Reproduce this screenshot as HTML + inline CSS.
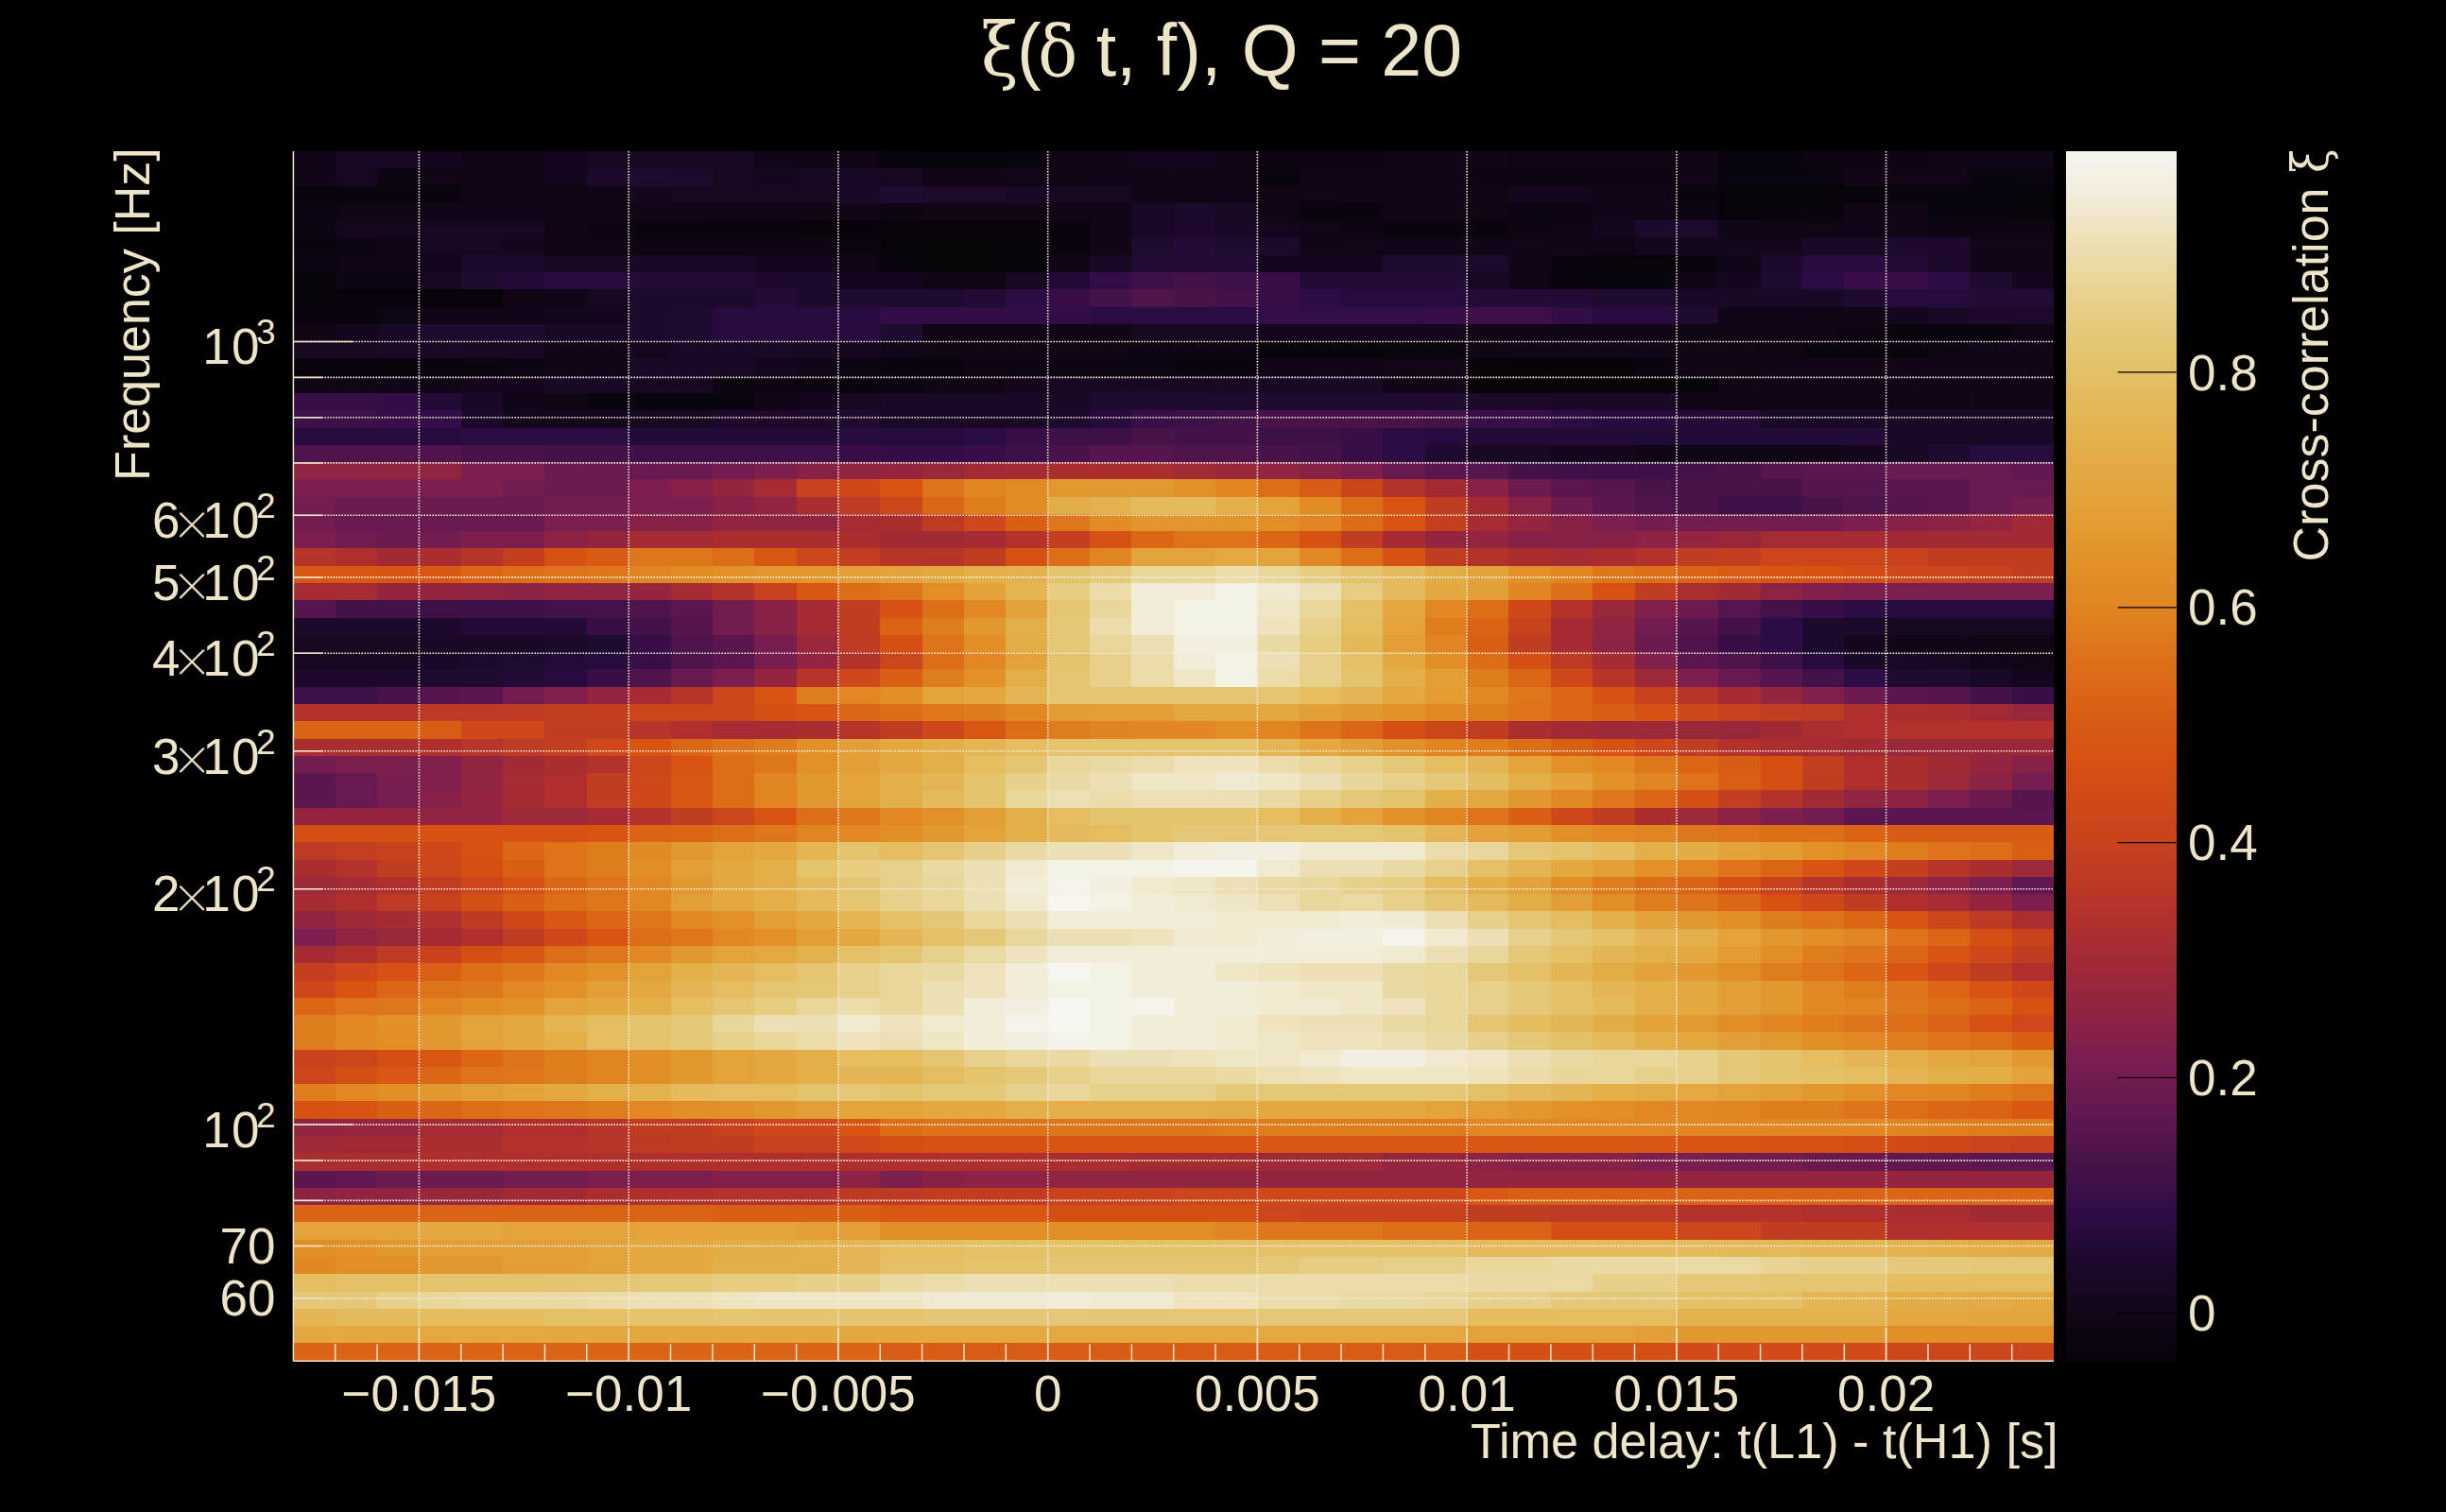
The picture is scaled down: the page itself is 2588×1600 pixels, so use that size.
<!DOCTYPE html><html><head><meta charset="utf-8"><style>html,body{margin:0;padding:0;background:#000;overflow:hidden}svg{display:block}text{font-family:'Liberation Sans', Arial, sans-serif;fill:#eee5c9}.s{font-family:"DejaVu Serif","Liberation Serif",serif}</style></head><body>
<svg width="2588" height="1600" viewBox="0 0 2588 1600">
<rect width="2588" height="1600" fill="#000"/>
<g shape-rendering="crispEdges">
<rect x="310" y="160" width="45" height="18" fill="#110618"/>
<rect x="355" y="160" width="44" height="18" fill="#190826"/>
<rect x="399" y="160" width="44" height="18" fill="#190826"/>
<rect x="443" y="160" width="45" height="18" fill="#14071d"/>
<rect x="488" y="160" width="44" height="18" fill="#0f0515"/>
<rect x="532" y="160" width="44" height="18" fill="#110618"/>
<rect x="576" y="160" width="45" height="18" fill="#14071d"/>
<rect x="621" y="160" width="44" height="18" fill="#170822"/>
<rect x="665" y="160" width="45" height="18" fill="#170822"/>
<rect x="710" y="160" width="44" height="18" fill="#170822"/>
<rect x="754" y="160" width="44" height="18" fill="#170822"/>
<rect x="798" y="160" width="45" height="18" fill="#110618"/>
<rect x="843" y="160" width="44" height="18" fill="#0f0515"/>
<rect x="887" y="160" width="44" height="18" fill="#0f0515"/>
<rect x="931" y="160" width="45" height="18" fill="#0a040e"/>
<rect x="976" y="160" width="44" height="18" fill="#08030b"/>
<rect x="1020" y="160" width="44" height="18" fill="#08030b"/>
<rect x="1064" y="160" width="45" height="18" fill="#0a040e"/>
<rect x="1109" y="160" width="44" height="18" fill="#0f0515"/>
<rect x="1153" y="160" width="44" height="18" fill="#110618"/>
<rect x="1197" y="160" width="45" height="18" fill="#14071d"/>
<rect x="1242" y="160" width="44" height="18" fill="#14071d"/>
<rect x="1286" y="160" width="44" height="18" fill="#0f0515"/>
<rect x="1330" y="160" width="45" height="18" fill="#0d0511"/>
<rect x="1375" y="160" width="44" height="18" fill="#0d0511"/>
<rect x="1419" y="160" width="44" height="18" fill="#0d0511"/>
<rect x="1463" y="160" width="45" height="18" fill="#110618"/>
<rect x="1508" y="160" width="44" height="18" fill="#110618"/>
<rect x="1552" y="160" width="44" height="18" fill="#110618"/>
<rect x="1596" y="160" width="45" height="18" fill="#0f0515"/>
<rect x="1641" y="160" width="44" height="18" fill="#0f0515"/>
<rect x="1685" y="160" width="45" height="18" fill="#0f0515"/>
<rect x="1730" y="160" width="44" height="18" fill="#0f0515"/>
<rect x="1774" y="160" width="44" height="18" fill="#0f0515"/>
<rect x="1818" y="160" width="45" height="18" fill="#0a040e"/>
<rect x="1863" y="160" width="44" height="18" fill="#0a040e"/>
<rect x="1907" y="160" width="44" height="18" fill="#0d0511"/>
<rect x="1951" y="160" width="45" height="18" fill="#0d0511"/>
<rect x="1996" y="160" width="44" height="18" fill="#0d0511"/>
<rect x="2040" y="160" width="44" height="18" fill="#110618"/>
<rect x="2084" y="160" width="45" height="18" fill="#110618"/>
<rect x="2129" y="160" width="44" height="18" fill="#110618"/>
<rect x="310" y="178" width="45" height="19" fill="#110618"/>
<rect x="355" y="178" width="44" height="19" fill="#170822"/>
<rect x="399" y="178" width="44" height="19" fill="#0d0511"/>
<rect x="443" y="178" width="45" height="19" fill="#0f0515"/>
<rect x="488" y="178" width="44" height="19" fill="#0f0515"/>
<rect x="532" y="178" width="44" height="19" fill="#0f0515"/>
<rect x="576" y="178" width="45" height="19" fill="#14071d"/>
<rect x="621" y="178" width="44" height="19" fill="#1c092b"/>
<rect x="665" y="178" width="45" height="19" fill="#1f0a30"/>
<rect x="710" y="178" width="44" height="19" fill="#1c092b"/>
<rect x="754" y="178" width="44" height="19" fill="#170822"/>
<rect x="798" y="178" width="45" height="19" fill="#14071d"/>
<rect x="843" y="178" width="44" height="19" fill="#170822"/>
<rect x="887" y="178" width="44" height="19" fill="#190826"/>
<rect x="931" y="178" width="45" height="19" fill="#170822"/>
<rect x="976" y="178" width="44" height="19" fill="#110618"/>
<rect x="1020" y="178" width="44" height="19" fill="#110618"/>
<rect x="1064" y="178" width="45" height="19" fill="#110618"/>
<rect x="1109" y="178" width="44" height="19" fill="#0f0515"/>
<rect x="1153" y="178" width="44" height="19" fill="#110618"/>
<rect x="1197" y="178" width="45" height="19" fill="#110618"/>
<rect x="1242" y="178" width="44" height="19" fill="#0f0515"/>
<rect x="1286" y="178" width="44" height="19" fill="#0f0515"/>
<rect x="1330" y="178" width="45" height="19" fill="#0a040e"/>
<rect x="1375" y="178" width="44" height="19" fill="#0f0515"/>
<rect x="1419" y="178" width="44" height="19" fill="#0f0515"/>
<rect x="1463" y="178" width="45" height="19" fill="#110618"/>
<rect x="1508" y="178" width="44" height="19" fill="#110618"/>
<rect x="1552" y="178" width="44" height="19" fill="#0d0511"/>
<rect x="1596" y="178" width="45" height="19" fill="#0d0511"/>
<rect x="1641" y="178" width="44" height="19" fill="#0d0511"/>
<rect x="1685" y="178" width="45" height="19" fill="#0d0511"/>
<rect x="1730" y="178" width="44" height="19" fill="#0d0511"/>
<rect x="1774" y="178" width="44" height="19" fill="#0f0515"/>
<rect x="1818" y="178" width="45" height="19" fill="#0a040e"/>
<rect x="1863" y="178" width="44" height="19" fill="#0a040e"/>
<rect x="1907" y="178" width="44" height="19" fill="#0a040e"/>
<rect x="1951" y="178" width="45" height="19" fill="#110618"/>
<rect x="1996" y="178" width="44" height="19" fill="#0f0515"/>
<rect x="2040" y="178" width="44" height="19" fill="#0f0515"/>
<rect x="2084" y="178" width="45" height="19" fill="#0a040e"/>
<rect x="2129" y="178" width="44" height="19" fill="#0a040e"/>
<rect x="310" y="197" width="45" height="18" fill="#0a040e"/>
<rect x="355" y="197" width="44" height="18" fill="#0a040e"/>
<rect x="399" y="197" width="44" height="18" fill="#0a040e"/>
<rect x="443" y="197" width="45" height="18" fill="#0a040e"/>
<rect x="488" y="197" width="44" height="18" fill="#0f0515"/>
<rect x="532" y="197" width="44" height="18" fill="#0f0515"/>
<rect x="576" y="197" width="45" height="18" fill="#110618"/>
<rect x="621" y="197" width="44" height="18" fill="#110618"/>
<rect x="665" y="197" width="45" height="18" fill="#14071d"/>
<rect x="710" y="197" width="44" height="18" fill="#170822"/>
<rect x="754" y="197" width="44" height="18" fill="#170822"/>
<rect x="798" y="197" width="45" height="18" fill="#170822"/>
<rect x="843" y="197" width="44" height="18" fill="#170822"/>
<rect x="887" y="197" width="44" height="18" fill="#190826"/>
<rect x="931" y="197" width="45" height="18" fill="#1f0a30"/>
<rect x="976" y="197" width="44" height="18" fill="#1c092b"/>
<rect x="1020" y="197" width="44" height="18" fill="#1c092b"/>
<rect x="1064" y="197" width="45" height="18" fill="#190826"/>
<rect x="1109" y="197" width="44" height="18" fill="#170822"/>
<rect x="1153" y="197" width="44" height="18" fill="#170822"/>
<rect x="1197" y="197" width="45" height="18" fill="#110618"/>
<rect x="1242" y="197" width="44" height="18" fill="#0f0515"/>
<rect x="1286" y="197" width="44" height="18" fill="#0f0515"/>
<rect x="1330" y="197" width="45" height="18" fill="#0f0515"/>
<rect x="1375" y="197" width="44" height="18" fill="#0f0515"/>
<rect x="1419" y="197" width="44" height="18" fill="#110618"/>
<rect x="1463" y="197" width="45" height="18" fill="#110618"/>
<rect x="1508" y="197" width="44" height="18" fill="#110618"/>
<rect x="1552" y="197" width="44" height="18" fill="#0f0515"/>
<rect x="1596" y="197" width="45" height="18" fill="#14071d"/>
<rect x="1641" y="197" width="44" height="18" fill="#14071d"/>
<rect x="1685" y="197" width="45" height="18" fill="#110618"/>
<rect x="1730" y="197" width="44" height="18" fill="#110618"/>
<rect x="1774" y="197" width="44" height="18" fill="#0a040e"/>
<rect x="1818" y="197" width="45" height="18" fill="#070309"/>
<rect x="1863" y="197" width="44" height="18" fill="#070309"/>
<rect x="1907" y="197" width="44" height="18" fill="#070309"/>
<rect x="1951" y="197" width="45" height="18" fill="#08030b"/>
<rect x="1996" y="197" width="44" height="18" fill="#0a040e"/>
<rect x="2040" y="197" width="44" height="18" fill="#0a040e"/>
<rect x="2084" y="197" width="45" height="18" fill="#0a040e"/>
<rect x="2129" y="197" width="44" height="18" fill="#08030b"/>
<rect x="310" y="215" width="45" height="18" fill="#0d0511"/>
<rect x="355" y="215" width="44" height="18" fill="#0f0515"/>
<rect x="399" y="215" width="44" height="18" fill="#0f0515"/>
<rect x="443" y="215" width="45" height="18" fill="#110618"/>
<rect x="488" y="215" width="44" height="18" fill="#110618"/>
<rect x="532" y="215" width="44" height="18" fill="#110618"/>
<rect x="576" y="215" width="45" height="18" fill="#110618"/>
<rect x="621" y="215" width="44" height="18" fill="#110618"/>
<rect x="665" y="215" width="45" height="18" fill="#110618"/>
<rect x="710" y="215" width="44" height="18" fill="#110618"/>
<rect x="754" y="215" width="44" height="18" fill="#0f0515"/>
<rect x="798" y="215" width="45" height="18" fill="#0f0515"/>
<rect x="843" y="215" width="44" height="18" fill="#0f0515"/>
<rect x="887" y="215" width="44" height="18" fill="#110618"/>
<rect x="931" y="215" width="45" height="18" fill="#0d0511"/>
<rect x="976" y="215" width="44" height="18" fill="#0f0515"/>
<rect x="1020" y="215" width="44" height="18" fill="#0f0515"/>
<rect x="1064" y="215" width="45" height="18" fill="#0f0515"/>
<rect x="1109" y="215" width="44" height="18" fill="#110618"/>
<rect x="1153" y="215" width="44" height="18" fill="#110618"/>
<rect x="1197" y="215" width="45" height="18" fill="#190826"/>
<rect x="1242" y="215" width="44" height="18" fill="#1c092b"/>
<rect x="1286" y="215" width="44" height="18" fill="#170822"/>
<rect x="1330" y="215" width="45" height="18" fill="#0f0515"/>
<rect x="1375" y="215" width="44" height="18" fill="#0a040e"/>
<rect x="1419" y="215" width="44" height="18" fill="#0a040e"/>
<rect x="1463" y="215" width="45" height="18" fill="#110618"/>
<rect x="1508" y="215" width="44" height="18" fill="#110618"/>
<rect x="1552" y="215" width="44" height="18" fill="#0f0515"/>
<rect x="1596" y="215" width="45" height="18" fill="#0d0511"/>
<rect x="1641" y="215" width="44" height="18" fill="#0d0511"/>
<rect x="1685" y="215" width="45" height="18" fill="#110618"/>
<rect x="1730" y="215" width="44" height="18" fill="#110618"/>
<rect x="1774" y="215" width="44" height="18" fill="#0d0511"/>
<rect x="1818" y="215" width="45" height="18" fill="#08030b"/>
<rect x="1863" y="215" width="44" height="18" fill="#08030b"/>
<rect x="1907" y="215" width="44" height="18" fill="#0a040e"/>
<rect x="1951" y="215" width="45" height="18" fill="#0f0515"/>
<rect x="1996" y="215" width="44" height="18" fill="#0f0515"/>
<rect x="2040" y="215" width="44" height="18" fill="#0a040e"/>
<rect x="2084" y="215" width="45" height="18" fill="#0a040e"/>
<rect x="2129" y="215" width="44" height="18" fill="#070309"/>
<rect x="310" y="233" width="45" height="18" fill="#0d0511"/>
<rect x="355" y="233" width="44" height="18" fill="#14071d"/>
<rect x="399" y="233" width="44" height="18" fill="#14071d"/>
<rect x="443" y="233" width="45" height="18" fill="#170822"/>
<rect x="488" y="233" width="44" height="18" fill="#170822"/>
<rect x="532" y="233" width="44" height="18" fill="#170822"/>
<rect x="576" y="233" width="45" height="18" fill="#110618"/>
<rect x="621" y="233" width="44" height="18" fill="#0d0511"/>
<rect x="665" y="233" width="45" height="18" fill="#0a040e"/>
<rect x="710" y="233" width="44" height="18" fill="#0a040e"/>
<rect x="754" y="233" width="44" height="18" fill="#0a040e"/>
<rect x="798" y="233" width="45" height="18" fill="#0a040e"/>
<rect x="843" y="233" width="44" height="18" fill="#08030b"/>
<rect x="887" y="233" width="44" height="18" fill="#08030b"/>
<rect x="931" y="233" width="45" height="18" fill="#070309"/>
<rect x="976" y="233" width="44" height="18" fill="#070309"/>
<rect x="1020" y="233" width="44" height="18" fill="#070309"/>
<rect x="1064" y="233" width="45" height="18" fill="#08030b"/>
<rect x="1109" y="233" width="44" height="18" fill="#0a040e"/>
<rect x="1153" y="233" width="44" height="18" fill="#110618"/>
<rect x="1197" y="233" width="45" height="18" fill="#190826"/>
<rect x="1242" y="233" width="44" height="18" fill="#1c092b"/>
<rect x="1286" y="233" width="44" height="18" fill="#190826"/>
<rect x="1330" y="233" width="45" height="18" fill="#14071d"/>
<rect x="1375" y="233" width="44" height="18" fill="#110618"/>
<rect x="1419" y="233" width="44" height="18" fill="#0d0511"/>
<rect x="1463" y="233" width="45" height="18" fill="#0a040e"/>
<rect x="1508" y="233" width="44" height="18" fill="#0a040e"/>
<rect x="1552" y="233" width="44" height="18" fill="#0a040e"/>
<rect x="1596" y="233" width="45" height="18" fill="#0d0511"/>
<rect x="1641" y="233" width="44" height="18" fill="#0f0515"/>
<rect x="1685" y="233" width="45" height="18" fill="#14071d"/>
<rect x="1730" y="233" width="44" height="18" fill="#1c092b"/>
<rect x="1774" y="233" width="44" height="18" fill="#1c092b"/>
<rect x="1818" y="233" width="45" height="18" fill="#110618"/>
<rect x="1863" y="233" width="44" height="18" fill="#0f0515"/>
<rect x="1907" y="233" width="44" height="18" fill="#0f0515"/>
<rect x="1951" y="233" width="45" height="18" fill="#110618"/>
<rect x="1996" y="233" width="44" height="18" fill="#110618"/>
<rect x="2040" y="233" width="44" height="18" fill="#0d0511"/>
<rect x="2084" y="233" width="45" height="18" fill="#0d0511"/>
<rect x="2129" y="233" width="44" height="18" fill="#0d0511"/>
<rect x="310" y="251" width="45" height="19" fill="#0a040e"/>
<rect x="355" y="251" width="44" height="19" fill="#0d0511"/>
<rect x="399" y="251" width="44" height="19" fill="#110618"/>
<rect x="443" y="251" width="45" height="19" fill="#170822"/>
<rect x="488" y="251" width="44" height="19" fill="#170822"/>
<rect x="532" y="251" width="44" height="19" fill="#14071d"/>
<rect x="576" y="251" width="45" height="19" fill="#0f0515"/>
<rect x="621" y="251" width="44" height="19" fill="#0f0515"/>
<rect x="665" y="251" width="45" height="19" fill="#0d0511"/>
<rect x="710" y="251" width="44" height="19" fill="#0d0511"/>
<rect x="754" y="251" width="44" height="19" fill="#0d0511"/>
<rect x="798" y="251" width="45" height="19" fill="#0d0511"/>
<rect x="843" y="251" width="44" height="19" fill="#0d0511"/>
<rect x="887" y="251" width="44" height="19" fill="#0a040e"/>
<rect x="931" y="251" width="45" height="19" fill="#070309"/>
<rect x="976" y="251" width="44" height="19" fill="#070309"/>
<rect x="1020" y="251" width="44" height="19" fill="#070309"/>
<rect x="1064" y="251" width="45" height="19" fill="#070309"/>
<rect x="1109" y="251" width="44" height="19" fill="#0a040e"/>
<rect x="1153" y="251" width="44" height="19" fill="#110618"/>
<rect x="1197" y="251" width="45" height="19" fill="#1f0a30"/>
<rect x="1242" y="251" width="44" height="19" fill="#230b37"/>
<rect x="1286" y="251" width="44" height="19" fill="#1f0a30"/>
<rect x="1330" y="251" width="45" height="19" fill="#1c092b"/>
<rect x="1375" y="251" width="44" height="19" fill="#110618"/>
<rect x="1419" y="251" width="44" height="19" fill="#110618"/>
<rect x="1463" y="251" width="45" height="19" fill="#110618"/>
<rect x="1508" y="251" width="44" height="19" fill="#110618"/>
<rect x="1552" y="251" width="44" height="19" fill="#110618"/>
<rect x="1596" y="251" width="45" height="19" fill="#110618"/>
<rect x="1641" y="251" width="44" height="19" fill="#110618"/>
<rect x="1685" y="251" width="45" height="19" fill="#110618"/>
<rect x="1730" y="251" width="44" height="19" fill="#14071d"/>
<rect x="1774" y="251" width="44" height="19" fill="#14071d"/>
<rect x="1818" y="251" width="45" height="19" fill="#14071d"/>
<rect x="1863" y="251" width="44" height="19" fill="#14071d"/>
<rect x="1907" y="251" width="44" height="19" fill="#190826"/>
<rect x="1951" y="251" width="45" height="19" fill="#190826"/>
<rect x="1996" y="251" width="44" height="19" fill="#1c092b"/>
<rect x="2040" y="251" width="44" height="19" fill="#1c092b"/>
<rect x="2084" y="251" width="45" height="19" fill="#110618"/>
<rect x="2129" y="251" width="44" height="19" fill="#110618"/>
<rect x="310" y="270" width="45" height="18" fill="#0d0511"/>
<rect x="355" y="270" width="44" height="18" fill="#0f0515"/>
<rect x="399" y="270" width="44" height="18" fill="#0f0515"/>
<rect x="443" y="270" width="45" height="18" fill="#14071d"/>
<rect x="488" y="270" width="44" height="18" fill="#1c092b"/>
<rect x="532" y="270" width="44" height="18" fill="#1c092b"/>
<rect x="576" y="270" width="45" height="18" fill="#170822"/>
<rect x="621" y="270" width="44" height="18" fill="#170822"/>
<rect x="665" y="270" width="45" height="18" fill="#190826"/>
<rect x="710" y="270" width="44" height="18" fill="#190826"/>
<rect x="754" y="270" width="44" height="18" fill="#190826"/>
<rect x="798" y="270" width="45" height="18" fill="#14071d"/>
<rect x="843" y="270" width="44" height="18" fill="#14071d"/>
<rect x="887" y="270" width="44" height="18" fill="#0f0515"/>
<rect x="931" y="270" width="45" height="18" fill="#0a040e"/>
<rect x="976" y="270" width="44" height="18" fill="#070309"/>
<rect x="1020" y="270" width="44" height="18" fill="#070309"/>
<rect x="1064" y="270" width="45" height="18" fill="#08030b"/>
<rect x="1109" y="270" width="44" height="18" fill="#110618"/>
<rect x="1153" y="270" width="44" height="18" fill="#190826"/>
<rect x="1197" y="270" width="45" height="18" fill="#230b37"/>
<rect x="1242" y="270" width="44" height="18" fill="#230b37"/>
<rect x="1286" y="270" width="44" height="18" fill="#230b37"/>
<rect x="1330" y="270" width="45" height="18" fill="#14071d"/>
<rect x="1375" y="270" width="44" height="18" fill="#14071d"/>
<rect x="1419" y="270" width="44" height="18" fill="#14071d"/>
<rect x="1463" y="270" width="45" height="18" fill="#1f0a30"/>
<rect x="1508" y="270" width="44" height="18" fill="#1f0a30"/>
<rect x="1552" y="270" width="44" height="18" fill="#1c092b"/>
<rect x="1596" y="270" width="45" height="18" fill="#110618"/>
<rect x="1641" y="270" width="44" height="18" fill="#0a040e"/>
<rect x="1685" y="270" width="45" height="18" fill="#08030b"/>
<rect x="1730" y="270" width="44" height="18" fill="#08030b"/>
<rect x="1774" y="270" width="44" height="18" fill="#0a040e"/>
<rect x="1818" y="270" width="45" height="18" fill="#110618"/>
<rect x="1863" y="270" width="44" height="18" fill="#1c092b"/>
<rect x="1907" y="270" width="44" height="18" fill="#280b3e"/>
<rect x="1951" y="270" width="45" height="18" fill="#280b3e"/>
<rect x="1996" y="270" width="44" height="18" fill="#230b37"/>
<rect x="2040" y="270" width="44" height="18" fill="#1c092b"/>
<rect x="2084" y="270" width="45" height="18" fill="#110618"/>
<rect x="2129" y="270" width="44" height="18" fill="#110618"/>
<rect x="310" y="288" width="45" height="18" fill="#08030b"/>
<rect x="355" y="288" width="44" height="18" fill="#0d0511"/>
<rect x="399" y="288" width="44" height="18" fill="#0d0511"/>
<rect x="443" y="288" width="45" height="18" fill="#170822"/>
<rect x="488" y="288" width="44" height="18" fill="#1f0a30"/>
<rect x="532" y="288" width="44" height="18" fill="#230b37"/>
<rect x="576" y="288" width="45" height="18" fill="#280b3e"/>
<rect x="621" y="288" width="44" height="18" fill="#280b3e"/>
<rect x="665" y="288" width="45" height="18" fill="#230b37"/>
<rect x="710" y="288" width="44" height="18" fill="#230b37"/>
<rect x="754" y="288" width="44" height="18" fill="#230b37"/>
<rect x="798" y="288" width="45" height="18" fill="#1c092b"/>
<rect x="843" y="288" width="44" height="18" fill="#1c092b"/>
<rect x="887" y="288" width="44" height="18" fill="#14071d"/>
<rect x="931" y="288" width="45" height="18" fill="#14071d"/>
<rect x="976" y="288" width="44" height="18" fill="#0f0515"/>
<rect x="1020" y="288" width="44" height="18" fill="#0f0515"/>
<rect x="1064" y="288" width="45" height="18" fill="#170822"/>
<rect x="1109" y="288" width="44" height="18" fill="#230b37"/>
<rect x="1153" y="288" width="44" height="18" fill="#320d48"/>
<rect x="1197" y="288" width="45" height="18" fill="#3d1048"/>
<rect x="1242" y="288" width="44" height="18" fill="#431248"/>
<rect x="1286" y="288" width="44" height="18" fill="#3d1048"/>
<rect x="1330" y="288" width="45" height="18" fill="#370e48"/>
<rect x="1375" y="288" width="44" height="18" fill="#230b37"/>
<rect x="1419" y="288" width="44" height="18" fill="#230b37"/>
<rect x="1463" y="288" width="45" height="18" fill="#230b37"/>
<rect x="1508" y="288" width="44" height="18" fill="#230b37"/>
<rect x="1552" y="288" width="44" height="18" fill="#170822"/>
<rect x="1596" y="288" width="45" height="18" fill="#0f0515"/>
<rect x="1641" y="288" width="44" height="18" fill="#0a040e"/>
<rect x="1685" y="288" width="45" height="18" fill="#0a040e"/>
<rect x="1730" y="288" width="44" height="18" fill="#0a040e"/>
<rect x="1774" y="288" width="44" height="18" fill="#110618"/>
<rect x="1818" y="288" width="45" height="18" fill="#14071d"/>
<rect x="1863" y="288" width="44" height="18" fill="#1f0a30"/>
<rect x="1907" y="288" width="44" height="18" fill="#2c0c45"/>
<rect x="1951" y="288" width="45" height="18" fill="#370e48"/>
<rect x="1996" y="288" width="44" height="18" fill="#370e48"/>
<rect x="2040" y="288" width="44" height="18" fill="#2c0c45"/>
<rect x="2084" y="288" width="45" height="18" fill="#1f0a30"/>
<rect x="2129" y="288" width="44" height="18" fill="#14071d"/>
<rect x="310" y="306" width="45" height="19" fill="#08030b"/>
<rect x="355" y="306" width="44" height="19" fill="#08030b"/>
<rect x="399" y="306" width="44" height="19" fill="#08030b"/>
<rect x="443" y="306" width="45" height="19" fill="#08030b"/>
<rect x="488" y="306" width="44" height="19" fill="#08030b"/>
<rect x="532" y="306" width="44" height="19" fill="#0f0515"/>
<rect x="576" y="306" width="45" height="19" fill="#110618"/>
<rect x="621" y="306" width="44" height="19" fill="#170822"/>
<rect x="665" y="306" width="45" height="19" fill="#1c092b"/>
<rect x="710" y="306" width="44" height="19" fill="#1c092b"/>
<rect x="754" y="306" width="44" height="19" fill="#1c092b"/>
<rect x="798" y="306" width="45" height="19" fill="#230b37"/>
<rect x="843" y="306" width="44" height="19" fill="#1c092b"/>
<rect x="887" y="306" width="44" height="19" fill="#1f0a30"/>
<rect x="931" y="306" width="45" height="19" fill="#1f0a30"/>
<rect x="976" y="306" width="44" height="19" fill="#1f0a30"/>
<rect x="1020" y="306" width="44" height="19" fill="#230b37"/>
<rect x="1064" y="306" width="45" height="19" fill="#2c0c45"/>
<rect x="1109" y="306" width="44" height="19" fill="#370e48"/>
<rect x="1153" y="306" width="44" height="19" fill="#431248"/>
<rect x="1197" y="306" width="45" height="19" fill="#4f144c"/>
<rect x="1242" y="306" width="44" height="19" fill="#49134a"/>
<rect x="1286" y="306" width="44" height="19" fill="#431248"/>
<rect x="1330" y="306" width="45" height="19" fill="#370e48"/>
<rect x="1375" y="306" width="44" height="19" fill="#2c0c45"/>
<rect x="1419" y="306" width="44" height="19" fill="#280b3e"/>
<rect x="1463" y="306" width="45" height="19" fill="#280b3e"/>
<rect x="1508" y="306" width="44" height="19" fill="#280b3e"/>
<rect x="1552" y="306" width="44" height="19" fill="#230b37"/>
<rect x="1596" y="306" width="45" height="19" fill="#230b37"/>
<rect x="1641" y="306" width="44" height="19" fill="#230b37"/>
<rect x="1685" y="306" width="45" height="19" fill="#1f0a30"/>
<rect x="1730" y="306" width="44" height="19" fill="#1f0a30"/>
<rect x="1774" y="306" width="44" height="19" fill="#190826"/>
<rect x="1818" y="306" width="45" height="19" fill="#190826"/>
<rect x="1863" y="306" width="44" height="19" fill="#190826"/>
<rect x="1907" y="306" width="44" height="19" fill="#190826"/>
<rect x="1951" y="306" width="45" height="19" fill="#1f0a30"/>
<rect x="1996" y="306" width="44" height="19" fill="#280b3e"/>
<rect x="2040" y="306" width="44" height="19" fill="#280b3e"/>
<rect x="2084" y="306" width="45" height="19" fill="#230b37"/>
<rect x="2129" y="306" width="44" height="19" fill="#230b37"/>
<rect x="310" y="325" width="45" height="18" fill="#0a040e"/>
<rect x="355" y="325" width="44" height="18" fill="#0a040e"/>
<rect x="399" y="325" width="44" height="18" fill="#0d0511"/>
<rect x="443" y="325" width="45" height="18" fill="#110618"/>
<rect x="488" y="325" width="44" height="18" fill="#110618"/>
<rect x="532" y="325" width="44" height="18" fill="#110618"/>
<rect x="576" y="325" width="45" height="18" fill="#14071d"/>
<rect x="621" y="325" width="44" height="18" fill="#14071d"/>
<rect x="665" y="325" width="45" height="18" fill="#1c092b"/>
<rect x="710" y="325" width="44" height="18" fill="#1f0a30"/>
<rect x="754" y="325" width="44" height="18" fill="#280b3e"/>
<rect x="798" y="325" width="45" height="18" fill="#280b3e"/>
<rect x="843" y="325" width="44" height="18" fill="#280b3e"/>
<rect x="887" y="325" width="44" height="18" fill="#280b3e"/>
<rect x="931" y="325" width="45" height="18" fill="#320d48"/>
<rect x="976" y="325" width="44" height="18" fill="#320d48"/>
<rect x="1020" y="325" width="44" height="18" fill="#320d48"/>
<rect x="1064" y="325" width="45" height="18" fill="#320d48"/>
<rect x="1109" y="325" width="44" height="18" fill="#320d48"/>
<rect x="1153" y="325" width="44" height="18" fill="#2c0c45"/>
<rect x="1197" y="325" width="45" height="18" fill="#2c0c45"/>
<rect x="1242" y="325" width="44" height="18" fill="#2c0c45"/>
<rect x="1286" y="325" width="44" height="18" fill="#2c0c45"/>
<rect x="1330" y="325" width="45" height="18" fill="#320d48"/>
<rect x="1375" y="325" width="44" height="18" fill="#320d48"/>
<rect x="1419" y="325" width="44" height="18" fill="#320d48"/>
<rect x="1463" y="325" width="45" height="18" fill="#320d48"/>
<rect x="1508" y="325" width="44" height="18" fill="#370e48"/>
<rect x="1552" y="325" width="44" height="18" fill="#3d1048"/>
<rect x="1596" y="325" width="45" height="18" fill="#3d1048"/>
<rect x="1641" y="325" width="44" height="18" fill="#320d48"/>
<rect x="1685" y="325" width="45" height="18" fill="#280b3e"/>
<rect x="1730" y="325" width="44" height="18" fill="#280b3e"/>
<rect x="1774" y="325" width="44" height="18" fill="#1f0a30"/>
<rect x="1818" y="325" width="45" height="18" fill="#110618"/>
<rect x="1863" y="325" width="44" height="18" fill="#110618"/>
<rect x="1907" y="325" width="44" height="18" fill="#0f0515"/>
<rect x="1951" y="325" width="45" height="18" fill="#110618"/>
<rect x="1996" y="325" width="44" height="18" fill="#14071d"/>
<rect x="2040" y="325" width="44" height="18" fill="#190826"/>
<rect x="2084" y="325" width="45" height="18" fill="#1c092b"/>
<rect x="2129" y="325" width="44" height="18" fill="#1c092b"/>
<rect x="310" y="343" width="45" height="18" fill="#0f0515"/>
<rect x="355" y="343" width="44" height="18" fill="#14071d"/>
<rect x="399" y="343" width="44" height="18" fill="#190826"/>
<rect x="443" y="343" width="45" height="18" fill="#1f0a30"/>
<rect x="488" y="343" width="44" height="18" fill="#1f0a30"/>
<rect x="532" y="343" width="44" height="18" fill="#1f0a30"/>
<rect x="576" y="343" width="45" height="18" fill="#190826"/>
<rect x="621" y="343" width="44" height="18" fill="#190826"/>
<rect x="665" y="343" width="45" height="18" fill="#1c092b"/>
<rect x="710" y="343" width="44" height="18" fill="#1f0a30"/>
<rect x="754" y="343" width="44" height="18" fill="#280b3e"/>
<rect x="798" y="343" width="45" height="18" fill="#280b3e"/>
<rect x="843" y="343" width="44" height="18" fill="#280b3e"/>
<rect x="887" y="343" width="44" height="18" fill="#280b3e"/>
<rect x="931" y="343" width="45" height="18" fill="#1f0a30"/>
<rect x="976" y="343" width="44" height="18" fill="#110618"/>
<rect x="1020" y="343" width="44" height="18" fill="#110618"/>
<rect x="1064" y="343" width="45" height="18" fill="#110618"/>
<rect x="1109" y="343" width="44" height="18" fill="#110618"/>
<rect x="1153" y="343" width="44" height="18" fill="#110618"/>
<rect x="1197" y="343" width="45" height="18" fill="#170822"/>
<rect x="1242" y="343" width="44" height="18" fill="#170822"/>
<rect x="1286" y="343" width="44" height="18" fill="#170822"/>
<rect x="1330" y="343" width="45" height="18" fill="#14071d"/>
<rect x="1375" y="343" width="44" height="18" fill="#14071d"/>
<rect x="1419" y="343" width="44" height="18" fill="#14071d"/>
<rect x="1463" y="343" width="45" height="18" fill="#14071d"/>
<rect x="1508" y="343" width="44" height="18" fill="#14071d"/>
<rect x="1552" y="343" width="44" height="18" fill="#110618"/>
<rect x="1596" y="343" width="45" height="18" fill="#110618"/>
<rect x="1641" y="343" width="44" height="18" fill="#110618"/>
<rect x="1685" y="343" width="45" height="18" fill="#110618"/>
<rect x="1730" y="343" width="44" height="18" fill="#110618"/>
<rect x="1774" y="343" width="44" height="18" fill="#0f0515"/>
<rect x="1818" y="343" width="45" height="18" fill="#0f0515"/>
<rect x="1863" y="343" width="44" height="18" fill="#0f0515"/>
<rect x="1907" y="343" width="44" height="18" fill="#0f0515"/>
<rect x="1951" y="343" width="45" height="18" fill="#0d0511"/>
<rect x="1996" y="343" width="44" height="18" fill="#0a040e"/>
<rect x="2040" y="343" width="44" height="18" fill="#0a040e"/>
<rect x="2084" y="343" width="45" height="18" fill="#0a040e"/>
<rect x="2129" y="343" width="44" height="18" fill="#0f0515"/>
<rect x="310" y="361" width="45" height="18" fill="#170822"/>
<rect x="355" y="361" width="44" height="18" fill="#170822"/>
<rect x="399" y="361" width="44" height="18" fill="#190826"/>
<rect x="443" y="361" width="45" height="18" fill="#190826"/>
<rect x="488" y="361" width="44" height="18" fill="#170822"/>
<rect x="532" y="361" width="44" height="18" fill="#170822"/>
<rect x="576" y="361" width="45" height="18" fill="#110618"/>
<rect x="621" y="361" width="44" height="18" fill="#110618"/>
<rect x="665" y="361" width="45" height="18" fill="#14071d"/>
<rect x="710" y="361" width="44" height="18" fill="#190826"/>
<rect x="754" y="361" width="44" height="18" fill="#190826"/>
<rect x="798" y="361" width="45" height="18" fill="#190826"/>
<rect x="843" y="361" width="44" height="18" fill="#170822"/>
<rect x="887" y="361" width="44" height="18" fill="#14071d"/>
<rect x="931" y="361" width="45" height="18" fill="#110618"/>
<rect x="976" y="361" width="44" height="18" fill="#0f0515"/>
<rect x="1020" y="361" width="44" height="18" fill="#0f0515"/>
<rect x="1064" y="361" width="45" height="18" fill="#0f0515"/>
<rect x="1109" y="361" width="44" height="18" fill="#0f0515"/>
<rect x="1153" y="361" width="44" height="18" fill="#0f0515"/>
<rect x="1197" y="361" width="45" height="18" fill="#0d0511"/>
<rect x="1242" y="361" width="44" height="18" fill="#0d0511"/>
<rect x="1286" y="361" width="44" height="18" fill="#0d0511"/>
<rect x="1330" y="361" width="45" height="18" fill="#08030b"/>
<rect x="1375" y="361" width="44" height="18" fill="#08030b"/>
<rect x="1419" y="361" width="44" height="18" fill="#08030b"/>
<rect x="1463" y="361" width="45" height="18" fill="#0a040e"/>
<rect x="1508" y="361" width="44" height="18" fill="#0a040e"/>
<rect x="1552" y="361" width="44" height="18" fill="#0f0515"/>
<rect x="1596" y="361" width="45" height="18" fill="#110618"/>
<rect x="1641" y="361" width="44" height="18" fill="#110618"/>
<rect x="1685" y="361" width="45" height="18" fill="#110618"/>
<rect x="1730" y="361" width="44" height="18" fill="#110618"/>
<rect x="1774" y="361" width="44" height="18" fill="#0f0515"/>
<rect x="1818" y="361" width="45" height="18" fill="#0f0515"/>
<rect x="1863" y="361" width="44" height="18" fill="#0d0511"/>
<rect x="1907" y="361" width="44" height="18" fill="#0a040e"/>
<rect x="1951" y="361" width="45" height="18" fill="#0a040e"/>
<rect x="1996" y="361" width="44" height="18" fill="#0a040e"/>
<rect x="2040" y="361" width="44" height="18" fill="#0d0511"/>
<rect x="2084" y="361" width="45" height="18" fill="#110618"/>
<rect x="2129" y="361" width="44" height="18" fill="#110618"/>
<rect x="310" y="379" width="45" height="19" fill="#08030b"/>
<rect x="355" y="379" width="44" height="19" fill="#08030b"/>
<rect x="399" y="379" width="44" height="19" fill="#08030b"/>
<rect x="443" y="379" width="45" height="19" fill="#0a040e"/>
<rect x="488" y="379" width="44" height="19" fill="#0a040e"/>
<rect x="532" y="379" width="44" height="19" fill="#0d0511"/>
<rect x="576" y="379" width="45" height="19" fill="#110618"/>
<rect x="621" y="379" width="44" height="19" fill="#110618"/>
<rect x="665" y="379" width="45" height="19" fill="#190826"/>
<rect x="710" y="379" width="44" height="19" fill="#190826"/>
<rect x="754" y="379" width="44" height="19" fill="#190826"/>
<rect x="798" y="379" width="45" height="19" fill="#14071d"/>
<rect x="843" y="379" width="44" height="19" fill="#110618"/>
<rect x="887" y="379" width="44" height="19" fill="#0d0511"/>
<rect x="931" y="379" width="45" height="19" fill="#0a040e"/>
<rect x="976" y="379" width="44" height="19" fill="#0a040e"/>
<rect x="1020" y="379" width="44" height="19" fill="#0d0511"/>
<rect x="1064" y="379" width="45" height="19" fill="#0d0511"/>
<rect x="1109" y="379" width="44" height="19" fill="#0d0511"/>
<rect x="1153" y="379" width="44" height="19" fill="#0d0511"/>
<rect x="1197" y="379" width="45" height="19" fill="#0d0511"/>
<rect x="1242" y="379" width="44" height="19" fill="#0a040e"/>
<rect x="1286" y="379" width="44" height="19" fill="#0a040e"/>
<rect x="1330" y="379" width="45" height="19" fill="#0f0515"/>
<rect x="1375" y="379" width="44" height="19" fill="#0f0515"/>
<rect x="1419" y="379" width="44" height="19" fill="#0f0515"/>
<rect x="1463" y="379" width="45" height="19" fill="#0f0515"/>
<rect x="1508" y="379" width="44" height="19" fill="#0f0515"/>
<rect x="1552" y="379" width="44" height="19" fill="#08030b"/>
<rect x="1596" y="379" width="45" height="19" fill="#08030b"/>
<rect x="1641" y="379" width="44" height="19" fill="#08030b"/>
<rect x="1685" y="379" width="45" height="19" fill="#08030b"/>
<rect x="1730" y="379" width="44" height="19" fill="#0a040e"/>
<rect x="1774" y="379" width="44" height="19" fill="#0f0515"/>
<rect x="1818" y="379" width="45" height="19" fill="#0f0515"/>
<rect x="1863" y="379" width="44" height="19" fill="#110618"/>
<rect x="1907" y="379" width="44" height="19" fill="#110618"/>
<rect x="1951" y="379" width="45" height="19" fill="#110618"/>
<rect x="1996" y="379" width="44" height="19" fill="#110618"/>
<rect x="2040" y="379" width="44" height="19" fill="#110618"/>
<rect x="2084" y="379" width="45" height="19" fill="#110618"/>
<rect x="2129" y="379" width="44" height="19" fill="#110618"/>
<rect x="310" y="398" width="45" height="18" fill="#0f0515"/>
<rect x="355" y="398" width="44" height="18" fill="#0f0515"/>
<rect x="399" y="398" width="44" height="18" fill="#110618"/>
<rect x="443" y="398" width="45" height="18" fill="#110618"/>
<rect x="488" y="398" width="44" height="18" fill="#14071d"/>
<rect x="532" y="398" width="44" height="18" fill="#14071d"/>
<rect x="576" y="398" width="45" height="18" fill="#190826"/>
<rect x="621" y="398" width="44" height="18" fill="#190826"/>
<rect x="665" y="398" width="45" height="18" fill="#170822"/>
<rect x="710" y="398" width="44" height="18" fill="#170822"/>
<rect x="754" y="398" width="44" height="18" fill="#0d0511"/>
<rect x="798" y="398" width="45" height="18" fill="#0d0511"/>
<rect x="843" y="398" width="44" height="18" fill="#0d0511"/>
<rect x="887" y="398" width="44" height="18" fill="#0a040e"/>
<rect x="931" y="398" width="45" height="18" fill="#0d0511"/>
<rect x="976" y="398" width="44" height="18" fill="#110618"/>
<rect x="1020" y="398" width="44" height="18" fill="#110618"/>
<rect x="1064" y="398" width="45" height="18" fill="#14071d"/>
<rect x="1109" y="398" width="44" height="18" fill="#170822"/>
<rect x="1153" y="398" width="44" height="18" fill="#170822"/>
<rect x="1197" y="398" width="45" height="18" fill="#170822"/>
<rect x="1242" y="398" width="44" height="18" fill="#170822"/>
<rect x="1286" y="398" width="44" height="18" fill="#190826"/>
<rect x="1330" y="398" width="45" height="18" fill="#190826"/>
<rect x="1375" y="398" width="44" height="18" fill="#190826"/>
<rect x="1419" y="398" width="44" height="18" fill="#190826"/>
<rect x="1463" y="398" width="45" height="18" fill="#110618"/>
<rect x="1508" y="398" width="44" height="18" fill="#110618"/>
<rect x="1552" y="398" width="44" height="18" fill="#070309"/>
<rect x="1596" y="398" width="45" height="18" fill="#070309"/>
<rect x="1641" y="398" width="44" height="18" fill="#070309"/>
<rect x="1685" y="398" width="45" height="18" fill="#070309"/>
<rect x="1730" y="398" width="44" height="18" fill="#070309"/>
<rect x="1774" y="398" width="44" height="18" fill="#08030b"/>
<rect x="1818" y="398" width="45" height="18" fill="#110618"/>
<rect x="1863" y="398" width="44" height="18" fill="#110618"/>
<rect x="1907" y="398" width="44" height="18" fill="#110618"/>
<rect x="1951" y="398" width="45" height="18" fill="#110618"/>
<rect x="1996" y="398" width="44" height="18" fill="#110618"/>
<rect x="2040" y="398" width="44" height="18" fill="#110618"/>
<rect x="2084" y="398" width="45" height="18" fill="#110618"/>
<rect x="2129" y="398" width="44" height="18" fill="#110618"/>
<rect x="310" y="416" width="45" height="18" fill="#370e48"/>
<rect x="355" y="416" width="44" height="18" fill="#370e48"/>
<rect x="399" y="416" width="44" height="18" fill="#320d48"/>
<rect x="443" y="416" width="45" height="18" fill="#230b37"/>
<rect x="488" y="416" width="44" height="18" fill="#190826"/>
<rect x="532" y="416" width="44" height="18" fill="#110618"/>
<rect x="576" y="416" width="45" height="18" fill="#0f0515"/>
<rect x="621" y="416" width="44" height="18" fill="#0a040e"/>
<rect x="665" y="416" width="45" height="18" fill="#0a040e"/>
<rect x="710" y="416" width="44" height="18" fill="#0a040e"/>
<rect x="754" y="416" width="44" height="18" fill="#0a040e"/>
<rect x="798" y="416" width="45" height="18" fill="#110618"/>
<rect x="843" y="416" width="44" height="18" fill="#14071d"/>
<rect x="887" y="416" width="44" height="18" fill="#170822"/>
<rect x="931" y="416" width="45" height="18" fill="#190826"/>
<rect x="976" y="416" width="44" height="18" fill="#190826"/>
<rect x="1020" y="416" width="44" height="18" fill="#190826"/>
<rect x="1064" y="416" width="45" height="18" fill="#190826"/>
<rect x="1109" y="416" width="44" height="18" fill="#190826"/>
<rect x="1153" y="416" width="44" height="18" fill="#1f0a30"/>
<rect x="1197" y="416" width="45" height="18" fill="#1f0a30"/>
<rect x="1242" y="416" width="44" height="18" fill="#1f0a30"/>
<rect x="1286" y="416" width="44" height="18" fill="#1f0a30"/>
<rect x="1330" y="416" width="45" height="18" fill="#1f0a30"/>
<rect x="1375" y="416" width="44" height="18" fill="#1f0a30"/>
<rect x="1419" y="416" width="44" height="18" fill="#1f0a30"/>
<rect x="1463" y="416" width="45" height="18" fill="#1f0a30"/>
<rect x="1508" y="416" width="44" height="18" fill="#1f0a30"/>
<rect x="1552" y="416" width="44" height="18" fill="#1c092b"/>
<rect x="1596" y="416" width="45" height="18" fill="#1c092b"/>
<rect x="1641" y="416" width="44" height="18" fill="#190826"/>
<rect x="1685" y="416" width="45" height="18" fill="#190826"/>
<rect x="1730" y="416" width="44" height="18" fill="#190826"/>
<rect x="1774" y="416" width="44" height="18" fill="#110618"/>
<rect x="1818" y="416" width="45" height="18" fill="#0f0515"/>
<rect x="1863" y="416" width="44" height="18" fill="#0f0515"/>
<rect x="1907" y="416" width="44" height="18" fill="#0f0515"/>
<rect x="1951" y="416" width="45" height="18" fill="#0f0515"/>
<rect x="1996" y="416" width="44" height="18" fill="#0f0515"/>
<rect x="2040" y="416" width="44" height="18" fill="#0f0515"/>
<rect x="2084" y="416" width="45" height="18" fill="#110618"/>
<rect x="2129" y="416" width="44" height="18" fill="#110618"/>
<rect x="310" y="434" width="45" height="19" fill="#3d1048"/>
<rect x="355" y="434" width="44" height="19" fill="#3d1048"/>
<rect x="399" y="434" width="44" height="19" fill="#370e48"/>
<rect x="443" y="434" width="45" height="19" fill="#320d48"/>
<rect x="488" y="434" width="44" height="19" fill="#1c092b"/>
<rect x="532" y="434" width="44" height="19" fill="#14071d"/>
<rect x="576" y="434" width="45" height="19" fill="#14071d"/>
<rect x="621" y="434" width="44" height="19" fill="#14071d"/>
<rect x="665" y="434" width="45" height="19" fill="#170822"/>
<rect x="710" y="434" width="44" height="19" fill="#170822"/>
<rect x="754" y="434" width="44" height="19" fill="#1c092b"/>
<rect x="798" y="434" width="45" height="19" fill="#1c092b"/>
<rect x="843" y="434" width="44" height="19" fill="#1c092b"/>
<rect x="887" y="434" width="44" height="19" fill="#1f0a30"/>
<rect x="931" y="434" width="45" height="19" fill="#190826"/>
<rect x="976" y="434" width="44" height="19" fill="#190826"/>
<rect x="1020" y="434" width="44" height="19" fill="#190826"/>
<rect x="1064" y="434" width="45" height="19" fill="#190826"/>
<rect x="1109" y="434" width="44" height="19" fill="#1c092b"/>
<rect x="1153" y="434" width="44" height="19" fill="#280b3e"/>
<rect x="1197" y="434" width="45" height="19" fill="#370e48"/>
<rect x="1242" y="434" width="44" height="19" fill="#3d1048"/>
<rect x="1286" y="434" width="44" height="19" fill="#431248"/>
<rect x="1330" y="434" width="45" height="19" fill="#49134a"/>
<rect x="1375" y="434" width="44" height="19" fill="#49134a"/>
<rect x="1419" y="434" width="44" height="19" fill="#49134a"/>
<rect x="1463" y="434" width="45" height="19" fill="#49134a"/>
<rect x="1508" y="434" width="44" height="19" fill="#431248"/>
<rect x="1552" y="434" width="44" height="19" fill="#370e48"/>
<rect x="1596" y="434" width="45" height="19" fill="#370e48"/>
<rect x="1641" y="434" width="44" height="19" fill="#2c0c45"/>
<rect x="1685" y="434" width="45" height="19" fill="#280b3e"/>
<rect x="1730" y="434" width="44" height="19" fill="#280b3e"/>
<rect x="1774" y="434" width="44" height="19" fill="#230b37"/>
<rect x="1818" y="434" width="45" height="19" fill="#230b37"/>
<rect x="1863" y="434" width="44" height="19" fill="#190826"/>
<rect x="1907" y="434" width="44" height="19" fill="#190826"/>
<rect x="1951" y="434" width="45" height="19" fill="#190826"/>
<rect x="1996" y="434" width="44" height="19" fill="#190826"/>
<rect x="2040" y="434" width="44" height="19" fill="#190826"/>
<rect x="2084" y="434" width="45" height="19" fill="#190826"/>
<rect x="2129" y="434" width="44" height="19" fill="#190826"/>
<rect x="310" y="453" width="45" height="18" fill="#280b3e"/>
<rect x="355" y="453" width="44" height="18" fill="#280b3e"/>
<rect x="399" y="453" width="44" height="18" fill="#280b3e"/>
<rect x="443" y="453" width="45" height="18" fill="#280b3e"/>
<rect x="488" y="453" width="44" height="18" fill="#2c0c45"/>
<rect x="532" y="453" width="44" height="18" fill="#2c0c45"/>
<rect x="576" y="453" width="45" height="18" fill="#2c0c45"/>
<rect x="621" y="453" width="44" height="18" fill="#2c0c45"/>
<rect x="665" y="453" width="45" height="18" fill="#230b37"/>
<rect x="710" y="453" width="44" height="18" fill="#230b37"/>
<rect x="754" y="453" width="44" height="18" fill="#230b37"/>
<rect x="798" y="453" width="45" height="18" fill="#230b37"/>
<rect x="843" y="453" width="44" height="18" fill="#230b37"/>
<rect x="887" y="453" width="44" height="18" fill="#280b3e"/>
<rect x="931" y="453" width="45" height="18" fill="#280b3e"/>
<rect x="976" y="453" width="44" height="18" fill="#280b3e"/>
<rect x="1020" y="453" width="44" height="18" fill="#2c0c45"/>
<rect x="1064" y="453" width="45" height="18" fill="#370e48"/>
<rect x="1109" y="453" width="44" height="18" fill="#3d1048"/>
<rect x="1153" y="453" width="44" height="18" fill="#3d1048"/>
<rect x="1197" y="453" width="45" height="18" fill="#49134a"/>
<rect x="1242" y="453" width="44" height="18" fill="#431248"/>
<rect x="1286" y="453" width="44" height="18" fill="#431248"/>
<rect x="1330" y="453" width="45" height="18" fill="#3d1048"/>
<rect x="1375" y="453" width="44" height="18" fill="#3d1048"/>
<rect x="1419" y="453" width="44" height="18" fill="#370e48"/>
<rect x="1463" y="453" width="45" height="18" fill="#2c0c45"/>
<rect x="1508" y="453" width="44" height="18" fill="#280b3e"/>
<rect x="1552" y="453" width="44" height="18" fill="#230b37"/>
<rect x="1596" y="453" width="45" height="18" fill="#230b37"/>
<rect x="1641" y="453" width="44" height="18" fill="#230b37"/>
<rect x="1685" y="453" width="45" height="18" fill="#230b37"/>
<rect x="1730" y="453" width="44" height="18" fill="#230b37"/>
<rect x="1774" y="453" width="44" height="18" fill="#230b37"/>
<rect x="1818" y="453" width="45" height="18" fill="#230b37"/>
<rect x="1863" y="453" width="44" height="18" fill="#230b37"/>
<rect x="1907" y="453" width="44" height="18" fill="#230b37"/>
<rect x="1951" y="453" width="45" height="18" fill="#230b37"/>
<rect x="1996" y="453" width="44" height="18" fill="#190826"/>
<rect x="2040" y="453" width="44" height="18" fill="#190826"/>
<rect x="2084" y="453" width="45" height="18" fill="#190826"/>
<rect x="2129" y="453" width="44" height="18" fill="#190826"/>
<rect x="310" y="471" width="45" height="18" fill="#4f144c"/>
<rect x="355" y="471" width="44" height="18" fill="#4f144c"/>
<rect x="399" y="471" width="44" height="18" fill="#4f144c"/>
<rect x="443" y="471" width="45" height="18" fill="#4f144c"/>
<rect x="488" y="471" width="44" height="18" fill="#49134a"/>
<rect x="532" y="471" width="44" height="18" fill="#49134a"/>
<rect x="576" y="471" width="45" height="18" fill="#431248"/>
<rect x="621" y="471" width="44" height="18" fill="#431248"/>
<rect x="665" y="471" width="45" height="18" fill="#3d1048"/>
<rect x="710" y="471" width="44" height="18" fill="#3d1048"/>
<rect x="754" y="471" width="44" height="18" fill="#3d1048"/>
<rect x="798" y="471" width="45" height="18" fill="#3d1048"/>
<rect x="843" y="471" width="44" height="18" fill="#3d1048"/>
<rect x="887" y="471" width="44" height="18" fill="#370e48"/>
<rect x="931" y="471" width="45" height="18" fill="#320d48"/>
<rect x="976" y="471" width="44" height="18" fill="#320d48"/>
<rect x="1020" y="471" width="44" height="18" fill="#370e48"/>
<rect x="1064" y="471" width="45" height="18" fill="#3d1048"/>
<rect x="1109" y="471" width="44" height="18" fill="#49134a"/>
<rect x="1153" y="471" width="44" height="18" fill="#55154e"/>
<rect x="1197" y="471" width="45" height="18" fill="#55154e"/>
<rect x="1242" y="471" width="44" height="18" fill="#4f144c"/>
<rect x="1286" y="471" width="44" height="18" fill="#4f144c"/>
<rect x="1330" y="471" width="45" height="18" fill="#49134a"/>
<rect x="1375" y="471" width="44" height="18" fill="#431248"/>
<rect x="1419" y="471" width="44" height="18" fill="#370e48"/>
<rect x="1463" y="471" width="45" height="18" fill="#2c0c45"/>
<rect x="1508" y="471" width="44" height="18" fill="#1f0a30"/>
<rect x="1552" y="471" width="44" height="18" fill="#190826"/>
<rect x="1596" y="471" width="45" height="18" fill="#190826"/>
<rect x="1641" y="471" width="44" height="18" fill="#14071d"/>
<rect x="1685" y="471" width="45" height="18" fill="#14071d"/>
<rect x="1730" y="471" width="44" height="18" fill="#110618"/>
<rect x="1774" y="471" width="44" height="18" fill="#110618"/>
<rect x="1818" y="471" width="45" height="18" fill="#0f0515"/>
<rect x="1863" y="471" width="44" height="18" fill="#0f0515"/>
<rect x="1907" y="471" width="44" height="18" fill="#110618"/>
<rect x="1951" y="471" width="45" height="18" fill="#14071d"/>
<rect x="1996" y="471" width="44" height="18" fill="#190826"/>
<rect x="2040" y="471" width="44" height="18" fill="#1f0a30"/>
<rect x="2084" y="471" width="45" height="18" fill="#280b3e"/>
<rect x="2129" y="471" width="44" height="18" fill="#280b3e"/>
<rect x="310" y="489" width="45" height="18" fill="#912441"/>
<rect x="355" y="489" width="44" height="18" fill="#912441"/>
<rect x="399" y="489" width="44" height="18" fill="#912441"/>
<rect x="443" y="489" width="45" height="18" fill="#912441"/>
<rect x="488" y="489" width="44" height="18" fill="#7d1f4e"/>
<rect x="532" y="489" width="44" height="18" fill="#7d1f4e"/>
<rect x="576" y="489" width="45" height="18" fill="#6c1b50"/>
<rect x="621" y="489" width="44" height="18" fill="#6c1b50"/>
<rect x="665" y="489" width="45" height="18" fill="#671950"/>
<rect x="710" y="489" width="44" height="18" fill="#671950"/>
<rect x="754" y="489" width="44" height="18" fill="#721c50"/>
<rect x="798" y="489" width="45" height="18" fill="#7d1f4e"/>
<rect x="843" y="489" width="44" height="18" fill="#872148"/>
<rect x="887" y="489" width="44" height="18" fill="#912441"/>
<rect x="931" y="489" width="45" height="18" fill="#95253e"/>
<rect x="976" y="489" width="44" height="18" fill="#99273b"/>
<rect x="1020" y="489" width="44" height="18" fill="#a22a35"/>
<rect x="1064" y="489" width="45" height="18" fill="#a62c33"/>
<rect x="1109" y="489" width="44" height="18" fill="#aa2e30"/>
<rect x="1153" y="489" width="44" height="18" fill="#aa2e30"/>
<rect x="1197" y="489" width="45" height="18" fill="#aa2e30"/>
<rect x="1242" y="489" width="44" height="18" fill="#a22a35"/>
<rect x="1286" y="489" width="44" height="18" fill="#99273b"/>
<rect x="1330" y="489" width="45" height="18" fill="#912441"/>
<rect x="1375" y="489" width="44" height="18" fill="#872148"/>
<rect x="1419" y="489" width="44" height="18" fill="#7d1f4e"/>
<rect x="1463" y="489" width="45" height="18" fill="#671950"/>
<rect x="1508" y="489" width="44" height="18" fill="#5b1650"/>
<rect x="1552" y="489" width="44" height="18" fill="#55154e"/>
<rect x="1596" y="489" width="45" height="18" fill="#431248"/>
<rect x="1641" y="489" width="44" height="18" fill="#3d1048"/>
<rect x="1685" y="489" width="45" height="18" fill="#3d1048"/>
<rect x="1730" y="489" width="44" height="18" fill="#3d1048"/>
<rect x="1774" y="489" width="44" height="18" fill="#431248"/>
<rect x="1818" y="489" width="45" height="18" fill="#49134a"/>
<rect x="1863" y="489" width="44" height="18" fill="#55154e"/>
<rect x="1907" y="489" width="44" height="18" fill="#5b1650"/>
<rect x="1951" y="489" width="45" height="18" fill="#5b1650"/>
<rect x="1996" y="489" width="44" height="18" fill="#671950"/>
<rect x="2040" y="489" width="44" height="18" fill="#671950"/>
<rect x="2084" y="489" width="45" height="18" fill="#671950"/>
<rect x="2129" y="489" width="44" height="18" fill="#611850"/>
<rect x="310" y="507" width="45" height="19" fill="#7d1f4e"/>
<rect x="355" y="507" width="44" height="19" fill="#7d1f4e"/>
<rect x="399" y="507" width="44" height="19" fill="#7d1f4e"/>
<rect x="443" y="507" width="45" height="19" fill="#7d1f4e"/>
<rect x="488" y="507" width="44" height="19" fill="#7d1f4e"/>
<rect x="532" y="507" width="44" height="19" fill="#721c50"/>
<rect x="576" y="507" width="45" height="19" fill="#6c1b50"/>
<rect x="621" y="507" width="44" height="19" fill="#6c1b50"/>
<rect x="665" y="507" width="45" height="19" fill="#7d1f4e"/>
<rect x="710" y="507" width="44" height="19" fill="#872148"/>
<rect x="754" y="507" width="44" height="19" fill="#95253e"/>
<rect x="798" y="507" width="45" height="19" fill="#a62c33"/>
<rect x="843" y="507" width="44" height="19" fill="#c8421e"/>
<rect x="887" y="507" width="44" height="19" fill="#ce4819"/>
<rect x="931" y="507" width="45" height="19" fill="#d75412"/>
<rect x="976" y="507" width="44" height="19" fill="#dd731a"/>
<rect x="1020" y="507" width="44" height="19" fill="#e08522"/>
<rect x="1064" y="507" width="45" height="19" fill="#e18b25"/>
<rect x="1109" y="507" width="44" height="19" fill="#e29830"/>
<rect x="1153" y="507" width="44" height="19" fill="#e29830"/>
<rect x="1197" y="507" width="45" height="19" fill="#e29830"/>
<rect x="1242" y="507" width="44" height="19" fill="#e29129"/>
<rect x="1286" y="507" width="44" height="19" fill="#e08522"/>
<rect x="1330" y="507" width="45" height="19" fill="#dc6e18"/>
<rect x="1375" y="507" width="44" height="19" fill="#d95c14"/>
<rect x="1419" y="507" width="44" height="19" fill="#cc461b"/>
<rect x="1463" y="507" width="45" height="19" fill="#b3322b"/>
<rect x="1508" y="507" width="44" height="19" fill="#a22a35"/>
<rect x="1552" y="507" width="44" height="19" fill="#872148"/>
<rect x="1596" y="507" width="45" height="19" fill="#6c1b50"/>
<rect x="1641" y="507" width="44" height="19" fill="#5b1650"/>
<rect x="1685" y="507" width="45" height="19" fill="#55154e"/>
<rect x="1730" y="507" width="44" height="19" fill="#49134a"/>
<rect x="1774" y="507" width="44" height="19" fill="#49134a"/>
<rect x="1818" y="507" width="45" height="19" fill="#49134a"/>
<rect x="1863" y="507" width="44" height="19" fill="#49134a"/>
<rect x="1907" y="507" width="44" height="19" fill="#55154e"/>
<rect x="1951" y="507" width="45" height="19" fill="#55154e"/>
<rect x="1996" y="507" width="44" height="19" fill="#5b1650"/>
<rect x="2040" y="507" width="44" height="19" fill="#5b1650"/>
<rect x="2084" y="507" width="45" height="19" fill="#671950"/>
<rect x="2129" y="507" width="44" height="19" fill="#671950"/>
<rect x="310" y="526" width="45" height="18" fill="#721c50"/>
<rect x="355" y="526" width="44" height="18" fill="#6c1b50"/>
<rect x="399" y="526" width="44" height="18" fill="#6c1b50"/>
<rect x="443" y="526" width="45" height="18" fill="#6c1b50"/>
<rect x="488" y="526" width="44" height="18" fill="#6c1b50"/>
<rect x="532" y="526" width="44" height="18" fill="#6c1b50"/>
<rect x="576" y="526" width="45" height="18" fill="#721c50"/>
<rect x="621" y="526" width="44" height="18" fill="#721c50"/>
<rect x="665" y="526" width="45" height="18" fill="#7d1f4e"/>
<rect x="710" y="526" width="44" height="18" fill="#7d1f4e"/>
<rect x="754" y="526" width="44" height="18" fill="#872148"/>
<rect x="798" y="526" width="45" height="18" fill="#912441"/>
<rect x="843" y="526" width="44" height="18" fill="#aa2e30"/>
<rect x="887" y="526" width="44" height="18" fill="#bd3a24"/>
<rect x="931" y="526" width="45" height="18" fill="#cc461b"/>
<rect x="976" y="526" width="44" height="18" fill="#db6716"/>
<rect x="1020" y="526" width="44" height="18" fill="#de7c1e"/>
<rect x="1064" y="526" width="45" height="18" fill="#e18b25"/>
<rect x="1109" y="526" width="44" height="18" fill="#e3ad46"/>
<rect x="1153" y="526" width="44" height="18" fill="#e3b24e"/>
<rect x="1197" y="526" width="45" height="18" fill="#e4ba5c"/>
<rect x="1242" y="526" width="44" height="18" fill="#e4ba5c"/>
<rect x="1286" y="526" width="44" height="18" fill="#e3af49"/>
<rect x="1330" y="526" width="45" height="18" fill="#e3a23a"/>
<rect x="1375" y="526" width="44" height="18" fill="#e18b25"/>
<rect x="1419" y="526" width="44" height="18" fill="#dc6e18"/>
<rect x="1463" y="526" width="45" height="18" fill="#d75412"/>
<rect x="1508" y="526" width="44" height="18" fill="#c13d22"/>
<rect x="1552" y="526" width="44" height="18" fill="#a22a35"/>
<rect x="1596" y="526" width="45" height="18" fill="#872148"/>
<rect x="1641" y="526" width="44" height="18" fill="#6c1b50"/>
<rect x="1685" y="526" width="45" height="18" fill="#5b1650"/>
<rect x="1730" y="526" width="44" height="18" fill="#4f144c"/>
<rect x="1774" y="526" width="44" height="18" fill="#49134a"/>
<rect x="1818" y="526" width="45" height="18" fill="#3d1048"/>
<rect x="1863" y="526" width="44" height="18" fill="#3d1048"/>
<rect x="1907" y="526" width="44" height="18" fill="#49134a"/>
<rect x="1951" y="526" width="45" height="18" fill="#4f144c"/>
<rect x="1996" y="526" width="44" height="18" fill="#55154e"/>
<rect x="2040" y="526" width="44" height="18" fill="#5b1650"/>
<rect x="2084" y="526" width="45" height="18" fill="#671950"/>
<rect x="2129" y="526" width="44" height="18" fill="#721c50"/>
<rect x="310" y="544" width="45" height="18" fill="#721c50"/>
<rect x="355" y="544" width="44" height="18" fill="#671950"/>
<rect x="399" y="544" width="44" height="18" fill="#671950"/>
<rect x="443" y="544" width="45" height="18" fill="#671950"/>
<rect x="488" y="544" width="44" height="18" fill="#671950"/>
<rect x="532" y="544" width="44" height="18" fill="#671950"/>
<rect x="576" y="544" width="45" height="18" fill="#7d1f4e"/>
<rect x="621" y="544" width="44" height="18" fill="#7d1f4e"/>
<rect x="665" y="544" width="45" height="18" fill="#872148"/>
<rect x="710" y="544" width="44" height="18" fill="#872148"/>
<rect x="754" y="544" width="44" height="18" fill="#912441"/>
<rect x="798" y="544" width="45" height="18" fill="#912441"/>
<rect x="843" y="544" width="44" height="18" fill="#912441"/>
<rect x="887" y="544" width="44" height="18" fill="#a62c33"/>
<rect x="931" y="544" width="45" height="18" fill="#aa2e30"/>
<rect x="976" y="544" width="44" height="18" fill="#bd3a24"/>
<rect x="1020" y="544" width="44" height="18" fill="#ce4819"/>
<rect x="1064" y="544" width="45" height="18" fill="#d95f15"/>
<rect x="1109" y="544" width="44" height="18" fill="#de771c"/>
<rect x="1153" y="544" width="44" height="18" fill="#e18b25"/>
<rect x="1197" y="544" width="45" height="18" fill="#e2952d"/>
<rect x="1242" y="544" width="44" height="18" fill="#e2952d"/>
<rect x="1286" y="544" width="44" height="18" fill="#e2952d"/>
<rect x="1330" y="544" width="45" height="18" fill="#e28e27"/>
<rect x="1375" y="544" width="44" height="18" fill="#e08522"/>
<rect x="1419" y="544" width="44" height="18" fill="#dc6e18"/>
<rect x="1463" y="544" width="45" height="18" fill="#d75412"/>
<rect x="1508" y="544" width="44" height="18" fill="#c43f20"/>
<rect x="1552" y="544" width="44" height="18" fill="#a62c33"/>
<rect x="1596" y="544" width="45" height="18" fill="#95253e"/>
<rect x="1641" y="544" width="44" height="18" fill="#872148"/>
<rect x="1685" y="544" width="45" height="18" fill="#7d1f4e"/>
<rect x="1730" y="544" width="44" height="18" fill="#721c50"/>
<rect x="1774" y="544" width="44" height="18" fill="#721c50"/>
<rect x="1818" y="544" width="45" height="18" fill="#721c50"/>
<rect x="1863" y="544" width="44" height="18" fill="#721c50"/>
<rect x="1907" y="544" width="44" height="18" fill="#721c50"/>
<rect x="1951" y="544" width="45" height="18" fill="#7d1f4e"/>
<rect x="1996" y="544" width="44" height="18" fill="#872148"/>
<rect x="2040" y="544" width="44" height="18" fill="#8c2244"/>
<rect x="2084" y="544" width="45" height="18" fill="#95253e"/>
<rect x="2129" y="544" width="44" height="18" fill="#a22a35"/>
<rect x="310" y="562" width="45" height="18" fill="#7d1f4e"/>
<rect x="355" y="562" width="44" height="18" fill="#721c50"/>
<rect x="399" y="562" width="44" height="18" fill="#6c1b50"/>
<rect x="443" y="562" width="45" height="18" fill="#721c50"/>
<rect x="488" y="562" width="44" height="18" fill="#7d1f4e"/>
<rect x="532" y="562" width="44" height="18" fill="#7d1f4e"/>
<rect x="576" y="562" width="45" height="18" fill="#8c2244"/>
<rect x="621" y="562" width="44" height="18" fill="#95253e"/>
<rect x="665" y="562" width="45" height="18" fill="#a62c33"/>
<rect x="710" y="562" width="44" height="18" fill="#a62c33"/>
<rect x="754" y="562" width="44" height="18" fill="#aa2e30"/>
<rect x="798" y="562" width="45" height="18" fill="#aa2e30"/>
<rect x="843" y="562" width="44" height="18" fill="#aa2e30"/>
<rect x="887" y="562" width="44" height="18" fill="#aa2e30"/>
<rect x="931" y="562" width="45" height="18" fill="#a22a35"/>
<rect x="976" y="562" width="44" height="18" fill="#a22a35"/>
<rect x="1020" y="562" width="44" height="18" fill="#a62c33"/>
<rect x="1064" y="562" width="45" height="18" fill="#b3322b"/>
<rect x="1109" y="562" width="44" height="18" fill="#c43f20"/>
<rect x="1153" y="562" width="44" height="18" fill="#d65113"/>
<rect x="1197" y="562" width="45" height="18" fill="#db6716"/>
<rect x="1242" y="562" width="44" height="18" fill="#dd731a"/>
<rect x="1286" y="562" width="44" height="18" fill="#dd731a"/>
<rect x="1330" y="562" width="45" height="18" fill="#db6716"/>
<rect x="1375" y="562" width="44" height="18" fill="#d65113"/>
<rect x="1419" y="562" width="44" height="18" fill="#c13d22"/>
<rect x="1463" y="562" width="45" height="18" fill="#a62c33"/>
<rect x="1508" y="562" width="44" height="18" fill="#95253e"/>
<rect x="1552" y="562" width="44" height="18" fill="#95253e"/>
<rect x="1596" y="562" width="45" height="18" fill="#872148"/>
<rect x="1641" y="562" width="44" height="18" fill="#872148"/>
<rect x="1685" y="562" width="45" height="18" fill="#872148"/>
<rect x="1730" y="562" width="44" height="18" fill="#8c2244"/>
<rect x="1774" y="562" width="44" height="18" fill="#95253e"/>
<rect x="1818" y="562" width="45" height="18" fill="#99273b"/>
<rect x="1863" y="562" width="44" height="18" fill="#a62c33"/>
<rect x="1907" y="562" width="44" height="18" fill="#a62c33"/>
<rect x="1951" y="562" width="45" height="18" fill="#a62c33"/>
<rect x="1996" y="562" width="44" height="18" fill="#a22a35"/>
<rect x="2040" y="562" width="44" height="18" fill="#a22a35"/>
<rect x="2084" y="562" width="45" height="18" fill="#a22a35"/>
<rect x="2129" y="562" width="44" height="18" fill="#a22a35"/>
<rect x="310" y="580" width="45" height="19" fill="#b63528"/>
<rect x="355" y="580" width="44" height="19" fill="#af2f2d"/>
<rect x="399" y="580" width="44" height="19" fill="#a22a35"/>
<rect x="443" y="580" width="45" height="19" fill="#aa2e30"/>
<rect x="488" y="580" width="44" height="19" fill="#b63528"/>
<rect x="532" y="580" width="44" height="19" fill="#c43f20"/>
<rect x="576" y="580" width="45" height="19" fill="#d65113"/>
<rect x="621" y="580" width="44" height="19" fill="#d95c14"/>
<rect x="665" y="580" width="45" height="19" fill="#de771c"/>
<rect x="710" y="580" width="44" height="19" fill="#de771c"/>
<rect x="754" y="580" width="44" height="19" fill="#dc6e18"/>
<rect x="798" y="580" width="45" height="19" fill="#d85813"/>
<rect x="843" y="580" width="44" height="19" fill="#cc461b"/>
<rect x="887" y="580" width="44" height="19" fill="#c43f20"/>
<rect x="931" y="580" width="45" height="19" fill="#b63528"/>
<rect x="976" y="580" width="44" height="19" fill="#b63528"/>
<rect x="1020" y="580" width="44" height="19" fill="#c13d22"/>
<rect x="1064" y="580" width="45" height="19" fill="#d65113"/>
<rect x="1109" y="580" width="44" height="19" fill="#dc6e18"/>
<rect x="1153" y="580" width="44" height="19" fill="#e08522"/>
<rect x="1197" y="580" width="45" height="19" fill="#e3a23a"/>
<rect x="1242" y="580" width="44" height="19" fill="#e3a23a"/>
<rect x="1286" y="580" width="44" height="19" fill="#e3a840"/>
<rect x="1330" y="580" width="45" height="19" fill="#e3a23a"/>
<rect x="1375" y="580" width="44" height="19" fill="#e18824"/>
<rect x="1419" y="580" width="44" height="19" fill="#dc6e18"/>
<rect x="1463" y="580" width="45" height="19" fill="#d65113"/>
<rect x="1508" y="580" width="44" height="19" fill="#c13d22"/>
<rect x="1552" y="580" width="44" height="19" fill="#b3322b"/>
<rect x="1596" y="580" width="45" height="19" fill="#aa2e30"/>
<rect x="1641" y="580" width="44" height="19" fill="#a62c33"/>
<rect x="1685" y="580" width="45" height="19" fill="#aa2e30"/>
<rect x="1730" y="580" width="44" height="19" fill="#b3322b"/>
<rect x="1774" y="580" width="44" height="19" fill="#c13d22"/>
<rect x="1818" y="580" width="45" height="19" fill="#c43f20"/>
<rect x="1863" y="580" width="44" height="19" fill="#cc461b"/>
<rect x="1907" y="580" width="44" height="19" fill="#cc461b"/>
<rect x="1951" y="580" width="45" height="19" fill="#cc461b"/>
<rect x="1996" y="580" width="44" height="19" fill="#c8421e"/>
<rect x="2040" y="580" width="44" height="19" fill="#c13d22"/>
<rect x="2084" y="580" width="45" height="19" fill="#c13d22"/>
<rect x="2129" y="580" width="44" height="19" fill="#c13d22"/>
<rect x="310" y="599" width="45" height="18" fill="#d85813"/>
<rect x="355" y="599" width="44" height="18" fill="#d85813"/>
<rect x="399" y="599" width="44" height="18" fill="#d75412"/>
<rect x="443" y="599" width="45" height="18" fill="#d85813"/>
<rect x="488" y="599" width="44" height="18" fill="#db6716"/>
<rect x="532" y="599" width="44" height="18" fill="#dc6e18"/>
<rect x="576" y="599" width="45" height="18" fill="#dd731a"/>
<rect x="621" y="599" width="44" height="18" fill="#de771c"/>
<rect x="665" y="599" width="45" height="18" fill="#e08522"/>
<rect x="710" y="599" width="44" height="18" fill="#e18b25"/>
<rect x="754" y="599" width="44" height="18" fill="#e29129"/>
<rect x="798" y="599" width="45" height="18" fill="#e2952d"/>
<rect x="843" y="599" width="44" height="18" fill="#e2952d"/>
<rect x="887" y="599" width="44" height="18" fill="#e39f37"/>
<rect x="931" y="599" width="45" height="18" fill="#e3a23a"/>
<rect x="976" y="599" width="44" height="18" fill="#e3a840"/>
<rect x="1020" y="599" width="44" height="18" fill="#e3af49"/>
<rect x="1064" y="599" width="45" height="18" fill="#e3b24e"/>
<rect x="1109" y="599" width="44" height="18" fill="#e4c36c"/>
<rect x="1153" y="599" width="44" height="18" fill="#e6ca7c"/>
<rect x="1197" y="599" width="45" height="18" fill="#e9d69a"/>
<rect x="1242" y="599" width="44" height="18" fill="#e9d69a"/>
<rect x="1286" y="599" width="44" height="18" fill="#ebdcaa"/>
<rect x="1330" y="599" width="45" height="18" fill="#e9d69a"/>
<rect x="1375" y="599" width="44" height="18" fill="#e6cd82"/>
<rect x="1419" y="599" width="44" height="18" fill="#e4c36c"/>
<rect x="1463" y="599" width="45" height="18" fill="#e4ba5c"/>
<rect x="1508" y="599" width="44" height="18" fill="#e3ad46"/>
<rect x="1552" y="599" width="44" height="18" fill="#e3a23a"/>
<rect x="1596" y="599" width="45" height="18" fill="#e29129"/>
<rect x="1641" y="599" width="44" height="18" fill="#e08522"/>
<rect x="1685" y="599" width="45" height="18" fill="#de771c"/>
<rect x="1730" y="599" width="44" height="18" fill="#dc6e18"/>
<rect x="1774" y="599" width="44" height="18" fill="#da6316"/>
<rect x="1818" y="599" width="45" height="18" fill="#d95c14"/>
<rect x="1863" y="599" width="44" height="18" fill="#d75412"/>
<rect x="1907" y="599" width="44" height="18" fill="#d65113"/>
<rect x="1951" y="599" width="45" height="18" fill="#d24d16"/>
<rect x="1996" y="599" width="44" height="18" fill="#ce4819"/>
<rect x="2040" y="599" width="44" height="18" fill="#cc461b"/>
<rect x="2084" y="599" width="45" height="18" fill="#c8421e"/>
<rect x="2129" y="599" width="44" height="18" fill="#c13d22"/>
<rect x="310" y="617" width="45" height="18" fill="#a62c33"/>
<rect x="355" y="617" width="44" height="18" fill="#a62c33"/>
<rect x="399" y="617" width="44" height="18" fill="#95253e"/>
<rect x="443" y="617" width="45" height="18" fill="#95253e"/>
<rect x="488" y="617" width="44" height="18" fill="#912441"/>
<rect x="532" y="617" width="44" height="18" fill="#8c2244"/>
<rect x="576" y="617" width="45" height="18" fill="#912441"/>
<rect x="621" y="617" width="44" height="18" fill="#912441"/>
<rect x="665" y="617" width="45" height="18" fill="#95253e"/>
<rect x="710" y="617" width="44" height="18" fill="#a62c33"/>
<rect x="754" y="617" width="44" height="18" fill="#b3322b"/>
<rect x="798" y="617" width="45" height="18" fill="#c8421e"/>
<rect x="843" y="617" width="44" height="18" fill="#d85813"/>
<rect x="887" y="617" width="44" height="18" fill="#dc6e18"/>
<rect x="931" y="617" width="45" height="18" fill="#de771c"/>
<rect x="976" y="617" width="44" height="18" fill="#e28e27"/>
<rect x="1020" y="617" width="44" height="18" fill="#e3a23a"/>
<rect x="1064" y="617" width="45" height="18" fill="#e3b553"/>
<rect x="1109" y="617" width="44" height="18" fill="#e6cd82"/>
<rect x="1153" y="617" width="44" height="18" fill="#ebdcaa"/>
<rect x="1197" y="617" width="45" height="18" fill="#f2edd9"/>
<rect x="1242" y="617" width="44" height="18" fill="#f2edd9"/>
<rect x="1286" y="617" width="44" height="18" fill="#f4f1e5"/>
<rect x="1330" y="617" width="45" height="18" fill="#f0ead0"/>
<rect x="1375" y="617" width="44" height="18" fill="#ecdfb3"/>
<rect x="1419" y="617" width="44" height="18" fill="#e6cd82"/>
<rect x="1463" y="617" width="45" height="18" fill="#e4ba5c"/>
<rect x="1508" y="617" width="44" height="18" fill="#e3a840"/>
<rect x="1552" y="617" width="44" height="18" fill="#e39f37"/>
<rect x="1596" y="617" width="45" height="18" fill="#e08522"/>
<rect x="1641" y="617" width="44" height="18" fill="#dc6e18"/>
<rect x="1685" y="617" width="45" height="18" fill="#d65113"/>
<rect x="1730" y="617" width="44" height="18" fill="#c13d22"/>
<rect x="1774" y="617" width="44" height="18" fill="#aa2e30"/>
<rect x="1818" y="617" width="45" height="18" fill="#a22a35"/>
<rect x="1863" y="617" width="44" height="18" fill="#8c2244"/>
<rect x="1907" y="617" width="44" height="18" fill="#82204b"/>
<rect x="1951" y="617" width="45" height="18" fill="#7d1f4e"/>
<rect x="1996" y="617" width="44" height="18" fill="#7d1f4e"/>
<rect x="2040" y="617" width="44" height="18" fill="#7d1f4e"/>
<rect x="2084" y="617" width="45" height="18" fill="#7d1f4e"/>
<rect x="2129" y="617" width="44" height="18" fill="#7d1f4e"/>
<rect x="310" y="635" width="45" height="19" fill="#55154e"/>
<rect x="355" y="635" width="44" height="19" fill="#431248"/>
<rect x="399" y="635" width="44" height="19" fill="#431248"/>
<rect x="443" y="635" width="45" height="19" fill="#3d1048"/>
<rect x="488" y="635" width="44" height="19" fill="#3d1048"/>
<rect x="532" y="635" width="44" height="19" fill="#3d1048"/>
<rect x="576" y="635" width="45" height="19" fill="#431248"/>
<rect x="621" y="635" width="44" height="19" fill="#431248"/>
<rect x="665" y="635" width="45" height="19" fill="#4f144c"/>
<rect x="710" y="635" width="44" height="19" fill="#5b1650"/>
<rect x="754" y="635" width="44" height="19" fill="#721c50"/>
<rect x="798" y="635" width="45" height="19" fill="#872148"/>
<rect x="843" y="635" width="44" height="19" fill="#a62c33"/>
<rect x="887" y="635" width="44" height="19" fill="#c13d22"/>
<rect x="931" y="635" width="45" height="19" fill="#d65113"/>
<rect x="976" y="635" width="44" height="19" fill="#dc6e18"/>
<rect x="1020" y="635" width="44" height="19" fill="#e18824"/>
<rect x="1064" y="635" width="45" height="19" fill="#e3a23a"/>
<rect x="1109" y="635" width="44" height="19" fill="#e5c571"/>
<rect x="1153" y="635" width="44" height="19" fill="#e9d69a"/>
<rect x="1197" y="635" width="45" height="19" fill="#f2edd9"/>
<rect x="1242" y="635" width="44" height="19" fill="#f4f1e5"/>
<rect x="1286" y="635" width="44" height="19" fill="#f4f1e5"/>
<rect x="1330" y="635" width="45" height="19" fill="#efe6c6"/>
<rect x="1375" y="635" width="44" height="19" fill="#e9d69a"/>
<rect x="1419" y="635" width="44" height="19" fill="#e4c066"/>
<rect x="1463" y="635" width="45" height="19" fill="#e3a840"/>
<rect x="1508" y="635" width="44" height="19" fill="#e18824"/>
<rect x="1552" y="635" width="44" height="19" fill="#dc6e18"/>
<rect x="1596" y="635" width="45" height="19" fill="#ce4819"/>
<rect x="1641" y="635" width="44" height="19" fill="#b3322b"/>
<rect x="1685" y="635" width="45" height="19" fill="#99273b"/>
<rect x="1730" y="635" width="44" height="19" fill="#82204b"/>
<rect x="1774" y="635" width="44" height="19" fill="#6c1b50"/>
<rect x="1818" y="635" width="45" height="19" fill="#55154e"/>
<rect x="1863" y="635" width="44" height="19" fill="#431248"/>
<rect x="1907" y="635" width="44" height="19" fill="#370e48"/>
<rect x="1951" y="635" width="45" height="19" fill="#2c0c45"/>
<rect x="1996" y="635" width="44" height="19" fill="#280b3e"/>
<rect x="2040" y="635" width="44" height="19" fill="#280b3e"/>
<rect x="2084" y="635" width="45" height="19" fill="#280b3e"/>
<rect x="2129" y="635" width="44" height="19" fill="#280b3e"/>
<rect x="310" y="654" width="45" height="18" fill="#1c092b"/>
<rect x="355" y="654" width="44" height="18" fill="#1c092b"/>
<rect x="399" y="654" width="44" height="18" fill="#1c092b"/>
<rect x="443" y="654" width="45" height="18" fill="#1c092b"/>
<rect x="488" y="654" width="44" height="18" fill="#230b37"/>
<rect x="532" y="654" width="44" height="18" fill="#230b37"/>
<rect x="576" y="654" width="45" height="18" fill="#230b37"/>
<rect x="621" y="654" width="44" height="18" fill="#370e48"/>
<rect x="665" y="654" width="45" height="18" fill="#431248"/>
<rect x="710" y="654" width="44" height="18" fill="#55154e"/>
<rect x="754" y="654" width="44" height="18" fill="#721c50"/>
<rect x="798" y="654" width="45" height="18" fill="#872148"/>
<rect x="843" y="654" width="44" height="18" fill="#a62c33"/>
<rect x="887" y="654" width="44" height="18" fill="#c13d22"/>
<rect x="931" y="654" width="45" height="18" fill="#da6316"/>
<rect x="976" y="654" width="44" height="18" fill="#de7c1e"/>
<rect x="1020" y="654" width="44" height="18" fill="#e29830"/>
<rect x="1064" y="654" width="45" height="18" fill="#e3af49"/>
<rect x="1109" y="654" width="44" height="18" fill="#e5c877"/>
<rect x="1153" y="654" width="44" height="18" fill="#ebdcaa"/>
<rect x="1197" y="654" width="45" height="18" fill="#f2edd9"/>
<rect x="1242" y="654" width="44" height="18" fill="#f4f1e5"/>
<rect x="1286" y="654" width="44" height="18" fill="#f4f1e5"/>
<rect x="1330" y="654" width="45" height="18" fill="#eee3bd"/>
<rect x="1375" y="654" width="44" height="18" fill="#e7d08a"/>
<rect x="1419" y="654" width="44" height="18" fill="#e4bd61"/>
<rect x="1463" y="654" width="45" height="18" fill="#e3a23a"/>
<rect x="1508" y="654" width="44" height="18" fill="#de7c1e"/>
<rect x="1552" y="654" width="44" height="18" fill="#da6316"/>
<rect x="1596" y="654" width="45" height="18" fill="#c8421e"/>
<rect x="1641" y="654" width="44" height="18" fill="#a62c33"/>
<rect x="1685" y="654" width="45" height="18" fill="#912441"/>
<rect x="1730" y="654" width="44" height="18" fill="#721c50"/>
<rect x="1774" y="654" width="44" height="18" fill="#55154e"/>
<rect x="1818" y="654" width="45" height="18" fill="#431248"/>
<rect x="1863" y="654" width="44" height="18" fill="#2c0c45"/>
<rect x="1907" y="654" width="44" height="18" fill="#1c092b"/>
<rect x="1951" y="654" width="45" height="18" fill="#1c092b"/>
<rect x="1996" y="654" width="44" height="18" fill="#170822"/>
<rect x="2040" y="654" width="44" height="18" fill="#170822"/>
<rect x="2084" y="654" width="45" height="18" fill="#170822"/>
<rect x="2129" y="654" width="44" height="18" fill="#170822"/>
<rect x="310" y="672" width="45" height="18" fill="#170822"/>
<rect x="355" y="672" width="44" height="18" fill="#170822"/>
<rect x="399" y="672" width="44" height="18" fill="#170822"/>
<rect x="443" y="672" width="45" height="18" fill="#190826"/>
<rect x="488" y="672" width="44" height="18" fill="#190826"/>
<rect x="532" y="672" width="44" height="18" fill="#190826"/>
<rect x="576" y="672" width="45" height="18" fill="#1c092b"/>
<rect x="621" y="672" width="44" height="18" fill="#1f0a30"/>
<rect x="665" y="672" width="45" height="18" fill="#370e48"/>
<rect x="710" y="672" width="44" height="18" fill="#4f144c"/>
<rect x="754" y="672" width="44" height="18" fill="#5b1650"/>
<rect x="798" y="672" width="45" height="18" fill="#781d50"/>
<rect x="843" y="672" width="44" height="18" fill="#99273b"/>
<rect x="887" y="672" width="44" height="18" fill="#bd3a24"/>
<rect x="931" y="672" width="45" height="18" fill="#d44f14"/>
<rect x="976" y="672" width="44" height="18" fill="#dd731a"/>
<rect x="1020" y="672" width="44" height="18" fill="#e28e27"/>
<rect x="1064" y="672" width="45" height="18" fill="#e3ad46"/>
<rect x="1109" y="672" width="44" height="18" fill="#e5c877"/>
<rect x="1153" y="672" width="44" height="18" fill="#e9d69a"/>
<rect x="1197" y="672" width="45" height="18" fill="#ecdfb3"/>
<rect x="1242" y="672" width="44" height="18" fill="#f3efe0"/>
<rect x="1286" y="672" width="44" height="18" fill="#f3efe0"/>
<rect x="1330" y="672" width="45" height="18" fill="#ead9a2"/>
<rect x="1375" y="672" width="44" height="18" fill="#e6cd82"/>
<rect x="1419" y="672" width="44" height="18" fill="#e3b858"/>
<rect x="1463" y="672" width="45" height="18" fill="#e39f37"/>
<rect x="1508" y="672" width="44" height="18" fill="#e08522"/>
<rect x="1552" y="672" width="44" height="18" fill="#d95f15"/>
<rect x="1596" y="672" width="45" height="18" fill="#c13d22"/>
<rect x="1641" y="672" width="44" height="18" fill="#a62c33"/>
<rect x="1685" y="672" width="45" height="18" fill="#8c2244"/>
<rect x="1730" y="672" width="44" height="18" fill="#6c1b50"/>
<rect x="1774" y="672" width="44" height="18" fill="#4f144c"/>
<rect x="1818" y="672" width="45" height="18" fill="#370e48"/>
<rect x="1863" y="672" width="44" height="18" fill="#2c0c45"/>
<rect x="1907" y="672" width="44" height="18" fill="#1c092b"/>
<rect x="1951" y="672" width="45" height="18" fill="#14071d"/>
<rect x="1996" y="672" width="44" height="18" fill="#110618"/>
<rect x="2040" y="672" width="44" height="18" fill="#110618"/>
<rect x="2084" y="672" width="45" height="18" fill="#0f0515"/>
<rect x="2129" y="672" width="44" height="18" fill="#0f0515"/>
<rect x="310" y="690" width="45" height="18" fill="#170822"/>
<rect x="355" y="690" width="44" height="18" fill="#170822"/>
<rect x="399" y="690" width="44" height="18" fill="#170822"/>
<rect x="443" y="690" width="45" height="18" fill="#190826"/>
<rect x="488" y="690" width="44" height="18" fill="#1c092b"/>
<rect x="532" y="690" width="44" height="18" fill="#1f0a30"/>
<rect x="576" y="690" width="45" height="18" fill="#230b37"/>
<rect x="621" y="690" width="44" height="18" fill="#280b3e"/>
<rect x="665" y="690" width="45" height="18" fill="#370e48"/>
<rect x="710" y="690" width="44" height="18" fill="#4f144c"/>
<rect x="754" y="690" width="44" height="18" fill="#5b1650"/>
<rect x="798" y="690" width="45" height="18" fill="#781d50"/>
<rect x="843" y="690" width="44" height="18" fill="#95253e"/>
<rect x="887" y="690" width="44" height="18" fill="#b3322b"/>
<rect x="931" y="690" width="45" height="18" fill="#cc461b"/>
<rect x="976" y="690" width="44" height="18" fill="#dc6e18"/>
<rect x="1020" y="690" width="44" height="18" fill="#e18824"/>
<rect x="1064" y="690" width="45" height="18" fill="#e3a23a"/>
<rect x="1109" y="690" width="44" height="18" fill="#e4c36c"/>
<rect x="1153" y="690" width="44" height="18" fill="#e7d08a"/>
<rect x="1197" y="690" width="45" height="18" fill="#ebdcaa"/>
<rect x="1242" y="690" width="44" height="18" fill="#f2edd9"/>
<rect x="1286" y="690" width="44" height="18" fill="#f4f1e5"/>
<rect x="1330" y="690" width="45" height="18" fill="#ecdfb3"/>
<rect x="1375" y="690" width="44" height="18" fill="#e7d08a"/>
<rect x="1419" y="690" width="44" height="18" fill="#e4c066"/>
<rect x="1463" y="690" width="45" height="18" fill="#e3a840"/>
<rect x="1508" y="690" width="44" height="18" fill="#e28e27"/>
<rect x="1552" y="690" width="44" height="18" fill="#dc6e18"/>
<rect x="1596" y="690" width="45" height="18" fill="#d44f14"/>
<rect x="1641" y="690" width="44" height="18" fill="#bd3a24"/>
<rect x="1685" y="690" width="45" height="18" fill="#a62c33"/>
<rect x="1730" y="690" width="44" height="18" fill="#82204b"/>
<rect x="1774" y="690" width="44" height="18" fill="#5b1650"/>
<rect x="1818" y="690" width="45" height="18" fill="#4f144c"/>
<rect x="1863" y="690" width="44" height="18" fill="#3d1048"/>
<rect x="1907" y="690" width="44" height="18" fill="#280b3e"/>
<rect x="1951" y="690" width="45" height="18" fill="#190826"/>
<rect x="1996" y="690" width="44" height="18" fill="#190826"/>
<rect x="2040" y="690" width="44" height="18" fill="#170822"/>
<rect x="2084" y="690" width="45" height="18" fill="#110618"/>
<rect x="2129" y="690" width="44" height="18" fill="#0f0515"/>
<rect x="310" y="708" width="45" height="19" fill="#1c092b"/>
<rect x="355" y="708" width="44" height="19" fill="#1c092b"/>
<rect x="399" y="708" width="44" height="19" fill="#1c092b"/>
<rect x="443" y="708" width="45" height="19" fill="#1f0a30"/>
<rect x="488" y="708" width="44" height="19" fill="#1f0a30"/>
<rect x="532" y="708" width="44" height="19" fill="#230b37"/>
<rect x="576" y="708" width="45" height="19" fill="#280b3e"/>
<rect x="621" y="708" width="44" height="19" fill="#370e48"/>
<rect x="665" y="708" width="45" height="19" fill="#4f144c"/>
<rect x="710" y="708" width="44" height="19" fill="#671950"/>
<rect x="754" y="708" width="44" height="19" fill="#7d1f4e"/>
<rect x="798" y="708" width="45" height="19" fill="#95253e"/>
<rect x="843" y="708" width="44" height="19" fill="#b63528"/>
<rect x="887" y="708" width="44" height="19" fill="#ce4819"/>
<rect x="931" y="708" width="45" height="19" fill="#d95f15"/>
<rect x="976" y="708" width="44" height="19" fill="#de7c1e"/>
<rect x="1020" y="708" width="44" height="19" fill="#e29129"/>
<rect x="1064" y="708" width="45" height="19" fill="#e3af49"/>
<rect x="1109" y="708" width="44" height="19" fill="#e5c571"/>
<rect x="1153" y="708" width="44" height="19" fill="#e7d08a"/>
<rect x="1197" y="708" width="45" height="19" fill="#ebdcaa"/>
<rect x="1242" y="708" width="44" height="19" fill="#efe6c6"/>
<rect x="1286" y="708" width="44" height="19" fill="#f4f1e5"/>
<rect x="1330" y="708" width="45" height="19" fill="#ebdcaa"/>
<rect x="1375" y="708" width="44" height="19" fill="#e7d08a"/>
<rect x="1419" y="708" width="44" height="19" fill="#e4c36c"/>
<rect x="1463" y="708" width="45" height="19" fill="#e3af49"/>
<rect x="1508" y="708" width="44" height="19" fill="#e39f37"/>
<rect x="1552" y="708" width="44" height="19" fill="#de7c1e"/>
<rect x="1596" y="708" width="45" height="19" fill="#db6716"/>
<rect x="1641" y="708" width="44" height="19" fill="#ce4819"/>
<rect x="1685" y="708" width="45" height="19" fill="#b63528"/>
<rect x="1730" y="708" width="44" height="19" fill="#9e2938"/>
<rect x="1774" y="708" width="44" height="19" fill="#7d1f4e"/>
<rect x="1818" y="708" width="45" height="19" fill="#671950"/>
<rect x="1863" y="708" width="44" height="19" fill="#55154e"/>
<rect x="1907" y="708" width="44" height="19" fill="#431248"/>
<rect x="1951" y="708" width="45" height="19" fill="#2c0c45"/>
<rect x="1996" y="708" width="44" height="19" fill="#1f0a30"/>
<rect x="2040" y="708" width="44" height="19" fill="#1f0a30"/>
<rect x="2084" y="708" width="45" height="19" fill="#190826"/>
<rect x="2129" y="708" width="44" height="19" fill="#14071d"/>
<rect x="310" y="727" width="45" height="18" fill="#3d1048"/>
<rect x="355" y="727" width="44" height="18" fill="#3d1048"/>
<rect x="399" y="727" width="44" height="18" fill="#49134a"/>
<rect x="443" y="727" width="45" height="18" fill="#55154e"/>
<rect x="488" y="727" width="44" height="18" fill="#5b1650"/>
<rect x="532" y="727" width="44" height="18" fill="#721c50"/>
<rect x="576" y="727" width="45" height="18" fill="#82204b"/>
<rect x="621" y="727" width="44" height="18" fill="#95253e"/>
<rect x="665" y="727" width="45" height="18" fill="#a62c33"/>
<rect x="710" y="727" width="44" height="18" fill="#b63528"/>
<rect x="754" y="727" width="44" height="18" fill="#cc461b"/>
<rect x="798" y="727" width="45" height="18" fill="#d75412"/>
<rect x="843" y="727" width="44" height="18" fill="#de7c1e"/>
<rect x="887" y="727" width="44" height="18" fill="#e18824"/>
<rect x="931" y="727" width="45" height="18" fill="#e28e27"/>
<rect x="976" y="727" width="44" height="18" fill="#e3a23a"/>
<rect x="1020" y="727" width="44" height="18" fill="#e3a840"/>
<rect x="1064" y="727" width="45" height="18" fill="#e3b553"/>
<rect x="1109" y="727" width="44" height="18" fill="#e5c571"/>
<rect x="1153" y="727" width="44" height="18" fill="#e5c571"/>
<rect x="1197" y="727" width="45" height="18" fill="#e5c571"/>
<rect x="1242" y="727" width="44" height="18" fill="#e5c571"/>
<rect x="1286" y="727" width="44" height="18" fill="#e5c571"/>
<rect x="1330" y="727" width="45" height="18" fill="#e5c571"/>
<rect x="1375" y="727" width="44" height="18" fill="#e4bd61"/>
<rect x="1419" y="727" width="44" height="18" fill="#e3b553"/>
<rect x="1463" y="727" width="45" height="18" fill="#e3a840"/>
<rect x="1508" y="727" width="44" height="18" fill="#e39c34"/>
<rect x="1552" y="727" width="44" height="18" fill="#e18824"/>
<rect x="1596" y="727" width="45" height="18" fill="#de771c"/>
<rect x="1641" y="727" width="44" height="18" fill="#db6716"/>
<rect x="1685" y="727" width="45" height="18" fill="#d65113"/>
<rect x="1730" y="727" width="44" height="18" fill="#c8421e"/>
<rect x="1774" y="727" width="44" height="18" fill="#b63528"/>
<rect x="1818" y="727" width="45" height="18" fill="#a62c33"/>
<rect x="1863" y="727" width="44" height="18" fill="#95253e"/>
<rect x="1907" y="727" width="44" height="18" fill="#82204b"/>
<rect x="1951" y="727" width="45" height="18" fill="#6c1b50"/>
<rect x="1996" y="727" width="44" height="18" fill="#5b1650"/>
<rect x="2040" y="727" width="44" height="18" fill="#55154e"/>
<rect x="2084" y="727" width="45" height="18" fill="#431248"/>
<rect x="2129" y="727" width="44" height="18" fill="#370e48"/>
<rect x="310" y="745" width="45" height="18" fill="#b3322b"/>
<rect x="355" y="745" width="44" height="18" fill="#b3322b"/>
<rect x="399" y="745" width="44" height="18" fill="#b3322b"/>
<rect x="443" y="745" width="45" height="18" fill="#bd3a24"/>
<rect x="488" y="745" width="44" height="18" fill="#bd3a24"/>
<rect x="532" y="745" width="44" height="18" fill="#bd3a24"/>
<rect x="576" y="745" width="45" height="18" fill="#c43f20"/>
<rect x="621" y="745" width="44" height="18" fill="#c43f20"/>
<rect x="665" y="745" width="45" height="18" fill="#cc461b"/>
<rect x="710" y="745" width="44" height="18" fill="#cc461b"/>
<rect x="754" y="745" width="44" height="18" fill="#cc461b"/>
<rect x="798" y="745" width="45" height="18" fill="#d44f14"/>
<rect x="843" y="745" width="44" height="18" fill="#d75412"/>
<rect x="887" y="745" width="44" height="18" fill="#db6716"/>
<rect x="931" y="745" width="45" height="18" fill="#dc6e18"/>
<rect x="976" y="745" width="44" height="18" fill="#de771c"/>
<rect x="1020" y="745" width="44" height="18" fill="#de7c1e"/>
<rect x="1064" y="745" width="45" height="18" fill="#e18824"/>
<rect x="1109" y="745" width="44" height="18" fill="#e39c34"/>
<rect x="1153" y="745" width="44" height="18" fill="#e39f37"/>
<rect x="1197" y="745" width="45" height="18" fill="#e39f37"/>
<rect x="1242" y="745" width="44" height="18" fill="#e3a840"/>
<rect x="1286" y="745" width="44" height="18" fill="#e3a840"/>
<rect x="1330" y="745" width="45" height="18" fill="#e3a840"/>
<rect x="1375" y="745" width="44" height="18" fill="#e39f37"/>
<rect x="1419" y="745" width="44" height="18" fill="#e29830"/>
<rect x="1463" y="745" width="45" height="18" fill="#e29129"/>
<rect x="1508" y="745" width="44" height="18" fill="#e18824"/>
<rect x="1552" y="745" width="44" height="18" fill="#de7c1e"/>
<rect x="1596" y="745" width="45" height="18" fill="#dd731a"/>
<rect x="1641" y="745" width="44" height="18" fill="#db6716"/>
<rect x="1685" y="745" width="45" height="18" fill="#d95f15"/>
<rect x="1730" y="745" width="44" height="18" fill="#d65113"/>
<rect x="1774" y="745" width="44" height="18" fill="#ce4819"/>
<rect x="1818" y="745" width="45" height="18" fill="#c8421e"/>
<rect x="1863" y="745" width="44" height="18" fill="#c13d22"/>
<rect x="1907" y="745" width="44" height="18" fill="#bd3a24"/>
<rect x="1951" y="745" width="45" height="18" fill="#af2f2d"/>
<rect x="1996" y="745" width="44" height="18" fill="#aa2e30"/>
<rect x="2040" y="745" width="44" height="18" fill="#aa2e30"/>
<rect x="2084" y="745" width="45" height="18" fill="#a22a35"/>
<rect x="2129" y="745" width="44" height="18" fill="#99273b"/>
<rect x="310" y="763" width="45" height="19" fill="#da6316"/>
<rect x="355" y="763" width="44" height="19" fill="#da6316"/>
<rect x="399" y="763" width="44" height="19" fill="#da6316"/>
<rect x="443" y="763" width="45" height="19" fill="#d95c14"/>
<rect x="488" y="763" width="44" height="19" fill="#ce4819"/>
<rect x="532" y="763" width="44" height="19" fill="#ce4819"/>
<rect x="576" y="763" width="45" height="19" fill="#c13d22"/>
<rect x="621" y="763" width="44" height="19" fill="#c13d22"/>
<rect x="665" y="763" width="45" height="19" fill="#b63528"/>
<rect x="710" y="763" width="44" height="19" fill="#af2f2d"/>
<rect x="754" y="763" width="44" height="19" fill="#a62c33"/>
<rect x="798" y="763" width="45" height="19" fill="#a62c33"/>
<rect x="843" y="763" width="44" height="19" fill="#aa2e30"/>
<rect x="887" y="763" width="44" height="19" fill="#b63528"/>
<rect x="931" y="763" width="45" height="19" fill="#c13d22"/>
<rect x="976" y="763" width="44" height="19" fill="#ce4819"/>
<rect x="1020" y="763" width="44" height="19" fill="#d85813"/>
<rect x="1064" y="763" width="45" height="19" fill="#dc6e18"/>
<rect x="1109" y="763" width="44" height="19" fill="#de7c1e"/>
<rect x="1153" y="763" width="44" height="19" fill="#e08522"/>
<rect x="1197" y="763" width="45" height="19" fill="#e18824"/>
<rect x="1242" y="763" width="44" height="19" fill="#e18824"/>
<rect x="1286" y="763" width="44" height="19" fill="#e28e27"/>
<rect x="1330" y="763" width="45" height="19" fill="#e08522"/>
<rect x="1375" y="763" width="44" height="19" fill="#dd731a"/>
<rect x="1419" y="763" width="44" height="19" fill="#db6716"/>
<rect x="1463" y="763" width="45" height="19" fill="#d44f14"/>
<rect x="1508" y="763" width="44" height="19" fill="#cc461b"/>
<rect x="1552" y="763" width="44" height="19" fill="#c13d22"/>
<rect x="1596" y="763" width="45" height="19" fill="#aa2e30"/>
<rect x="1641" y="763" width="44" height="19" fill="#a22a35"/>
<rect x="1685" y="763" width="45" height="19" fill="#9e2938"/>
<rect x="1730" y="763" width="44" height="19" fill="#9e2938"/>
<rect x="1774" y="763" width="44" height="19" fill="#99273b"/>
<rect x="1818" y="763" width="45" height="19" fill="#99273b"/>
<rect x="1863" y="763" width="44" height="19" fill="#a22a35"/>
<rect x="1907" y="763" width="44" height="19" fill="#aa2e30"/>
<rect x="1951" y="763" width="45" height="19" fill="#af2f2d"/>
<rect x="1996" y="763" width="44" height="19" fill="#b3322b"/>
<rect x="2040" y="763" width="44" height="19" fill="#b3322b"/>
<rect x="2084" y="763" width="45" height="19" fill="#b3322b"/>
<rect x="2129" y="763" width="44" height="19" fill="#b3322b"/>
<rect x="310" y="782" width="45" height="18" fill="#aa2e30"/>
<rect x="355" y="782" width="44" height="18" fill="#aa2e30"/>
<rect x="399" y="782" width="44" height="18" fill="#aa2e30"/>
<rect x="443" y="782" width="45" height="18" fill="#af2f2d"/>
<rect x="488" y="782" width="44" height="18" fill="#b63528"/>
<rect x="532" y="782" width="44" height="18" fill="#bd3a24"/>
<rect x="576" y="782" width="45" height="18" fill="#c43f20"/>
<rect x="621" y="782" width="44" height="18" fill="#ce4819"/>
<rect x="665" y="782" width="45" height="18" fill="#d75412"/>
<rect x="710" y="782" width="44" height="18" fill="#db6716"/>
<rect x="754" y="782" width="44" height="18" fill="#dd731a"/>
<rect x="798" y="782" width="45" height="18" fill="#de7c1e"/>
<rect x="843" y="782" width="44" height="18" fill="#e29129"/>
<rect x="887" y="782" width="44" height="18" fill="#e39f37"/>
<rect x="931" y="782" width="45" height="18" fill="#e3a840"/>
<rect x="976" y="782" width="44" height="18" fill="#e3af49"/>
<rect x="1020" y="782" width="44" height="18" fill="#e3b553"/>
<rect x="1064" y="782" width="45" height="18" fill="#e4bd61"/>
<rect x="1109" y="782" width="44" height="18" fill="#e4c36c"/>
<rect x="1153" y="782" width="44" height="18" fill="#e4c36c"/>
<rect x="1197" y="782" width="45" height="18" fill="#e4c36c"/>
<rect x="1242" y="782" width="44" height="18" fill="#e4c36c"/>
<rect x="1286" y="782" width="44" height="18" fill="#e4c36c"/>
<rect x="1330" y="782" width="45" height="18" fill="#e3b553"/>
<rect x="1375" y="782" width="44" height="18" fill="#e3a840"/>
<rect x="1419" y="782" width="44" height="18" fill="#e39f37"/>
<rect x="1463" y="782" width="45" height="18" fill="#e29129"/>
<rect x="1508" y="782" width="44" height="18" fill="#e08522"/>
<rect x="1552" y="782" width="44" height="18" fill="#de7c1e"/>
<rect x="1596" y="782" width="45" height="18" fill="#dc6e18"/>
<rect x="1641" y="782" width="44" height="18" fill="#d95f15"/>
<rect x="1685" y="782" width="45" height="18" fill="#d65113"/>
<rect x="1730" y="782" width="44" height="18" fill="#cc461b"/>
<rect x="1774" y="782" width="44" height="18" fill="#c13d22"/>
<rect x="1818" y="782" width="45" height="18" fill="#b3322b"/>
<rect x="1863" y="782" width="44" height="18" fill="#aa2e30"/>
<rect x="1907" y="782" width="44" height="18" fill="#a62c33"/>
<rect x="1951" y="782" width="45" height="18" fill="#a22a35"/>
<rect x="1996" y="782" width="44" height="18" fill="#99273b"/>
<rect x="2040" y="782" width="44" height="18" fill="#99273b"/>
<rect x="2084" y="782" width="45" height="18" fill="#99273b"/>
<rect x="2129" y="782" width="44" height="18" fill="#99273b"/>
<rect x="310" y="800" width="45" height="18" fill="#721c50"/>
<rect x="355" y="800" width="44" height="18" fill="#7d1f4e"/>
<rect x="399" y="800" width="44" height="18" fill="#7d1f4e"/>
<rect x="443" y="800" width="45" height="18" fill="#82204b"/>
<rect x="488" y="800" width="44" height="18" fill="#912441"/>
<rect x="532" y="800" width="44" height="18" fill="#a22a35"/>
<rect x="576" y="800" width="45" height="18" fill="#aa2e30"/>
<rect x="621" y="800" width="44" height="18" fill="#b3322b"/>
<rect x="665" y="800" width="45" height="18" fill="#cc461b"/>
<rect x="710" y="800" width="44" height="18" fill="#d75412"/>
<rect x="754" y="800" width="44" height="18" fill="#dc6e18"/>
<rect x="798" y="800" width="45" height="18" fill="#de771c"/>
<rect x="843" y="800" width="44" height="18" fill="#e29129"/>
<rect x="887" y="800" width="44" height="18" fill="#e39f37"/>
<rect x="931" y="800" width="45" height="18" fill="#e3a840"/>
<rect x="976" y="800" width="44" height="18" fill="#e3af49"/>
<rect x="1020" y="800" width="44" height="18" fill="#e4bd61"/>
<rect x="1064" y="800" width="45" height="18" fill="#e5c571"/>
<rect x="1109" y="800" width="44" height="18" fill="#e9d69a"/>
<rect x="1153" y="800" width="44" height="18" fill="#ead9a2"/>
<rect x="1197" y="800" width="45" height="18" fill="#ebdcaa"/>
<rect x="1242" y="800" width="44" height="18" fill="#eee3bd"/>
<rect x="1286" y="800" width="44" height="18" fill="#eee3bd"/>
<rect x="1330" y="800" width="45" height="18" fill="#ebdcaa"/>
<rect x="1375" y="800" width="44" height="18" fill="#e9d69a"/>
<rect x="1419" y="800" width="44" height="18" fill="#e7d08a"/>
<rect x="1463" y="800" width="45" height="18" fill="#e5c877"/>
<rect x="1508" y="800" width="44" height="18" fill="#e4bd61"/>
<rect x="1552" y="800" width="44" height="18" fill="#e3b553"/>
<rect x="1596" y="800" width="45" height="18" fill="#e3a23a"/>
<rect x="1641" y="800" width="44" height="18" fill="#e29129"/>
<rect x="1685" y="800" width="45" height="18" fill="#e18824"/>
<rect x="1730" y="800" width="44" height="18" fill="#de771c"/>
<rect x="1774" y="800" width="44" height="18" fill="#db6716"/>
<rect x="1818" y="800" width="45" height="18" fill="#d95c14"/>
<rect x="1863" y="800" width="44" height="18" fill="#d44f14"/>
<rect x="1907" y="800" width="44" height="18" fill="#c43f20"/>
<rect x="1951" y="800" width="45" height="18" fill="#af2f2d"/>
<rect x="1996" y="800" width="44" height="18" fill="#aa2e30"/>
<rect x="2040" y="800" width="44" height="18" fill="#a22a35"/>
<rect x="2084" y="800" width="45" height="18" fill="#95253e"/>
<rect x="2129" y="800" width="44" height="18" fill="#872148"/>
<rect x="310" y="818" width="45" height="18" fill="#5b1650"/>
<rect x="355" y="818" width="44" height="18" fill="#671950"/>
<rect x="399" y="818" width="44" height="18" fill="#781d50"/>
<rect x="443" y="818" width="45" height="18" fill="#82204b"/>
<rect x="488" y="818" width="44" height="18" fill="#912441"/>
<rect x="532" y="818" width="44" height="18" fill="#a62c33"/>
<rect x="576" y="818" width="45" height="18" fill="#af2f2d"/>
<rect x="621" y="818" width="44" height="18" fill="#c13d22"/>
<rect x="665" y="818" width="45" height="18" fill="#ce4819"/>
<rect x="710" y="818" width="44" height="18" fill="#d85813"/>
<rect x="754" y="818" width="44" height="18" fill="#dc6e18"/>
<rect x="798" y="818" width="45" height="18" fill="#e08522"/>
<rect x="843" y="818" width="44" height="18" fill="#e29830"/>
<rect x="887" y="818" width="44" height="18" fill="#e3a23a"/>
<rect x="931" y="818" width="45" height="18" fill="#e3af49"/>
<rect x="976" y="818" width="44" height="18" fill="#e3b553"/>
<rect x="1020" y="818" width="44" height="18" fill="#e4c36c"/>
<rect x="1064" y="818" width="45" height="18" fill="#e7d08a"/>
<rect x="1109" y="818" width="44" height="18" fill="#ead9a2"/>
<rect x="1153" y="818" width="44" height="18" fill="#ecdfb3"/>
<rect x="1197" y="818" width="45" height="18" fill="#efe6c6"/>
<rect x="1242" y="818" width="44" height="18" fill="#efe6c6"/>
<rect x="1286" y="818" width="44" height="18" fill="#f0ead0"/>
<rect x="1330" y="818" width="45" height="18" fill="#efe6c6"/>
<rect x="1375" y="818" width="44" height="18" fill="#ecdfb3"/>
<rect x="1419" y="818" width="44" height="18" fill="#e9d69a"/>
<rect x="1463" y="818" width="45" height="18" fill="#e7d08a"/>
<rect x="1508" y="818" width="44" height="18" fill="#e5c877"/>
<rect x="1552" y="818" width="44" height="18" fill="#e4bd61"/>
<rect x="1596" y="818" width="45" height="18" fill="#e3af49"/>
<rect x="1641" y="818" width="44" height="18" fill="#e3a23a"/>
<rect x="1685" y="818" width="45" height="18" fill="#e29129"/>
<rect x="1730" y="818" width="44" height="18" fill="#e08522"/>
<rect x="1774" y="818" width="44" height="18" fill="#dd731a"/>
<rect x="1818" y="818" width="45" height="18" fill="#d95f15"/>
<rect x="1863" y="818" width="44" height="18" fill="#d44f14"/>
<rect x="1907" y="818" width="44" height="18" fill="#c13d22"/>
<rect x="1951" y="818" width="45" height="18" fill="#af2f2d"/>
<rect x="1996" y="818" width="44" height="18" fill="#aa2e30"/>
<rect x="2040" y="818" width="44" height="18" fill="#9e2938"/>
<rect x="2084" y="818" width="45" height="18" fill="#8c2244"/>
<rect x="2129" y="818" width="44" height="18" fill="#781d50"/>
<rect x="310" y="836" width="45" height="19" fill="#5b1650"/>
<rect x="355" y="836" width="44" height="19" fill="#671950"/>
<rect x="399" y="836" width="44" height="19" fill="#781d50"/>
<rect x="443" y="836" width="45" height="19" fill="#872148"/>
<rect x="488" y="836" width="44" height="19" fill="#95253e"/>
<rect x="532" y="836" width="44" height="19" fill="#a62c33"/>
<rect x="576" y="836" width="45" height="19" fill="#af2f2d"/>
<rect x="621" y="836" width="44" height="19" fill="#c13d22"/>
<rect x="665" y="836" width="45" height="19" fill="#ce4819"/>
<rect x="710" y="836" width="44" height="19" fill="#d85813"/>
<rect x="754" y="836" width="44" height="19" fill="#dc6e18"/>
<rect x="798" y="836" width="45" height="19" fill="#e08522"/>
<rect x="843" y="836" width="44" height="19" fill="#e29830"/>
<rect x="887" y="836" width="44" height="19" fill="#e3a23a"/>
<rect x="931" y="836" width="45" height="19" fill="#e3af49"/>
<rect x="976" y="836" width="44" height="19" fill="#e4ba5c"/>
<rect x="1020" y="836" width="44" height="19" fill="#e4c36c"/>
<rect x="1064" y="836" width="45" height="19" fill="#e9d69a"/>
<rect x="1109" y="836" width="44" height="19" fill="#ecdfb3"/>
<rect x="1153" y="836" width="44" height="19" fill="#ebdcaa"/>
<rect x="1197" y="836" width="45" height="19" fill="#ecdfb3"/>
<rect x="1242" y="836" width="44" height="19" fill="#ecdfb3"/>
<rect x="1286" y="836" width="44" height="19" fill="#ecdfb3"/>
<rect x="1330" y="836" width="45" height="19" fill="#ead9a2"/>
<rect x="1375" y="836" width="44" height="19" fill="#e7d08a"/>
<rect x="1419" y="836" width="44" height="19" fill="#e5c877"/>
<rect x="1463" y="836" width="45" height="19" fill="#e4c36c"/>
<rect x="1508" y="836" width="44" height="19" fill="#e3af49"/>
<rect x="1552" y="836" width="44" height="19" fill="#e3a840"/>
<rect x="1596" y="836" width="45" height="19" fill="#e29830"/>
<rect x="1641" y="836" width="44" height="19" fill="#e18824"/>
<rect x="1685" y="836" width="45" height="19" fill="#de771c"/>
<rect x="1730" y="836" width="44" height="19" fill="#db6716"/>
<rect x="1774" y="836" width="44" height="19" fill="#d44f14"/>
<rect x="1818" y="836" width="45" height="19" fill="#c43f20"/>
<rect x="1863" y="836" width="44" height="19" fill="#b3322b"/>
<rect x="1907" y="836" width="44" height="19" fill="#a22a35"/>
<rect x="1951" y="836" width="45" height="19" fill="#912441"/>
<rect x="1996" y="836" width="44" height="19" fill="#8c2244"/>
<rect x="2040" y="836" width="44" height="19" fill="#7d1f4e"/>
<rect x="2084" y="836" width="45" height="19" fill="#6c1b50"/>
<rect x="2129" y="836" width="44" height="19" fill="#55154e"/>
<rect x="310" y="855" width="45" height="18" fill="#95253e"/>
<rect x="355" y="855" width="44" height="18" fill="#95253e"/>
<rect x="399" y="855" width="44" height="18" fill="#95253e"/>
<rect x="443" y="855" width="45" height="18" fill="#912441"/>
<rect x="488" y="855" width="44" height="18" fill="#912441"/>
<rect x="532" y="855" width="44" height="18" fill="#9e2938"/>
<rect x="576" y="855" width="45" height="18" fill="#9e2938"/>
<rect x="621" y="855" width="44" height="18" fill="#a62c33"/>
<rect x="665" y="855" width="45" height="18" fill="#b3322b"/>
<rect x="710" y="855" width="44" height="18" fill="#c13d22"/>
<rect x="754" y="855" width="44" height="18" fill="#cc461b"/>
<rect x="798" y="855" width="45" height="18" fill="#d75412"/>
<rect x="843" y="855" width="44" height="18" fill="#dc6e18"/>
<rect x="887" y="855" width="44" height="18" fill="#de771c"/>
<rect x="931" y="855" width="45" height="18" fill="#e18824"/>
<rect x="976" y="855" width="44" height="18" fill="#e29129"/>
<rect x="1020" y="855" width="44" height="18" fill="#e39f37"/>
<rect x="1064" y="855" width="45" height="18" fill="#e3af49"/>
<rect x="1109" y="855" width="44" height="18" fill="#e4bd61"/>
<rect x="1153" y="855" width="44" height="18" fill="#e4c36c"/>
<rect x="1197" y="855" width="45" height="18" fill="#e4c36c"/>
<rect x="1242" y="855" width="44" height="18" fill="#e4c36c"/>
<rect x="1286" y="855" width="44" height="18" fill="#e4c36c"/>
<rect x="1330" y="855" width="45" height="18" fill="#e4bd61"/>
<rect x="1375" y="855" width="44" height="18" fill="#e3af49"/>
<rect x="1419" y="855" width="44" height="18" fill="#e3a23a"/>
<rect x="1463" y="855" width="45" height="18" fill="#e29129"/>
<rect x="1508" y="855" width="44" height="18" fill="#e08522"/>
<rect x="1552" y="855" width="44" height="18" fill="#dd731a"/>
<rect x="1596" y="855" width="45" height="18" fill="#d95f15"/>
<rect x="1641" y="855" width="44" height="18" fill="#ce4819"/>
<rect x="1685" y="855" width="45" height="18" fill="#c13d22"/>
<rect x="1730" y="855" width="44" height="18" fill="#aa2e30"/>
<rect x="1774" y="855" width="44" height="18" fill="#9e2938"/>
<rect x="1818" y="855" width="45" height="18" fill="#8c2244"/>
<rect x="1863" y="855" width="44" height="18" fill="#7d1f4e"/>
<rect x="1907" y="855" width="44" height="18" fill="#721c50"/>
<rect x="1951" y="855" width="45" height="18" fill="#5b1650"/>
<rect x="1996" y="855" width="44" height="18" fill="#5b1650"/>
<rect x="2040" y="855" width="44" height="18" fill="#5b1650"/>
<rect x="2084" y="855" width="45" height="18" fill="#5b1650"/>
<rect x="2129" y="855" width="44" height="18" fill="#5b1650"/>
<rect x="310" y="873" width="45" height="18" fill="#d44f14"/>
<rect x="355" y="873" width="44" height="18" fill="#d44f14"/>
<rect x="399" y="873" width="44" height="18" fill="#d44f14"/>
<rect x="443" y="873" width="45" height="18" fill="#d65113"/>
<rect x="488" y="873" width="44" height="18" fill="#d65113"/>
<rect x="532" y="873" width="44" height="18" fill="#d65113"/>
<rect x="576" y="873" width="45" height="18" fill="#d65113"/>
<rect x="621" y="873" width="44" height="18" fill="#d75412"/>
<rect x="665" y="873" width="45" height="18" fill="#da6316"/>
<rect x="710" y="873" width="44" height="18" fill="#db6716"/>
<rect x="754" y="873" width="44" height="18" fill="#dc6e18"/>
<rect x="798" y="873" width="45" height="18" fill="#de771c"/>
<rect x="843" y="873" width="44" height="18" fill="#e08522"/>
<rect x="887" y="873" width="44" height="18" fill="#e18824"/>
<rect x="931" y="873" width="45" height="18" fill="#e28e27"/>
<rect x="976" y="873" width="44" height="18" fill="#e29830"/>
<rect x="1020" y="873" width="44" height="18" fill="#e3a23a"/>
<rect x="1064" y="873" width="45" height="18" fill="#e3af49"/>
<rect x="1109" y="873" width="44" height="18" fill="#e4ba5c"/>
<rect x="1153" y="873" width="44" height="18" fill="#e4bd61"/>
<rect x="1197" y="873" width="45" height="18" fill="#e4c36c"/>
<rect x="1242" y="873" width="44" height="18" fill="#e5c877"/>
<rect x="1286" y="873" width="44" height="18" fill="#e5c877"/>
<rect x="1330" y="873" width="45" height="18" fill="#e5c877"/>
<rect x="1375" y="873" width="44" height="18" fill="#e5c877"/>
<rect x="1419" y="873" width="44" height="18" fill="#e5c877"/>
<rect x="1463" y="873" width="45" height="18" fill="#e4c36c"/>
<rect x="1508" y="873" width="44" height="18" fill="#e3b553"/>
<rect x="1552" y="873" width="44" height="18" fill="#e3a23a"/>
<rect x="1596" y="873" width="45" height="18" fill="#e39c34"/>
<rect x="1641" y="873" width="44" height="18" fill="#e29129"/>
<rect x="1685" y="873" width="45" height="18" fill="#e18824"/>
<rect x="1730" y="873" width="44" height="18" fill="#e08522"/>
<rect x="1774" y="873" width="44" height="18" fill="#de771c"/>
<rect x="1818" y="873" width="45" height="18" fill="#dd731a"/>
<rect x="1863" y="873" width="44" height="18" fill="#dc6e18"/>
<rect x="1907" y="873" width="44" height="18" fill="#dc6e18"/>
<rect x="1951" y="873" width="45" height="18" fill="#da6316"/>
<rect x="1996" y="873" width="44" height="18" fill="#d95c14"/>
<rect x="2040" y="873" width="44" height="18" fill="#d95c14"/>
<rect x="2084" y="873" width="45" height="18" fill="#d95c14"/>
<rect x="2129" y="873" width="44" height="18" fill="#d95c14"/>
<rect x="310" y="891" width="45" height="19" fill="#bd3a24"/>
<rect x="355" y="891" width="44" height="19" fill="#c43f20"/>
<rect x="399" y="891" width="44" height="19" fill="#c8421e"/>
<rect x="443" y="891" width="45" height="19" fill="#ce4819"/>
<rect x="488" y="891" width="44" height="19" fill="#d65113"/>
<rect x="532" y="891" width="44" height="19" fill="#db6716"/>
<rect x="576" y="891" width="45" height="19" fill="#dd731a"/>
<rect x="621" y="891" width="44" height="19" fill="#de7c1e"/>
<rect x="665" y="891" width="45" height="19" fill="#e18b25"/>
<rect x="710" y="891" width="44" height="19" fill="#e29830"/>
<rect x="754" y="891" width="44" height="19" fill="#e3a23a"/>
<rect x="798" y="891" width="45" height="19" fill="#e3a840"/>
<rect x="843" y="891" width="44" height="19" fill="#e3b553"/>
<rect x="887" y="891" width="44" height="19" fill="#e4c36c"/>
<rect x="931" y="891" width="45" height="19" fill="#e4bd61"/>
<rect x="976" y="891" width="44" height="19" fill="#e5c571"/>
<rect x="1020" y="891" width="44" height="19" fill="#e7d08a"/>
<rect x="1064" y="891" width="45" height="19" fill="#ead9a2"/>
<rect x="1109" y="891" width="44" height="19" fill="#ecdfb3"/>
<rect x="1153" y="891" width="44" height="19" fill="#ecdfb3"/>
<rect x="1197" y="891" width="45" height="19" fill="#efe6c6"/>
<rect x="1242" y="891" width="44" height="19" fill="#f2edd9"/>
<rect x="1286" y="891" width="44" height="19" fill="#f3efe0"/>
<rect x="1330" y="891" width="45" height="19" fill="#f3efe0"/>
<rect x="1375" y="891" width="44" height="19" fill="#f0ead0"/>
<rect x="1419" y="891" width="44" height="19" fill="#f0ead0"/>
<rect x="1463" y="891" width="45" height="19" fill="#f0ead0"/>
<rect x="1508" y="891" width="44" height="19" fill="#ebdcaa"/>
<rect x="1552" y="891" width="44" height="19" fill="#e9d69a"/>
<rect x="1596" y="891" width="45" height="19" fill="#e5c877"/>
<rect x="1641" y="891" width="44" height="19" fill="#e4c36c"/>
<rect x="1685" y="891" width="45" height="19" fill="#e4bd61"/>
<rect x="1730" y="891" width="44" height="19" fill="#e3af49"/>
<rect x="1774" y="891" width="44" height="19" fill="#e3ad46"/>
<rect x="1818" y="891" width="45" height="19" fill="#e3a23a"/>
<rect x="1863" y="891" width="44" height="19" fill="#e39c34"/>
<rect x="1907" y="891" width="44" height="19" fill="#e29129"/>
<rect x="1951" y="891" width="45" height="19" fill="#e18824"/>
<rect x="1996" y="891" width="44" height="19" fill="#de7c1e"/>
<rect x="2040" y="891" width="44" height="19" fill="#dd731a"/>
<rect x="2084" y="891" width="45" height="19" fill="#dc6e18"/>
<rect x="2129" y="891" width="44" height="19" fill="#d95f15"/>
<rect x="310" y="910" width="45" height="18" fill="#aa2e30"/>
<rect x="355" y="910" width="44" height="18" fill="#b3322b"/>
<rect x="399" y="910" width="44" height="18" fill="#c13d22"/>
<rect x="443" y="910" width="45" height="18" fill="#cc461b"/>
<rect x="488" y="910" width="44" height="18" fill="#d44f14"/>
<rect x="532" y="910" width="44" height="18" fill="#d95f15"/>
<rect x="576" y="910" width="45" height="18" fill="#dd731a"/>
<rect x="621" y="910" width="44" height="18" fill="#de7c1e"/>
<rect x="665" y="910" width="45" height="18" fill="#e28e27"/>
<rect x="710" y="910" width="44" height="18" fill="#e39f37"/>
<rect x="754" y="910" width="44" height="18" fill="#e3a840"/>
<rect x="798" y="910" width="45" height="18" fill="#e3af49"/>
<rect x="843" y="910" width="44" height="18" fill="#e4c36c"/>
<rect x="887" y="910" width="44" height="18" fill="#e6cd82"/>
<rect x="931" y="910" width="45" height="18" fill="#e7d08a"/>
<rect x="976" y="910" width="44" height="18" fill="#ead9a2"/>
<rect x="1020" y="910" width="44" height="18" fill="#ecdfb3"/>
<rect x="1064" y="910" width="45" height="18" fill="#f0ead0"/>
<rect x="1109" y="910" width="44" height="18" fill="#f4f1e5"/>
<rect x="1153" y="910" width="44" height="18" fill="#f4f1e5"/>
<rect x="1197" y="910" width="45" height="18" fill="#f4f1e5"/>
<rect x="1242" y="910" width="44" height="18" fill="#f5f3eb"/>
<rect x="1286" y="910" width="44" height="18" fill="#f5f3eb"/>
<rect x="1330" y="910" width="45" height="18" fill="#f0ead0"/>
<rect x="1375" y="910" width="44" height="18" fill="#ecdfb3"/>
<rect x="1419" y="910" width="44" height="18" fill="#ecdfb3"/>
<rect x="1463" y="910" width="45" height="18" fill="#ead9a2"/>
<rect x="1508" y="910" width="44" height="18" fill="#e7d08a"/>
<rect x="1552" y="910" width="44" height="18" fill="#e4c066"/>
<rect x="1596" y="910" width="45" height="18" fill="#e3b553"/>
<rect x="1641" y="910" width="44" height="18" fill="#e3a840"/>
<rect x="1685" y="910" width="45" height="18" fill="#e39f37"/>
<rect x="1730" y="910" width="44" height="18" fill="#e29129"/>
<rect x="1774" y="910" width="44" height="18" fill="#e08522"/>
<rect x="1818" y="910" width="45" height="18" fill="#dd731a"/>
<rect x="1863" y="910" width="44" height="18" fill="#db6716"/>
<rect x="1907" y="910" width="44" height="18" fill="#d75412"/>
<rect x="1951" y="910" width="45" height="18" fill="#ce4819"/>
<rect x="1996" y="910" width="44" height="18" fill="#c43f20"/>
<rect x="2040" y="910" width="44" height="18" fill="#b63528"/>
<rect x="2084" y="910" width="45" height="18" fill="#aa2e30"/>
<rect x="2129" y="910" width="44" height="18" fill="#9e2938"/>
<rect x="310" y="928" width="45" height="18" fill="#9e2938"/>
<rect x="355" y="928" width="44" height="18" fill="#a62c33"/>
<rect x="399" y="928" width="44" height="18" fill="#af2f2d"/>
<rect x="443" y="928" width="45" height="18" fill="#c13d22"/>
<rect x="488" y="928" width="44" height="18" fill="#cc461b"/>
<rect x="532" y="928" width="44" height="18" fill="#d65113"/>
<rect x="576" y="928" width="45" height="18" fill="#db6716"/>
<rect x="621" y="928" width="44" height="18" fill="#dd731a"/>
<rect x="665" y="928" width="45" height="18" fill="#e18824"/>
<rect x="710" y="928" width="44" height="18" fill="#e29830"/>
<rect x="754" y="928" width="44" height="18" fill="#e3a840"/>
<rect x="798" y="928" width="45" height="18" fill="#e3af49"/>
<rect x="843" y="928" width="44" height="18" fill="#e4ba5c"/>
<rect x="887" y="928" width="44" height="18" fill="#e5c571"/>
<rect x="931" y="928" width="45" height="18" fill="#e7d08a"/>
<rect x="976" y="928" width="44" height="18" fill="#e9d69a"/>
<rect x="1020" y="928" width="44" height="18" fill="#ecdfb3"/>
<rect x="1064" y="928" width="45" height="18" fill="#f2edd9"/>
<rect x="1109" y="928" width="44" height="18" fill="#f5f3eb"/>
<rect x="1153" y="928" width="44" height="18" fill="#f3efe0"/>
<rect x="1197" y="928" width="45" height="18" fill="#f0ead0"/>
<rect x="1242" y="928" width="44" height="18" fill="#efe6c6"/>
<rect x="1286" y="928" width="44" height="18" fill="#ecdfb3"/>
<rect x="1330" y="928" width="45" height="18" fill="#ead9a2"/>
<rect x="1375" y="928" width="44" height="18" fill="#e9d69a"/>
<rect x="1419" y="928" width="44" height="18" fill="#e7d08a"/>
<rect x="1463" y="928" width="45" height="18" fill="#e6cd82"/>
<rect x="1508" y="928" width="44" height="18" fill="#e4bd61"/>
<rect x="1552" y="928" width="44" height="18" fill="#e3af49"/>
<rect x="1596" y="928" width="45" height="18" fill="#e3a23a"/>
<rect x="1641" y="928" width="44" height="18" fill="#e28e27"/>
<rect x="1685" y="928" width="45" height="18" fill="#de7c1e"/>
<rect x="1730" y="928" width="44" height="18" fill="#dc6e18"/>
<rect x="1774" y="928" width="44" height="18" fill="#da6316"/>
<rect x="1818" y="928" width="45" height="18" fill="#d44f14"/>
<rect x="1863" y="928" width="44" height="18" fill="#c8421e"/>
<rect x="1907" y="928" width="44" height="18" fill="#b63528"/>
<rect x="1951" y="928" width="45" height="18" fill="#aa2e30"/>
<rect x="1996" y="928" width="44" height="18" fill="#9e2938"/>
<rect x="2040" y="928" width="44" height="18" fill="#912441"/>
<rect x="2084" y="928" width="45" height="18" fill="#7d1f4e"/>
<rect x="2129" y="928" width="44" height="18" fill="#611850"/>
<rect x="310" y="946" width="45" height="18" fill="#a62c33"/>
<rect x="355" y="946" width="44" height="18" fill="#af2f2d"/>
<rect x="399" y="946" width="44" height="18" fill="#bd3a24"/>
<rect x="443" y="946" width="45" height="18" fill="#c8421e"/>
<rect x="488" y="946" width="44" height="18" fill="#d44f14"/>
<rect x="532" y="946" width="44" height="18" fill="#d95f15"/>
<rect x="576" y="946" width="45" height="18" fill="#dc6e18"/>
<rect x="621" y="946" width="44" height="18" fill="#de771c"/>
<rect x="665" y="946" width="45" height="18" fill="#e18824"/>
<rect x="710" y="946" width="44" height="18" fill="#e39f37"/>
<rect x="754" y="946" width="44" height="18" fill="#e3a840"/>
<rect x="798" y="946" width="45" height="18" fill="#e3af49"/>
<rect x="843" y="946" width="44" height="18" fill="#e4ba5c"/>
<rect x="887" y="946" width="44" height="18" fill="#e5c571"/>
<rect x="931" y="946" width="45" height="18" fill="#e7d08a"/>
<rect x="976" y="946" width="44" height="18" fill="#e9d69a"/>
<rect x="1020" y="946" width="44" height="18" fill="#ecdfb3"/>
<rect x="1064" y="946" width="45" height="18" fill="#f0ead0"/>
<rect x="1109" y="946" width="44" height="18" fill="#f6f5f0"/>
<rect x="1153" y="946" width="44" height="18" fill="#f4f1e5"/>
<rect x="1197" y="946" width="45" height="18" fill="#f2edd9"/>
<rect x="1242" y="946" width="44" height="18" fill="#f0ead0"/>
<rect x="1286" y="946" width="44" height="18" fill="#efe6c6"/>
<rect x="1330" y="946" width="45" height="18" fill="#ecdfb3"/>
<rect x="1375" y="946" width="44" height="18" fill="#e9d69a"/>
<rect x="1419" y="946" width="44" height="18" fill="#ead9a2"/>
<rect x="1463" y="946" width="45" height="18" fill="#e7d08a"/>
<rect x="1508" y="946" width="44" height="18" fill="#e5c571"/>
<rect x="1552" y="946" width="44" height="18" fill="#e4ba5c"/>
<rect x="1596" y="946" width="45" height="18" fill="#e3ad46"/>
<rect x="1641" y="946" width="44" height="18" fill="#e39f37"/>
<rect x="1685" y="946" width="45" height="18" fill="#e28e27"/>
<rect x="1730" y="946" width="44" height="18" fill="#de7c1e"/>
<rect x="1774" y="946" width="44" height="18" fill="#dd731a"/>
<rect x="1818" y="946" width="45" height="18" fill="#db6716"/>
<rect x="1863" y="946" width="44" height="18" fill="#d65113"/>
<rect x="1907" y="946" width="44" height="18" fill="#ce4819"/>
<rect x="1951" y="946" width="45" height="18" fill="#c13d22"/>
<rect x="1996" y="946" width="44" height="18" fill="#af2f2d"/>
<rect x="2040" y="946" width="44" height="18" fill="#a62c33"/>
<rect x="2084" y="946" width="45" height="18" fill="#95253e"/>
<rect x="2129" y="946" width="44" height="18" fill="#7d1f4e"/>
<rect x="310" y="964" width="45" height="19" fill="#912441"/>
<rect x="355" y="964" width="44" height="19" fill="#9e2938"/>
<rect x="399" y="964" width="44" height="19" fill="#a62c33"/>
<rect x="443" y="964" width="45" height="19" fill="#af2f2d"/>
<rect x="488" y="964" width="44" height="19" fill="#bd3a24"/>
<rect x="532" y="964" width="44" height="19" fill="#ce4819"/>
<rect x="576" y="964" width="45" height="19" fill="#d85813"/>
<rect x="621" y="964" width="44" height="19" fill="#db6716"/>
<rect x="665" y="964" width="45" height="19" fill="#de771c"/>
<rect x="710" y="964" width="44" height="19" fill="#e18824"/>
<rect x="754" y="964" width="44" height="19" fill="#e29129"/>
<rect x="798" y="964" width="45" height="19" fill="#e39f37"/>
<rect x="843" y="964" width="44" height="19" fill="#e3a840"/>
<rect x="887" y="964" width="44" height="19" fill="#e3b553"/>
<rect x="931" y="964" width="45" height="19" fill="#e4c066"/>
<rect x="976" y="964" width="44" height="19" fill="#e5c877"/>
<rect x="1020" y="964" width="44" height="19" fill="#e9d69a"/>
<rect x="1064" y="964" width="45" height="19" fill="#ecdfb3"/>
<rect x="1109" y="964" width="44" height="19" fill="#f2edd9"/>
<rect x="1153" y="964" width="44" height="19" fill="#f2edd9"/>
<rect x="1197" y="964" width="45" height="19" fill="#f2edd9"/>
<rect x="1242" y="964" width="44" height="19" fill="#f2edd9"/>
<rect x="1286" y="964" width="44" height="19" fill="#f0ead0"/>
<rect x="1330" y="964" width="45" height="19" fill="#f0ead0"/>
<rect x="1375" y="964" width="44" height="19" fill="#f0ead0"/>
<rect x="1419" y="964" width="44" height="19" fill="#f2edd9"/>
<rect x="1463" y="964" width="45" height="19" fill="#f0ead0"/>
<rect x="1508" y="964" width="44" height="19" fill="#ecdfb3"/>
<rect x="1552" y="964" width="44" height="19" fill="#e7d08a"/>
<rect x="1596" y="964" width="45" height="19" fill="#e5c571"/>
<rect x="1641" y="964" width="44" height="19" fill="#e4bd61"/>
<rect x="1685" y="964" width="45" height="19" fill="#e3af49"/>
<rect x="1730" y="964" width="44" height="19" fill="#e3a23a"/>
<rect x="1774" y="964" width="44" height="19" fill="#e29830"/>
<rect x="1818" y="964" width="45" height="19" fill="#e28e27"/>
<rect x="1863" y="964" width="44" height="19" fill="#de7c1e"/>
<rect x="1907" y="964" width="44" height="19" fill="#dd731a"/>
<rect x="1951" y="964" width="45" height="19" fill="#db6716"/>
<rect x="1996" y="964" width="44" height="19" fill="#d75412"/>
<rect x="2040" y="964" width="44" height="19" fill="#cc461b"/>
<rect x="2084" y="964" width="45" height="19" fill="#bd3a24"/>
<rect x="2129" y="964" width="44" height="19" fill="#aa2e30"/>
<rect x="310" y="983" width="45" height="18" fill="#7d1f4e"/>
<rect x="355" y="983" width="44" height="18" fill="#912441"/>
<rect x="399" y="983" width="44" height="18" fill="#99273b"/>
<rect x="443" y="983" width="45" height="18" fill="#a62c33"/>
<rect x="488" y="983" width="44" height="18" fill="#af2f2d"/>
<rect x="532" y="983" width="44" height="18" fill="#c13d22"/>
<rect x="576" y="983" width="45" height="18" fill="#ce4819"/>
<rect x="621" y="983" width="44" height="18" fill="#d75412"/>
<rect x="665" y="983" width="45" height="18" fill="#dc6e18"/>
<rect x="710" y="983" width="44" height="18" fill="#de771c"/>
<rect x="754" y="983" width="44" height="18" fill="#e18824"/>
<rect x="798" y="983" width="45" height="18" fill="#e29129"/>
<rect x="843" y="983" width="44" height="18" fill="#e39f37"/>
<rect x="887" y="983" width="44" height="18" fill="#e3a840"/>
<rect x="931" y="983" width="45" height="18" fill="#e3b553"/>
<rect x="976" y="983" width="44" height="18" fill="#e4c066"/>
<rect x="1020" y="983" width="44" height="18" fill="#e5c877"/>
<rect x="1064" y="983" width="45" height="18" fill="#e9d69a"/>
<rect x="1109" y="983" width="44" height="18" fill="#ecdfb3"/>
<rect x="1153" y="983" width="44" height="18" fill="#ecdfb3"/>
<rect x="1197" y="983" width="45" height="18" fill="#eee3bd"/>
<rect x="1242" y="983" width="44" height="18" fill="#f0ead0"/>
<rect x="1286" y="983" width="44" height="18" fill="#f0ead0"/>
<rect x="1330" y="983" width="45" height="18" fill="#f2edd9"/>
<rect x="1375" y="983" width="44" height="18" fill="#f3efe0"/>
<rect x="1419" y="983" width="44" height="18" fill="#f3efe0"/>
<rect x="1463" y="983" width="45" height="18" fill="#f5f3eb"/>
<rect x="1508" y="983" width="44" height="18" fill="#f0ead0"/>
<rect x="1552" y="983" width="44" height="18" fill="#ecdfb3"/>
<rect x="1596" y="983" width="45" height="18" fill="#e7d08a"/>
<rect x="1641" y="983" width="44" height="18" fill="#e5c877"/>
<rect x="1685" y="983" width="45" height="18" fill="#e4c066"/>
<rect x="1730" y="983" width="44" height="18" fill="#e3b553"/>
<rect x="1774" y="983" width="44" height="18" fill="#e3af49"/>
<rect x="1818" y="983" width="45" height="18" fill="#e3a23a"/>
<rect x="1863" y="983" width="44" height="18" fill="#e29830"/>
<rect x="1907" y="983" width="44" height="18" fill="#e28e27"/>
<rect x="1951" y="983" width="45" height="18" fill="#e08522"/>
<rect x="1996" y="983" width="44" height="18" fill="#dd731a"/>
<rect x="2040" y="983" width="44" height="18" fill="#db6716"/>
<rect x="2084" y="983" width="45" height="18" fill="#d44f14"/>
<rect x="2129" y="983" width="44" height="18" fill="#c8421e"/>
<rect x="310" y="1001" width="45" height="18" fill="#a62c33"/>
<rect x="355" y="1001" width="44" height="18" fill="#af2f2d"/>
<rect x="399" y="1001" width="44" height="18" fill="#bd3a24"/>
<rect x="443" y="1001" width="45" height="18" fill="#c8421e"/>
<rect x="488" y="1001" width="44" height="18" fill="#d44f14"/>
<rect x="532" y="1001" width="44" height="18" fill="#d85813"/>
<rect x="576" y="1001" width="45" height="18" fill="#dc6e18"/>
<rect x="621" y="1001" width="44" height="18" fill="#de771c"/>
<rect x="665" y="1001" width="45" height="18" fill="#e18824"/>
<rect x="710" y="1001" width="44" height="18" fill="#e29830"/>
<rect x="754" y="1001" width="44" height="18" fill="#e3a23a"/>
<rect x="798" y="1001" width="45" height="18" fill="#e3a840"/>
<rect x="843" y="1001" width="44" height="18" fill="#e3b24e"/>
<rect x="887" y="1001" width="44" height="18" fill="#e4c066"/>
<rect x="931" y="1001" width="45" height="18" fill="#e5c571"/>
<rect x="976" y="1001" width="44" height="18" fill="#e7d08a"/>
<rect x="1020" y="1001" width="44" height="18" fill="#ead9a2"/>
<rect x="1064" y="1001" width="45" height="18" fill="#eee3bd"/>
<rect x="1109" y="1001" width="44" height="18" fill="#f2edd9"/>
<rect x="1153" y="1001" width="44" height="18" fill="#f2edd9"/>
<rect x="1197" y="1001" width="45" height="18" fill="#f2edd9"/>
<rect x="1242" y="1001" width="44" height="18" fill="#f2edd9"/>
<rect x="1286" y="1001" width="44" height="18" fill="#f2edd9"/>
<rect x="1330" y="1001" width="45" height="18" fill="#f2edd9"/>
<rect x="1375" y="1001" width="44" height="18" fill="#f2edd9"/>
<rect x="1419" y="1001" width="44" height="18" fill="#f2edd9"/>
<rect x="1463" y="1001" width="45" height="18" fill="#f0ead0"/>
<rect x="1508" y="1001" width="44" height="18" fill="#ecdfb3"/>
<rect x="1552" y="1001" width="44" height="18" fill="#e9d69a"/>
<rect x="1596" y="1001" width="45" height="18" fill="#e5c877"/>
<rect x="1641" y="1001" width="44" height="18" fill="#e4c066"/>
<rect x="1685" y="1001" width="45" height="18" fill="#e3b553"/>
<rect x="1730" y="1001" width="44" height="18" fill="#e3af49"/>
<rect x="1774" y="1001" width="44" height="18" fill="#e3a840"/>
<rect x="1818" y="1001" width="45" height="18" fill="#e39c34"/>
<rect x="1863" y="1001" width="44" height="18" fill="#e28e27"/>
<rect x="1907" y="1001" width="44" height="18" fill="#de7c1e"/>
<rect x="1951" y="1001" width="45" height="18" fill="#dd731a"/>
<rect x="1996" y="1001" width="44" height="18" fill="#db6716"/>
<rect x="2040" y="1001" width="44" height="18" fill="#d75412"/>
<rect x="2084" y="1001" width="45" height="18" fill="#ce4819"/>
<rect x="2129" y="1001" width="44" height="18" fill="#c13d22"/>
<rect x="310" y="1019" width="45" height="19" fill="#c43f20"/>
<rect x="355" y="1019" width="44" height="19" fill="#ce4819"/>
<rect x="399" y="1019" width="44" height="19" fill="#d65113"/>
<rect x="443" y="1019" width="45" height="19" fill="#d95f15"/>
<rect x="488" y="1019" width="44" height="19" fill="#dc6e18"/>
<rect x="532" y="1019" width="44" height="19" fill="#de771c"/>
<rect x="576" y="1019" width="45" height="19" fill="#e18824"/>
<rect x="621" y="1019" width="44" height="19" fill="#e29129"/>
<rect x="665" y="1019" width="45" height="19" fill="#e3a23a"/>
<rect x="710" y="1019" width="44" height="19" fill="#e3af49"/>
<rect x="754" y="1019" width="44" height="19" fill="#e3b553"/>
<rect x="798" y="1019" width="45" height="19" fill="#e4bd61"/>
<rect x="843" y="1019" width="44" height="19" fill="#e5c571"/>
<rect x="887" y="1019" width="44" height="19" fill="#e7d08a"/>
<rect x="931" y="1019" width="45" height="19" fill="#e9d69a"/>
<rect x="976" y="1019" width="44" height="19" fill="#ead9a2"/>
<rect x="1020" y="1019" width="44" height="19" fill="#eee3bd"/>
<rect x="1064" y="1019" width="45" height="19" fill="#f2edd9"/>
<rect x="1109" y="1019" width="44" height="19" fill="#f6f5f0"/>
<rect x="1153" y="1019" width="44" height="19" fill="#f4f1e5"/>
<rect x="1197" y="1019" width="45" height="19" fill="#f2edd9"/>
<rect x="1242" y="1019" width="44" height="19" fill="#f2edd9"/>
<rect x="1286" y="1019" width="44" height="19" fill="#efe6c6"/>
<rect x="1330" y="1019" width="45" height="19" fill="#eee3bd"/>
<rect x="1375" y="1019" width="44" height="19" fill="#ecdfb3"/>
<rect x="1419" y="1019" width="44" height="19" fill="#ecdfb3"/>
<rect x="1463" y="1019" width="45" height="19" fill="#ead9a2"/>
<rect x="1508" y="1019" width="44" height="19" fill="#e9d69a"/>
<rect x="1552" y="1019" width="44" height="19" fill="#e5c877"/>
<rect x="1596" y="1019" width="45" height="19" fill="#e4c066"/>
<rect x="1641" y="1019" width="44" height="19" fill="#e3b553"/>
<rect x="1685" y="1019" width="45" height="19" fill="#e3ad46"/>
<rect x="1730" y="1019" width="44" height="19" fill="#e3a23a"/>
<rect x="1774" y="1019" width="44" height="19" fill="#e29830"/>
<rect x="1818" y="1019" width="45" height="19" fill="#e28e27"/>
<rect x="1863" y="1019" width="44" height="19" fill="#de7c1e"/>
<rect x="1907" y="1019" width="44" height="19" fill="#dd731a"/>
<rect x="1951" y="1019" width="45" height="19" fill="#db6716"/>
<rect x="1996" y="1019" width="44" height="19" fill="#d75412"/>
<rect x="2040" y="1019" width="44" height="19" fill="#ce4819"/>
<rect x="2084" y="1019" width="45" height="19" fill="#c13d22"/>
<rect x="2129" y="1019" width="44" height="19" fill="#af2f2d"/>
<rect x="310" y="1038" width="45" height="18" fill="#ce4819"/>
<rect x="355" y="1038" width="44" height="18" fill="#d75412"/>
<rect x="399" y="1038" width="44" height="18" fill="#db6716"/>
<rect x="443" y="1038" width="45" height="18" fill="#dd731a"/>
<rect x="488" y="1038" width="44" height="18" fill="#de771c"/>
<rect x="532" y="1038" width="44" height="18" fill="#e18824"/>
<rect x="576" y="1038" width="45" height="18" fill="#e29129"/>
<rect x="621" y="1038" width="44" height="18" fill="#e39f37"/>
<rect x="665" y="1038" width="45" height="18" fill="#e3a840"/>
<rect x="710" y="1038" width="44" height="18" fill="#e3b553"/>
<rect x="754" y="1038" width="44" height="18" fill="#e4bd61"/>
<rect x="798" y="1038" width="45" height="18" fill="#e5c571"/>
<rect x="843" y="1038" width="44" height="18" fill="#e5c877"/>
<rect x="887" y="1038" width="44" height="18" fill="#e7d08a"/>
<rect x="931" y="1038" width="45" height="18" fill="#e9d69a"/>
<rect x="976" y="1038" width="44" height="18" fill="#ecdfb3"/>
<rect x="1020" y="1038" width="44" height="18" fill="#eee3bd"/>
<rect x="1064" y="1038" width="45" height="18" fill="#f2edd9"/>
<rect x="1109" y="1038" width="44" height="18" fill="#f4f1e5"/>
<rect x="1153" y="1038" width="44" height="18" fill="#f4f1e5"/>
<rect x="1197" y="1038" width="45" height="18" fill="#f2edd9"/>
<rect x="1242" y="1038" width="44" height="18" fill="#f2edd9"/>
<rect x="1286" y="1038" width="44" height="18" fill="#f2edd9"/>
<rect x="1330" y="1038" width="45" height="18" fill="#f0ead0"/>
<rect x="1375" y="1038" width="44" height="18" fill="#efe6c6"/>
<rect x="1419" y="1038" width="44" height="18" fill="#efe6c6"/>
<rect x="1463" y="1038" width="45" height="18" fill="#ead9a2"/>
<rect x="1508" y="1038" width="44" height="18" fill="#e9d69a"/>
<rect x="1552" y="1038" width="44" height="18" fill="#e7d08a"/>
<rect x="1596" y="1038" width="45" height="18" fill="#e5c877"/>
<rect x="1641" y="1038" width="44" height="18" fill="#e4c066"/>
<rect x="1685" y="1038" width="45" height="18" fill="#e3b553"/>
<rect x="1730" y="1038" width="44" height="18" fill="#e3af49"/>
<rect x="1774" y="1038" width="44" height="18" fill="#e3a840"/>
<rect x="1818" y="1038" width="45" height="18" fill="#e39f37"/>
<rect x="1863" y="1038" width="44" height="18" fill="#e29830"/>
<rect x="1907" y="1038" width="44" height="18" fill="#e18824"/>
<rect x="1951" y="1038" width="45" height="18" fill="#de7c1e"/>
<rect x="1996" y="1038" width="44" height="18" fill="#dd731a"/>
<rect x="2040" y="1038" width="44" height="18" fill="#db6716"/>
<rect x="2084" y="1038" width="45" height="18" fill="#d75412"/>
<rect x="2129" y="1038" width="44" height="18" fill="#ce4819"/>
<rect x="310" y="1056" width="45" height="18" fill="#db6716"/>
<rect x="355" y="1056" width="44" height="18" fill="#dd731a"/>
<rect x="399" y="1056" width="44" height="18" fill="#de771c"/>
<rect x="443" y="1056" width="45" height="18" fill="#e08522"/>
<rect x="488" y="1056" width="44" height="18" fill="#e18b25"/>
<rect x="532" y="1056" width="44" height="18" fill="#e29129"/>
<rect x="576" y="1056" width="45" height="18" fill="#e3a23a"/>
<rect x="621" y="1056" width="44" height="18" fill="#e3a840"/>
<rect x="665" y="1056" width="45" height="18" fill="#e3af49"/>
<rect x="710" y="1056" width="44" height="18" fill="#e4bd61"/>
<rect x="754" y="1056" width="44" height="18" fill="#e5c571"/>
<rect x="798" y="1056" width="45" height="18" fill="#e6cd82"/>
<rect x="843" y="1056" width="44" height="18" fill="#e9d69a"/>
<rect x="887" y="1056" width="44" height="18" fill="#ebdcaa"/>
<rect x="931" y="1056" width="45" height="18" fill="#e9d69a"/>
<rect x="976" y="1056" width="44" height="18" fill="#ecdfb3"/>
<rect x="1020" y="1056" width="44" height="18" fill="#f2edd9"/>
<rect x="1064" y="1056" width="45" height="18" fill="#f3efe0"/>
<rect x="1109" y="1056" width="44" height="18" fill="#f6f5f0"/>
<rect x="1153" y="1056" width="44" height="18" fill="#f4f1e5"/>
<rect x="1197" y="1056" width="45" height="18" fill="#f5f3eb"/>
<rect x="1242" y="1056" width="44" height="18" fill="#f2edd9"/>
<rect x="1286" y="1056" width="44" height="18" fill="#f2edd9"/>
<rect x="1330" y="1056" width="45" height="18" fill="#f0ead0"/>
<rect x="1375" y="1056" width="44" height="18" fill="#f0ead0"/>
<rect x="1419" y="1056" width="44" height="18" fill="#efe6c6"/>
<rect x="1463" y="1056" width="45" height="18" fill="#eee3bd"/>
<rect x="1508" y="1056" width="44" height="18" fill="#e9d69a"/>
<rect x="1552" y="1056" width="44" height="18" fill="#e7d08a"/>
<rect x="1596" y="1056" width="45" height="18" fill="#e5c877"/>
<rect x="1641" y="1056" width="44" height="18" fill="#e4c066"/>
<rect x="1685" y="1056" width="45" height="18" fill="#e4ba5c"/>
<rect x="1730" y="1056" width="44" height="18" fill="#e3af49"/>
<rect x="1774" y="1056" width="44" height="18" fill="#e3a840"/>
<rect x="1818" y="1056" width="45" height="18" fill="#e39f37"/>
<rect x="1863" y="1056" width="44" height="18" fill="#e29830"/>
<rect x="1907" y="1056" width="44" height="18" fill="#e18824"/>
<rect x="1951" y="1056" width="45" height="18" fill="#e08522"/>
<rect x="1996" y="1056" width="44" height="18" fill="#de771c"/>
<rect x="2040" y="1056" width="44" height="18" fill="#dc6e18"/>
<rect x="2084" y="1056" width="45" height="18" fill="#da6316"/>
<rect x="2129" y="1056" width="44" height="18" fill="#d65113"/>
<rect x="310" y="1074" width="45" height="18" fill="#de7c1e"/>
<rect x="355" y="1074" width="44" height="18" fill="#e18824"/>
<rect x="399" y="1074" width="44" height="18" fill="#e29129"/>
<rect x="443" y="1074" width="45" height="18" fill="#e29830"/>
<rect x="488" y="1074" width="44" height="18" fill="#e3a23a"/>
<rect x="532" y="1074" width="44" height="18" fill="#e3a840"/>
<rect x="576" y="1074" width="45" height="18" fill="#e3b553"/>
<rect x="621" y="1074" width="44" height="18" fill="#e4bd61"/>
<rect x="665" y="1074" width="45" height="18" fill="#e4c36c"/>
<rect x="710" y="1074" width="44" height="18" fill="#e5c877"/>
<rect x="754" y="1074" width="44" height="18" fill="#e9d69a"/>
<rect x="798" y="1074" width="45" height="18" fill="#ecdfb3"/>
<rect x="843" y="1074" width="44" height="18" fill="#ecdfb3"/>
<rect x="887" y="1074" width="44" height="18" fill="#f0ead0"/>
<rect x="931" y="1074" width="45" height="18" fill="#eee3bd"/>
<rect x="976" y="1074" width="44" height="18" fill="#f0ead0"/>
<rect x="1020" y="1074" width="44" height="18" fill="#f2edd9"/>
<rect x="1064" y="1074" width="45" height="18" fill="#f5f3eb"/>
<rect x="1109" y="1074" width="44" height="18" fill="#f6f5f0"/>
<rect x="1153" y="1074" width="44" height="18" fill="#f4f1e5"/>
<rect x="1197" y="1074" width="45" height="18" fill="#f2edd9"/>
<rect x="1242" y="1074" width="44" height="18" fill="#f2edd9"/>
<rect x="1286" y="1074" width="44" height="18" fill="#f0ead0"/>
<rect x="1330" y="1074" width="45" height="18" fill="#eee3bd"/>
<rect x="1375" y="1074" width="44" height="18" fill="#ecdfb3"/>
<rect x="1419" y="1074" width="44" height="18" fill="#ecdfb3"/>
<rect x="1463" y="1074" width="45" height="18" fill="#ead9a2"/>
<rect x="1508" y="1074" width="44" height="18" fill="#e9d69a"/>
<rect x="1552" y="1074" width="44" height="18" fill="#e5c571"/>
<rect x="1596" y="1074" width="45" height="18" fill="#e4bd61"/>
<rect x="1641" y="1074" width="44" height="18" fill="#e3b553"/>
<rect x="1685" y="1074" width="45" height="18" fill="#e3ad46"/>
<rect x="1730" y="1074" width="44" height="18" fill="#e3a23a"/>
<rect x="1774" y="1074" width="44" height="18" fill="#e29830"/>
<rect x="1818" y="1074" width="45" height="18" fill="#e28e27"/>
<rect x="1863" y="1074" width="44" height="18" fill="#e08522"/>
<rect x="1907" y="1074" width="44" height="18" fill="#de7c1e"/>
<rect x="1951" y="1074" width="45" height="18" fill="#dd731a"/>
<rect x="1996" y="1074" width="44" height="18" fill="#dc6e18"/>
<rect x="2040" y="1074" width="44" height="18" fill="#da6316"/>
<rect x="2084" y="1074" width="45" height="18" fill="#d65113"/>
<rect x="2129" y="1074" width="44" height="18" fill="#ce4819"/>
<rect x="310" y="1092" width="45" height="19" fill="#de7c1e"/>
<rect x="355" y="1092" width="44" height="19" fill="#e18824"/>
<rect x="399" y="1092" width="44" height="19" fill="#e28e27"/>
<rect x="443" y="1092" width="45" height="19" fill="#e29830"/>
<rect x="488" y="1092" width="44" height="19" fill="#e3a23a"/>
<rect x="532" y="1092" width="44" height="19" fill="#e3a840"/>
<rect x="576" y="1092" width="45" height="19" fill="#e3af49"/>
<rect x="621" y="1092" width="44" height="19" fill="#e4bd61"/>
<rect x="665" y="1092" width="45" height="19" fill="#e4c36c"/>
<rect x="710" y="1092" width="44" height="19" fill="#e5c877"/>
<rect x="754" y="1092" width="44" height="19" fill="#e7d08a"/>
<rect x="798" y="1092" width="45" height="19" fill="#e9d69a"/>
<rect x="843" y="1092" width="44" height="19" fill="#ebdcaa"/>
<rect x="887" y="1092" width="44" height="19" fill="#eee3bd"/>
<rect x="931" y="1092" width="45" height="19" fill="#ecdfb3"/>
<rect x="976" y="1092" width="44" height="19" fill="#efe6c6"/>
<rect x="1020" y="1092" width="44" height="19" fill="#f2edd9"/>
<rect x="1064" y="1092" width="45" height="19" fill="#f3efe0"/>
<rect x="1109" y="1092" width="44" height="19" fill="#f5f3eb"/>
<rect x="1153" y="1092" width="44" height="19" fill="#f4f1e5"/>
<rect x="1197" y="1092" width="45" height="19" fill="#f2edd9"/>
<rect x="1242" y="1092" width="44" height="19" fill="#f2edd9"/>
<rect x="1286" y="1092" width="44" height="19" fill="#f0ead0"/>
<rect x="1330" y="1092" width="45" height="19" fill="#efe6c6"/>
<rect x="1375" y="1092" width="44" height="19" fill="#eee3bd"/>
<rect x="1419" y="1092" width="44" height="19" fill="#eee3bd"/>
<rect x="1463" y="1092" width="45" height="19" fill="#ecdfb3"/>
<rect x="1508" y="1092" width="44" height="19" fill="#ead9a2"/>
<rect x="1552" y="1092" width="44" height="19" fill="#e7d08a"/>
<rect x="1596" y="1092" width="45" height="19" fill="#e5c877"/>
<rect x="1641" y="1092" width="44" height="19" fill="#e4c066"/>
<rect x="1685" y="1092" width="45" height="19" fill="#e4ba5c"/>
<rect x="1730" y="1092" width="44" height="19" fill="#e3af49"/>
<rect x="1774" y="1092" width="44" height="19" fill="#e3a840"/>
<rect x="1818" y="1092" width="45" height="19" fill="#e39f37"/>
<rect x="1863" y="1092" width="44" height="19" fill="#e29830"/>
<rect x="1907" y="1092" width="44" height="19" fill="#e28e27"/>
<rect x="1951" y="1092" width="45" height="19" fill="#e18824"/>
<rect x="1996" y="1092" width="44" height="19" fill="#de7c1e"/>
<rect x="2040" y="1092" width="44" height="19" fill="#dd731a"/>
<rect x="2084" y="1092" width="45" height="19" fill="#dc6e18"/>
<rect x="2129" y="1092" width="44" height="19" fill="#d95f15"/>
<rect x="310" y="1111" width="45" height="18" fill="#c8421e"/>
<rect x="355" y="1111" width="44" height="18" fill="#cc461b"/>
<rect x="399" y="1111" width="44" height="18" fill="#d44f14"/>
<rect x="443" y="1111" width="45" height="18" fill="#d85813"/>
<rect x="488" y="1111" width="44" height="18" fill="#db6716"/>
<rect x="532" y="1111" width="44" height="18" fill="#dd731a"/>
<rect x="576" y="1111" width="45" height="18" fill="#de7c1e"/>
<rect x="621" y="1111" width="44" height="18" fill="#e08522"/>
<rect x="665" y="1111" width="45" height="18" fill="#e28e27"/>
<rect x="710" y="1111" width="44" height="18" fill="#e29830"/>
<rect x="754" y="1111" width="44" height="18" fill="#e3a23a"/>
<rect x="798" y="1111" width="45" height="18" fill="#e3a840"/>
<rect x="843" y="1111" width="44" height="18" fill="#e3af49"/>
<rect x="887" y="1111" width="44" height="18" fill="#e4bd61"/>
<rect x="931" y="1111" width="45" height="18" fill="#e4bd61"/>
<rect x="976" y="1111" width="44" height="18" fill="#e5c571"/>
<rect x="1020" y="1111" width="44" height="18" fill="#e7d08a"/>
<rect x="1064" y="1111" width="45" height="18" fill="#e9d69a"/>
<rect x="1109" y="1111" width="44" height="18" fill="#ead9a2"/>
<rect x="1153" y="1111" width="44" height="18" fill="#ecdfb3"/>
<rect x="1197" y="1111" width="45" height="18" fill="#ecdfb3"/>
<rect x="1242" y="1111" width="44" height="18" fill="#eee3bd"/>
<rect x="1286" y="1111" width="44" height="18" fill="#efe6c6"/>
<rect x="1330" y="1111" width="45" height="18" fill="#efe6c6"/>
<rect x="1375" y="1111" width="44" height="18" fill="#f0ead0"/>
<rect x="1419" y="1111" width="44" height="18" fill="#f3efe0"/>
<rect x="1463" y="1111" width="45" height="18" fill="#f3efe0"/>
<rect x="1508" y="1111" width="44" height="18" fill="#f0ead0"/>
<rect x="1552" y="1111" width="44" height="18" fill="#efe6c6"/>
<rect x="1596" y="1111" width="45" height="18" fill="#ecdfb3"/>
<rect x="1641" y="1111" width="44" height="18" fill="#ead9a2"/>
<rect x="1685" y="1111" width="45" height="18" fill="#e9d69a"/>
<rect x="1730" y="1111" width="44" height="18" fill="#e9d69a"/>
<rect x="1774" y="1111" width="44" height="18" fill="#e7d08a"/>
<rect x="1818" y="1111" width="45" height="18" fill="#e5c877"/>
<rect x="1863" y="1111" width="44" height="18" fill="#e4c36c"/>
<rect x="1907" y="1111" width="44" height="18" fill="#e4bd61"/>
<rect x="1951" y="1111" width="45" height="18" fill="#e3b553"/>
<rect x="1996" y="1111" width="44" height="18" fill="#e3af49"/>
<rect x="2040" y="1111" width="44" height="18" fill="#e3a840"/>
<rect x="2084" y="1111" width="45" height="18" fill="#e3a23a"/>
<rect x="2129" y="1111" width="44" height="18" fill="#e29830"/>
<rect x="310" y="1129" width="45" height="18" fill="#cc461b"/>
<rect x="355" y="1129" width="44" height="18" fill="#d44f14"/>
<rect x="399" y="1129" width="44" height="18" fill="#d85813"/>
<rect x="443" y="1129" width="45" height="18" fill="#db6716"/>
<rect x="488" y="1129" width="44" height="18" fill="#dd731a"/>
<rect x="532" y="1129" width="44" height="18" fill="#de771c"/>
<rect x="576" y="1129" width="45" height="18" fill="#de7c1e"/>
<rect x="621" y="1129" width="44" height="18" fill="#e08522"/>
<rect x="665" y="1129" width="45" height="18" fill="#e28e27"/>
<rect x="710" y="1129" width="44" height="18" fill="#e29830"/>
<rect x="754" y="1129" width="44" height="18" fill="#e3a23a"/>
<rect x="798" y="1129" width="45" height="18" fill="#e3a840"/>
<rect x="843" y="1129" width="44" height="18" fill="#e3af49"/>
<rect x="887" y="1129" width="44" height="18" fill="#e3b553"/>
<rect x="931" y="1129" width="45" height="18" fill="#e3b553"/>
<rect x="976" y="1129" width="44" height="18" fill="#e4bd61"/>
<rect x="1020" y="1129" width="44" height="18" fill="#e4c36c"/>
<rect x="1064" y="1129" width="45" height="18" fill="#e5c877"/>
<rect x="1109" y="1129" width="44" height="18" fill="#e7d08a"/>
<rect x="1153" y="1129" width="44" height="18" fill="#e9d69a"/>
<rect x="1197" y="1129" width="45" height="18" fill="#e9d69a"/>
<rect x="1242" y="1129" width="44" height="18" fill="#e9d69a"/>
<rect x="1286" y="1129" width="44" height="18" fill="#ead9a2"/>
<rect x="1330" y="1129" width="45" height="18" fill="#ecdfb3"/>
<rect x="1375" y="1129" width="44" height="18" fill="#eee3bd"/>
<rect x="1419" y="1129" width="44" height="18" fill="#efe6c6"/>
<rect x="1463" y="1129" width="45" height="18" fill="#efe6c6"/>
<rect x="1508" y="1129" width="44" height="18" fill="#efe6c6"/>
<rect x="1552" y="1129" width="44" height="18" fill="#eee3bd"/>
<rect x="1596" y="1129" width="45" height="18" fill="#ebdcaa"/>
<rect x="1641" y="1129" width="44" height="18" fill="#e9d69a"/>
<rect x="1685" y="1129" width="45" height="18" fill="#e9d69a"/>
<rect x="1730" y="1129" width="44" height="18" fill="#e7d08a"/>
<rect x="1774" y="1129" width="44" height="18" fill="#e7d08a"/>
<rect x="1818" y="1129" width="45" height="18" fill="#e5c877"/>
<rect x="1863" y="1129" width="44" height="18" fill="#e4c36c"/>
<rect x="1907" y="1129" width="44" height="18" fill="#e4c066"/>
<rect x="1951" y="1129" width="45" height="18" fill="#e4bd61"/>
<rect x="1996" y="1129" width="44" height="18" fill="#e3b553"/>
<rect x="2040" y="1129" width="44" height="18" fill="#e3af49"/>
<rect x="2084" y="1129" width="45" height="18" fill="#e3ad46"/>
<rect x="2129" y="1129" width="44" height="18" fill="#e3a23a"/>
<rect x="310" y="1147" width="45" height="18" fill="#de7c1e"/>
<rect x="355" y="1147" width="44" height="18" fill="#e18824"/>
<rect x="399" y="1147" width="44" height="18" fill="#e28e27"/>
<rect x="443" y="1147" width="45" height="18" fill="#e29830"/>
<rect x="488" y="1147" width="44" height="18" fill="#e39f37"/>
<rect x="532" y="1147" width="44" height="18" fill="#e3a23a"/>
<rect x="576" y="1147" width="45" height="18" fill="#e3a840"/>
<rect x="621" y="1147" width="44" height="18" fill="#e3af49"/>
<rect x="665" y="1147" width="45" height="18" fill="#e3b24e"/>
<rect x="710" y="1147" width="44" height="18" fill="#e4ba5c"/>
<rect x="754" y="1147" width="44" height="18" fill="#e4bd61"/>
<rect x="798" y="1147" width="45" height="18" fill="#e4bd61"/>
<rect x="843" y="1147" width="44" height="18" fill="#e4c36c"/>
<rect x="887" y="1147" width="44" height="18" fill="#e5c877"/>
<rect x="931" y="1147" width="45" height="18" fill="#e4c36c"/>
<rect x="976" y="1147" width="44" height="18" fill="#e5c877"/>
<rect x="1020" y="1147" width="44" height="18" fill="#e5c877"/>
<rect x="1064" y="1147" width="45" height="18" fill="#e7d08a"/>
<rect x="1109" y="1147" width="44" height="18" fill="#e9d69a"/>
<rect x="1153" y="1147" width="44" height="18" fill="#e7d08a"/>
<rect x="1197" y="1147" width="45" height="18" fill="#e7d08a"/>
<rect x="1242" y="1147" width="44" height="18" fill="#e7d08a"/>
<rect x="1286" y="1147" width="44" height="18" fill="#e5c877"/>
<rect x="1330" y="1147" width="45" height="18" fill="#e5c877"/>
<rect x="1375" y="1147" width="44" height="18" fill="#e5c877"/>
<rect x="1419" y="1147" width="44" height="18" fill="#e5c877"/>
<rect x="1463" y="1147" width="45" height="18" fill="#e5c877"/>
<rect x="1508" y="1147" width="44" height="18" fill="#e5c877"/>
<rect x="1552" y="1147" width="44" height="18" fill="#e4c066"/>
<rect x="1596" y="1147" width="45" height="18" fill="#e4ba5c"/>
<rect x="1641" y="1147" width="44" height="18" fill="#e3b553"/>
<rect x="1685" y="1147" width="45" height="18" fill="#e3af49"/>
<rect x="1730" y="1147" width="44" height="18" fill="#e3ad46"/>
<rect x="1774" y="1147" width="44" height="18" fill="#e3a840"/>
<rect x="1818" y="1147" width="45" height="18" fill="#e3a23a"/>
<rect x="1863" y="1147" width="44" height="18" fill="#e39f37"/>
<rect x="1907" y="1147" width="44" height="18" fill="#e29830"/>
<rect x="1951" y="1147" width="45" height="18" fill="#e29129"/>
<rect x="1996" y="1147" width="44" height="18" fill="#e18824"/>
<rect x="2040" y="1147" width="44" height="18" fill="#e08522"/>
<rect x="2084" y="1147" width="45" height="18" fill="#de7c1e"/>
<rect x="2129" y="1147" width="44" height="18" fill="#dd731a"/>
<rect x="310" y="1165" width="45" height="19" fill="#d65113"/>
<rect x="355" y="1165" width="44" height="19" fill="#d75412"/>
<rect x="399" y="1165" width="44" height="19" fill="#d95f15"/>
<rect x="443" y="1165" width="45" height="19" fill="#db6716"/>
<rect x="488" y="1165" width="44" height="19" fill="#dc6e18"/>
<rect x="532" y="1165" width="44" height="19" fill="#dd731a"/>
<rect x="576" y="1165" width="45" height="19" fill="#de771c"/>
<rect x="621" y="1165" width="44" height="19" fill="#de7c1e"/>
<rect x="665" y="1165" width="45" height="19" fill="#e18824"/>
<rect x="710" y="1165" width="44" height="19" fill="#e28e27"/>
<rect x="754" y="1165" width="44" height="19" fill="#e29129"/>
<rect x="798" y="1165" width="45" height="19" fill="#e29830"/>
<rect x="843" y="1165" width="44" height="19" fill="#e39f37"/>
<rect x="887" y="1165" width="44" height="19" fill="#e3a23a"/>
<rect x="931" y="1165" width="45" height="19" fill="#e3a23a"/>
<rect x="976" y="1165" width="44" height="19" fill="#e3a840"/>
<rect x="1020" y="1165" width="44" height="19" fill="#e3a840"/>
<rect x="1064" y="1165" width="45" height="19" fill="#e3af49"/>
<rect x="1109" y="1165" width="44" height="19" fill="#e3af49"/>
<rect x="1153" y="1165" width="44" height="19" fill="#e3af49"/>
<rect x="1197" y="1165" width="45" height="19" fill="#e3af49"/>
<rect x="1242" y="1165" width="44" height="19" fill="#e3af49"/>
<rect x="1286" y="1165" width="44" height="19" fill="#e3ad46"/>
<rect x="1330" y="1165" width="45" height="19" fill="#e3a840"/>
<rect x="1375" y="1165" width="44" height="19" fill="#e3a840"/>
<rect x="1419" y="1165" width="44" height="19" fill="#e3a840"/>
<rect x="1463" y="1165" width="45" height="19" fill="#e3a840"/>
<rect x="1508" y="1165" width="44" height="19" fill="#e3a23a"/>
<rect x="1552" y="1165" width="44" height="19" fill="#e39f37"/>
<rect x="1596" y="1165" width="45" height="19" fill="#e29830"/>
<rect x="1641" y="1165" width="44" height="19" fill="#e29129"/>
<rect x="1685" y="1165" width="45" height="19" fill="#e28e27"/>
<rect x="1730" y="1165" width="44" height="19" fill="#e18824"/>
<rect x="1774" y="1165" width="44" height="19" fill="#e18824"/>
<rect x="1818" y="1165" width="45" height="19" fill="#e08522"/>
<rect x="1863" y="1165" width="44" height="19" fill="#de7c1e"/>
<rect x="1907" y="1165" width="44" height="19" fill="#de7c1e"/>
<rect x="1951" y="1165" width="45" height="19" fill="#dd731a"/>
<rect x="1996" y="1165" width="44" height="19" fill="#dc6e18"/>
<rect x="2040" y="1165" width="44" height="19" fill="#db6716"/>
<rect x="2084" y="1165" width="45" height="19" fill="#da6316"/>
<rect x="2129" y="1165" width="44" height="19" fill="#d85813"/>
<rect x="310" y="1184" width="45" height="18" fill="#912441"/>
<rect x="355" y="1184" width="44" height="18" fill="#95253e"/>
<rect x="399" y="1184" width="44" height="18" fill="#95253e"/>
<rect x="443" y="1184" width="45" height="18" fill="#a62c33"/>
<rect x="488" y="1184" width="44" height="18" fill="#a62c33"/>
<rect x="532" y="1184" width="44" height="18" fill="#af2f2d"/>
<rect x="576" y="1184" width="45" height="18" fill="#af2f2d"/>
<rect x="621" y="1184" width="44" height="18" fill="#b63528"/>
<rect x="665" y="1184" width="45" height="18" fill="#c13d22"/>
<rect x="710" y="1184" width="44" height="18" fill="#c13d22"/>
<rect x="754" y="1184" width="44" height="18" fill="#c8421e"/>
<rect x="798" y="1184" width="45" height="18" fill="#ce4819"/>
<rect x="843" y="1184" width="44" height="18" fill="#ce4819"/>
<rect x="887" y="1184" width="44" height="18" fill="#d75412"/>
<rect x="931" y="1184" width="45" height="18" fill="#dc6e18"/>
<rect x="976" y="1184" width="44" height="18" fill="#dd731a"/>
<rect x="1020" y="1184" width="44" height="18" fill="#dd731a"/>
<rect x="1064" y="1184" width="45" height="18" fill="#dd731a"/>
<rect x="1109" y="1184" width="44" height="18" fill="#de771c"/>
<rect x="1153" y="1184" width="44" height="18" fill="#de771c"/>
<rect x="1197" y="1184" width="45" height="18" fill="#de771c"/>
<rect x="1242" y="1184" width="44" height="18" fill="#de771c"/>
<rect x="1286" y="1184" width="44" height="18" fill="#de7c1e"/>
<rect x="1330" y="1184" width="45" height="18" fill="#de7c1e"/>
<rect x="1375" y="1184" width="44" height="18" fill="#de7c1e"/>
<rect x="1419" y="1184" width="44" height="18" fill="#de7c1e"/>
<rect x="1463" y="1184" width="45" height="18" fill="#de7c1e"/>
<rect x="1508" y="1184" width="44" height="18" fill="#de7c1e"/>
<rect x="1552" y="1184" width="44" height="18" fill="#e18824"/>
<rect x="1596" y="1184" width="45" height="18" fill="#e18824"/>
<rect x="1641" y="1184" width="44" height="18" fill="#e18824"/>
<rect x="1685" y="1184" width="45" height="18" fill="#e18824"/>
<rect x="1730" y="1184" width="44" height="18" fill="#e18824"/>
<rect x="1774" y="1184" width="44" height="18" fill="#e18824"/>
<rect x="1818" y="1184" width="45" height="18" fill="#e18824"/>
<rect x="1863" y="1184" width="44" height="18" fill="#e18824"/>
<rect x="1907" y="1184" width="44" height="18" fill="#e18824"/>
<rect x="1951" y="1184" width="45" height="18" fill="#e18824"/>
<rect x="1996" y="1184" width="44" height="18" fill="#e08522"/>
<rect x="2040" y="1184" width="44" height="18" fill="#df8020"/>
<rect x="2084" y="1184" width="45" height="18" fill="#de7c1e"/>
<rect x="2129" y="1184" width="44" height="18" fill="#de7c1e"/>
<rect x="310" y="1202" width="45" height="18" fill="#9e2938"/>
<rect x="355" y="1202" width="44" height="18" fill="#a22a35"/>
<rect x="399" y="1202" width="44" height="18" fill="#a22a35"/>
<rect x="443" y="1202" width="45" height="18" fill="#aa2e30"/>
<rect x="488" y="1202" width="44" height="18" fill="#aa2e30"/>
<rect x="532" y="1202" width="44" height="18" fill="#b3322b"/>
<rect x="576" y="1202" width="45" height="18" fill="#b3322b"/>
<rect x="621" y="1202" width="44" height="18" fill="#b63528"/>
<rect x="665" y="1202" width="45" height="18" fill="#bd3a24"/>
<rect x="710" y="1202" width="44" height="18" fill="#c13d22"/>
<rect x="754" y="1202" width="44" height="18" fill="#c13d22"/>
<rect x="798" y="1202" width="45" height="18" fill="#c8421e"/>
<rect x="843" y="1202" width="44" height="18" fill="#c8421e"/>
<rect x="887" y="1202" width="44" height="18" fill="#ce4819"/>
<rect x="931" y="1202" width="45" height="18" fill="#d44f14"/>
<rect x="976" y="1202" width="44" height="18" fill="#d65113"/>
<rect x="1020" y="1202" width="44" height="18" fill="#d65113"/>
<rect x="1064" y="1202" width="45" height="18" fill="#d65113"/>
<rect x="1109" y="1202" width="44" height="18" fill="#d75412"/>
<rect x="1153" y="1202" width="44" height="18" fill="#d75412"/>
<rect x="1197" y="1202" width="45" height="18" fill="#d75412"/>
<rect x="1242" y="1202" width="44" height="18" fill="#d75412"/>
<rect x="1286" y="1202" width="44" height="18" fill="#d75412"/>
<rect x="1330" y="1202" width="45" height="18" fill="#d85813"/>
<rect x="1375" y="1202" width="44" height="18" fill="#d85813"/>
<rect x="1419" y="1202" width="44" height="18" fill="#d85813"/>
<rect x="1463" y="1202" width="45" height="18" fill="#d85813"/>
<rect x="1508" y="1202" width="44" height="18" fill="#d85813"/>
<rect x="1552" y="1202" width="44" height="18" fill="#d85813"/>
<rect x="1596" y="1202" width="45" height="18" fill="#d85813"/>
<rect x="1641" y="1202" width="44" height="18" fill="#d85813"/>
<rect x="1685" y="1202" width="45" height="18" fill="#d85813"/>
<rect x="1730" y="1202" width="44" height="18" fill="#d85813"/>
<rect x="1774" y="1202" width="44" height="18" fill="#d75412"/>
<rect x="1818" y="1202" width="45" height="18" fill="#d75412"/>
<rect x="1863" y="1202" width="44" height="18" fill="#d65113"/>
<rect x="1907" y="1202" width="44" height="18" fill="#d65113"/>
<rect x="1951" y="1202" width="45" height="18" fill="#d44f14"/>
<rect x="1996" y="1202" width="44" height="18" fill="#d04b18"/>
<rect x="2040" y="1202" width="44" height="18" fill="#ce4819"/>
<rect x="2084" y="1202" width="45" height="18" fill="#ca441c"/>
<rect x="2129" y="1202" width="44" height="18" fill="#c8421e"/>
<rect x="310" y="1220" width="45" height="19" fill="#aa2e30"/>
<rect x="355" y="1220" width="44" height="19" fill="#aa2e30"/>
<rect x="399" y="1220" width="44" height="19" fill="#aa2e30"/>
<rect x="443" y="1220" width="45" height="19" fill="#af2f2d"/>
<rect x="488" y="1220" width="44" height="19" fill="#af2f2d"/>
<rect x="532" y="1220" width="44" height="19" fill="#af2f2d"/>
<rect x="576" y="1220" width="45" height="19" fill="#af2f2d"/>
<rect x="621" y="1220" width="44" height="19" fill="#af2f2d"/>
<rect x="665" y="1220" width="45" height="19" fill="#af2f2d"/>
<rect x="710" y="1220" width="44" height="19" fill="#af2f2d"/>
<rect x="754" y="1220" width="44" height="19" fill="#af2f2d"/>
<rect x="798" y="1220" width="45" height="19" fill="#af2f2d"/>
<rect x="843" y="1220" width="44" height="19" fill="#af2f2d"/>
<rect x="887" y="1220" width="44" height="19" fill="#af2f2d"/>
<rect x="931" y="1220" width="45" height="19" fill="#af2f2d"/>
<rect x="976" y="1220" width="44" height="19" fill="#af2f2d"/>
<rect x="1020" y="1220" width="44" height="19" fill="#af2f2d"/>
<rect x="1064" y="1220" width="45" height="19" fill="#af2f2d"/>
<rect x="1109" y="1220" width="44" height="19" fill="#aa2e30"/>
<rect x="1153" y="1220" width="44" height="19" fill="#aa2e30"/>
<rect x="1197" y="1220" width="45" height="19" fill="#a62c33"/>
<rect x="1242" y="1220" width="44" height="19" fill="#a62c33"/>
<rect x="1286" y="1220" width="44" height="19" fill="#a62c33"/>
<rect x="1330" y="1220" width="45" height="19" fill="#9e2938"/>
<rect x="1375" y="1220" width="44" height="19" fill="#9e2938"/>
<rect x="1419" y="1220" width="44" height="19" fill="#9e2938"/>
<rect x="1463" y="1220" width="45" height="19" fill="#95253e"/>
<rect x="1508" y="1220" width="44" height="19" fill="#95253e"/>
<rect x="1552" y="1220" width="44" height="19" fill="#8c2244"/>
<rect x="1596" y="1220" width="45" height="19" fill="#872148"/>
<rect x="1641" y="1220" width="44" height="19" fill="#872148"/>
<rect x="1685" y="1220" width="45" height="19" fill="#872148"/>
<rect x="1730" y="1220" width="44" height="19" fill="#7d1f4e"/>
<rect x="1774" y="1220" width="44" height="19" fill="#781d50"/>
<rect x="1818" y="1220" width="45" height="19" fill="#721c50"/>
<rect x="1863" y="1220" width="44" height="19" fill="#721c50"/>
<rect x="1907" y="1220" width="44" height="19" fill="#671950"/>
<rect x="1951" y="1220" width="45" height="19" fill="#671950"/>
<rect x="1996" y="1220" width="44" height="19" fill="#611850"/>
<rect x="2040" y="1220" width="44" height="19" fill="#611850"/>
<rect x="2084" y="1220" width="45" height="19" fill="#5b1650"/>
<rect x="2129" y="1220" width="44" height="19" fill="#5b1650"/>
<rect x="310" y="1239" width="45" height="18" fill="#5b1650"/>
<rect x="355" y="1239" width="44" height="18" fill="#611850"/>
<rect x="399" y="1239" width="44" height="18" fill="#6c1b50"/>
<rect x="443" y="1239" width="45" height="18" fill="#6c1b50"/>
<rect x="488" y="1239" width="44" height="18" fill="#6c1b50"/>
<rect x="532" y="1239" width="44" height="18" fill="#721c50"/>
<rect x="576" y="1239" width="45" height="18" fill="#721c50"/>
<rect x="621" y="1239" width="44" height="18" fill="#7d1f4e"/>
<rect x="665" y="1239" width="45" height="18" fill="#7d1f4e"/>
<rect x="710" y="1239" width="44" height="18" fill="#7d1f4e"/>
<rect x="754" y="1239" width="44" height="18" fill="#82204b"/>
<rect x="798" y="1239" width="45" height="18" fill="#82204b"/>
<rect x="843" y="1239" width="44" height="18" fill="#82204b"/>
<rect x="887" y="1239" width="44" height="18" fill="#8c2244"/>
<rect x="931" y="1239" width="45" height="18" fill="#7d1f4e"/>
<rect x="976" y="1239" width="44" height="18" fill="#872148"/>
<rect x="1020" y="1239" width="44" height="18" fill="#8c2244"/>
<rect x="1064" y="1239" width="45" height="18" fill="#8c2244"/>
<rect x="1109" y="1239" width="44" height="18" fill="#912441"/>
<rect x="1153" y="1239" width="44" height="18" fill="#912441"/>
<rect x="1197" y="1239" width="45" height="18" fill="#912441"/>
<rect x="1242" y="1239" width="44" height="18" fill="#912441"/>
<rect x="1286" y="1239" width="44" height="18" fill="#912441"/>
<rect x="1330" y="1239" width="45" height="18" fill="#912441"/>
<rect x="1375" y="1239" width="44" height="18" fill="#912441"/>
<rect x="1419" y="1239" width="44" height="18" fill="#912441"/>
<rect x="1463" y="1239" width="45" height="18" fill="#912441"/>
<rect x="1508" y="1239" width="44" height="18" fill="#912441"/>
<rect x="1552" y="1239" width="44" height="18" fill="#95253e"/>
<rect x="1596" y="1239" width="45" height="18" fill="#95253e"/>
<rect x="1641" y="1239" width="44" height="18" fill="#95253e"/>
<rect x="1685" y="1239" width="45" height="18" fill="#95253e"/>
<rect x="1730" y="1239" width="44" height="18" fill="#95253e"/>
<rect x="1774" y="1239" width="44" height="18" fill="#95253e"/>
<rect x="1818" y="1239" width="45" height="18" fill="#95253e"/>
<rect x="1863" y="1239" width="44" height="18" fill="#95253e"/>
<rect x="1907" y="1239" width="44" height="18" fill="#95253e"/>
<rect x="1951" y="1239" width="45" height="18" fill="#95253e"/>
<rect x="1996" y="1239" width="44" height="18" fill="#95253e"/>
<rect x="2040" y="1239" width="44" height="18" fill="#95253e"/>
<rect x="2084" y="1239" width="45" height="18" fill="#95253e"/>
<rect x="2129" y="1239" width="44" height="18" fill="#95253e"/>
<rect x="310" y="1257" width="45" height="18" fill="#8c2244"/>
<rect x="355" y="1257" width="44" height="18" fill="#912441"/>
<rect x="399" y="1257" width="44" height="18" fill="#912441"/>
<rect x="443" y="1257" width="45" height="18" fill="#99273b"/>
<rect x="488" y="1257" width="44" height="18" fill="#99273b"/>
<rect x="532" y="1257" width="44" height="18" fill="#a22a35"/>
<rect x="576" y="1257" width="45" height="18" fill="#a22a35"/>
<rect x="621" y="1257" width="44" height="18" fill="#aa2e30"/>
<rect x="665" y="1257" width="45" height="18" fill="#af2f2d"/>
<rect x="710" y="1257" width="44" height="18" fill="#af2f2d"/>
<rect x="754" y="1257" width="44" height="18" fill="#b3322b"/>
<rect x="798" y="1257" width="45" height="18" fill="#b3322b"/>
<rect x="843" y="1257" width="44" height="18" fill="#b3322b"/>
<rect x="887" y="1257" width="44" height="18" fill="#bd3a24"/>
<rect x="931" y="1257" width="45" height="18" fill="#bd3a24"/>
<rect x="976" y="1257" width="44" height="18" fill="#c13d22"/>
<rect x="1020" y="1257" width="44" height="18" fill="#c13d22"/>
<rect x="1064" y="1257" width="45" height="18" fill="#c13d22"/>
<rect x="1109" y="1257" width="44" height="18" fill="#c8421e"/>
<rect x="1153" y="1257" width="44" height="18" fill="#c8421e"/>
<rect x="1197" y="1257" width="45" height="18" fill="#c8421e"/>
<rect x="1242" y="1257" width="44" height="18" fill="#cc461b"/>
<rect x="1286" y="1257" width="44" height="18" fill="#cc461b"/>
<rect x="1330" y="1257" width="45" height="18" fill="#ce4819"/>
<rect x="1375" y="1257" width="44" height="18" fill="#ce4819"/>
<rect x="1419" y="1257" width="44" height="18" fill="#ce4819"/>
<rect x="1463" y="1257" width="45" height="18" fill="#ce4819"/>
<rect x="1508" y="1257" width="44" height="18" fill="#ce4819"/>
<rect x="1552" y="1257" width="44" height="18" fill="#d85813"/>
<rect x="1596" y="1257" width="45" height="18" fill="#d95f15"/>
<rect x="1641" y="1257" width="44" height="18" fill="#d95f15"/>
<rect x="1685" y="1257" width="45" height="18" fill="#d95f15"/>
<rect x="1730" y="1257" width="44" height="18" fill="#d95f15"/>
<rect x="1774" y="1257" width="44" height="18" fill="#da6316"/>
<rect x="1818" y="1257" width="45" height="18" fill="#da6316"/>
<rect x="1863" y="1257" width="44" height="18" fill="#da6316"/>
<rect x="1907" y="1257" width="44" height="18" fill="#da6316"/>
<rect x="1951" y="1257" width="45" height="18" fill="#da6316"/>
<rect x="1996" y="1257" width="44" height="18" fill="#db6716"/>
<rect x="2040" y="1257" width="44" height="18" fill="#db6716"/>
<rect x="2084" y="1257" width="45" height="18" fill="#db6716"/>
<rect x="2129" y="1257" width="44" height="18" fill="#db6716"/>
<rect x="310" y="1275" width="45" height="18" fill="#da6316"/>
<rect x="355" y="1275" width="44" height="18" fill="#da6316"/>
<rect x="399" y="1275" width="44" height="18" fill="#da6316"/>
<rect x="443" y="1275" width="45" height="18" fill="#da6316"/>
<rect x="488" y="1275" width="44" height="18" fill="#da6316"/>
<rect x="532" y="1275" width="44" height="18" fill="#da6316"/>
<rect x="576" y="1275" width="45" height="18" fill="#da6316"/>
<rect x="621" y="1275" width="44" height="18" fill="#da6316"/>
<rect x="665" y="1275" width="45" height="18" fill="#da6316"/>
<rect x="710" y="1275" width="44" height="18" fill="#da6316"/>
<rect x="754" y="1275" width="44" height="18" fill="#d95f15"/>
<rect x="798" y="1275" width="45" height="18" fill="#d95f15"/>
<rect x="843" y="1275" width="44" height="18" fill="#d95f15"/>
<rect x="887" y="1275" width="44" height="18" fill="#d95f15"/>
<rect x="931" y="1275" width="45" height="18" fill="#d85813"/>
<rect x="976" y="1275" width="44" height="18" fill="#d85813"/>
<rect x="1020" y="1275" width="44" height="18" fill="#d85813"/>
<rect x="1064" y="1275" width="45" height="18" fill="#d85813"/>
<rect x="1109" y="1275" width="44" height="18" fill="#d44f14"/>
<rect x="1153" y="1275" width="44" height="18" fill="#d44f14"/>
<rect x="1197" y="1275" width="45" height="18" fill="#d44f14"/>
<rect x="1242" y="1275" width="44" height="18" fill="#d44f14"/>
<rect x="1286" y="1275" width="44" height="18" fill="#d44f14"/>
<rect x="1330" y="1275" width="45" height="18" fill="#cc461b"/>
<rect x="1375" y="1275" width="44" height="18" fill="#c8421e"/>
<rect x="1419" y="1275" width="44" height="18" fill="#c8421e"/>
<rect x="1463" y="1275" width="45" height="18" fill="#c8421e"/>
<rect x="1508" y="1275" width="44" height="18" fill="#c8421e"/>
<rect x="1552" y="1275" width="44" height="18" fill="#c13d22"/>
<rect x="1596" y="1275" width="45" height="18" fill="#c13d22"/>
<rect x="1641" y="1275" width="44" height="18" fill="#bd3a24"/>
<rect x="1685" y="1275" width="45" height="18" fill="#bd3a24"/>
<rect x="1730" y="1275" width="44" height="18" fill="#bd3a24"/>
<rect x="1774" y="1275" width="44" height="18" fill="#b3322b"/>
<rect x="1818" y="1275" width="45" height="18" fill="#b3322b"/>
<rect x="1863" y="1275" width="44" height="18" fill="#b3322b"/>
<rect x="1907" y="1275" width="44" height="18" fill="#af2f2d"/>
<rect x="1951" y="1275" width="45" height="18" fill="#af2f2d"/>
<rect x="1996" y="1275" width="44" height="18" fill="#aa2e30"/>
<rect x="2040" y="1275" width="44" height="18" fill="#aa2e30"/>
<rect x="2084" y="1275" width="45" height="18" fill="#a22a35"/>
<rect x="2129" y="1275" width="44" height="18" fill="#a22a35"/>
<rect x="310" y="1293" width="45" height="19" fill="#e3a23a"/>
<rect x="355" y="1293" width="44" height="19" fill="#e3a23a"/>
<rect x="399" y="1293" width="44" height="19" fill="#e3a23a"/>
<rect x="443" y="1293" width="45" height="19" fill="#e3a840"/>
<rect x="488" y="1293" width="44" height="19" fill="#e3a840"/>
<rect x="532" y="1293" width="44" height="19" fill="#e3a23a"/>
<rect x="576" y="1293" width="45" height="19" fill="#e3a23a"/>
<rect x="621" y="1293" width="44" height="19" fill="#e3a23a"/>
<rect x="665" y="1293" width="45" height="19" fill="#e3a23a"/>
<rect x="710" y="1293" width="44" height="19" fill="#e3a23a"/>
<rect x="754" y="1293" width="44" height="19" fill="#e3a23a"/>
<rect x="798" y="1293" width="45" height="19" fill="#e3a23a"/>
<rect x="843" y="1293" width="44" height="19" fill="#e39f37"/>
<rect x="887" y="1293" width="44" height="19" fill="#e39f37"/>
<rect x="931" y="1293" width="45" height="19" fill="#e28e27"/>
<rect x="976" y="1293" width="44" height="19" fill="#e28e27"/>
<rect x="1020" y="1293" width="44" height="19" fill="#e28e27"/>
<rect x="1064" y="1293" width="45" height="19" fill="#e28e27"/>
<rect x="1109" y="1293" width="44" height="19" fill="#e28e27"/>
<rect x="1153" y="1293" width="44" height="19" fill="#e28e27"/>
<rect x="1197" y="1293" width="45" height="19" fill="#e28e27"/>
<rect x="1242" y="1293" width="44" height="19" fill="#e28e27"/>
<rect x="1286" y="1293" width="44" height="19" fill="#e08522"/>
<rect x="1330" y="1293" width="45" height="19" fill="#de771c"/>
<rect x="1375" y="1293" width="44" height="19" fill="#de771c"/>
<rect x="1419" y="1293" width="44" height="19" fill="#de771c"/>
<rect x="1463" y="1293" width="45" height="19" fill="#dc6e18"/>
<rect x="1508" y="1293" width="44" height="19" fill="#dc6e18"/>
<rect x="1552" y="1293" width="44" height="19" fill="#da6316"/>
<rect x="1596" y="1293" width="45" height="19" fill="#da6316"/>
<rect x="1641" y="1293" width="44" height="19" fill="#d44f14"/>
<rect x="1685" y="1293" width="45" height="19" fill="#d44f14"/>
<rect x="1730" y="1293" width="44" height="19" fill="#d44f14"/>
<rect x="1774" y="1293" width="44" height="19" fill="#cc461b"/>
<rect x="1818" y="1293" width="45" height="19" fill="#cc461b"/>
<rect x="1863" y="1293" width="44" height="19" fill="#c13d22"/>
<rect x="1907" y="1293" width="44" height="19" fill="#c13d22"/>
<rect x="1951" y="1293" width="45" height="19" fill="#c13d22"/>
<rect x="1996" y="1293" width="44" height="19" fill="#af2f2d"/>
<rect x="2040" y="1293" width="44" height="19" fill="#af2f2d"/>
<rect x="2084" y="1293" width="45" height="19" fill="#af2f2d"/>
<rect x="2129" y="1293" width="44" height="19" fill="#af2f2d"/>
<rect x="310" y="1312" width="45" height="18" fill="#e28e27"/>
<rect x="355" y="1312" width="44" height="18" fill="#e29129"/>
<rect x="399" y="1312" width="44" height="18" fill="#e29830"/>
<rect x="443" y="1312" width="45" height="18" fill="#e39f37"/>
<rect x="488" y="1312" width="44" height="18" fill="#e39f37"/>
<rect x="532" y="1312" width="44" height="18" fill="#e39f37"/>
<rect x="576" y="1312" width="45" height="18" fill="#e39f37"/>
<rect x="621" y="1312" width="44" height="18" fill="#e3a23a"/>
<rect x="665" y="1312" width="45" height="18" fill="#e3a840"/>
<rect x="710" y="1312" width="44" height="18" fill="#e3a840"/>
<rect x="754" y="1312" width="44" height="18" fill="#e3ad46"/>
<rect x="798" y="1312" width="45" height="18" fill="#e3ad46"/>
<rect x="843" y="1312" width="44" height="18" fill="#e3af49"/>
<rect x="887" y="1312" width="44" height="18" fill="#e3b553"/>
<rect x="931" y="1312" width="45" height="18" fill="#e4bd61"/>
<rect x="976" y="1312" width="44" height="18" fill="#e4bd61"/>
<rect x="1020" y="1312" width="44" height="18" fill="#e4c066"/>
<rect x="1064" y="1312" width="45" height="18" fill="#e4c066"/>
<rect x="1109" y="1312" width="44" height="18" fill="#e4c066"/>
<rect x="1153" y="1312" width="44" height="18" fill="#e4c066"/>
<rect x="1197" y="1312" width="45" height="18" fill="#e4c066"/>
<rect x="1242" y="1312" width="44" height="18" fill="#e4c066"/>
<rect x="1286" y="1312" width="44" height="18" fill="#e4c066"/>
<rect x="1330" y="1312" width="45" height="18" fill="#e4c066"/>
<rect x="1375" y="1312" width="44" height="18" fill="#e4c066"/>
<rect x="1419" y="1312" width="44" height="18" fill="#e4c066"/>
<rect x="1463" y="1312" width="45" height="18" fill="#e4c066"/>
<rect x="1508" y="1312" width="44" height="18" fill="#e4c066"/>
<rect x="1552" y="1312" width="44" height="18" fill="#e4ba5c"/>
<rect x="1596" y="1312" width="45" height="18" fill="#e4ba5c"/>
<rect x="1641" y="1312" width="44" height="18" fill="#e4ba5c"/>
<rect x="1685" y="1312" width="45" height="18" fill="#e4ba5c"/>
<rect x="1730" y="1312" width="44" height="18" fill="#e4ba5c"/>
<rect x="1774" y="1312" width="44" height="18" fill="#e4ba5c"/>
<rect x="1818" y="1312" width="45" height="18" fill="#e3b858"/>
<rect x="1863" y="1312" width="44" height="18" fill="#e3b858"/>
<rect x="1907" y="1312" width="44" height="18" fill="#e3b553"/>
<rect x="1951" y="1312" width="45" height="18" fill="#e3b553"/>
<rect x="1996" y="1312" width="44" height="18" fill="#e3b24e"/>
<rect x="2040" y="1312" width="44" height="18" fill="#e3af49"/>
<rect x="2084" y="1312" width="45" height="18" fill="#e3ad46"/>
<rect x="2129" y="1312" width="44" height="18" fill="#e3aa43"/>
<rect x="310" y="1330" width="45" height="18" fill="#e18824"/>
<rect x="355" y="1330" width="44" height="18" fill="#e28e27"/>
<rect x="399" y="1330" width="44" height="18" fill="#e28e27"/>
<rect x="443" y="1330" width="45" height="18" fill="#e29830"/>
<rect x="488" y="1330" width="44" height="18" fill="#e29830"/>
<rect x="532" y="1330" width="44" height="18" fill="#e39f37"/>
<rect x="576" y="1330" width="45" height="18" fill="#e39f37"/>
<rect x="621" y="1330" width="44" height="18" fill="#e3a23a"/>
<rect x="665" y="1330" width="45" height="18" fill="#e3a840"/>
<rect x="710" y="1330" width="44" height="18" fill="#e3a840"/>
<rect x="754" y="1330" width="44" height="18" fill="#e3af49"/>
<rect x="798" y="1330" width="45" height="18" fill="#e3af49"/>
<rect x="843" y="1330" width="44" height="18" fill="#e3af49"/>
<rect x="887" y="1330" width="44" height="18" fill="#e3b553"/>
<rect x="931" y="1330" width="45" height="18" fill="#e4c066"/>
<rect x="976" y="1330" width="44" height="18" fill="#e4c066"/>
<rect x="1020" y="1330" width="44" height="18" fill="#e4c36c"/>
<rect x="1064" y="1330" width="45" height="18" fill="#e4c36c"/>
<rect x="1109" y="1330" width="44" height="18" fill="#e5c571"/>
<rect x="1153" y="1330" width="44" height="18" fill="#e5c571"/>
<rect x="1197" y="1330" width="45" height="18" fill="#e5c571"/>
<rect x="1242" y="1330" width="44" height="18" fill="#e5c571"/>
<rect x="1286" y="1330" width="44" height="18" fill="#e5c571"/>
<rect x="1330" y="1330" width="45" height="18" fill="#e5c877"/>
<rect x="1375" y="1330" width="44" height="18" fill="#e6cd82"/>
<rect x="1419" y="1330" width="44" height="18" fill="#e6cd82"/>
<rect x="1463" y="1330" width="45" height="18" fill="#e7d08a"/>
<rect x="1508" y="1330" width="44" height="18" fill="#e7d08a"/>
<rect x="1552" y="1330" width="44" height="18" fill="#e9d69a"/>
<rect x="1596" y="1330" width="45" height="18" fill="#e9d69a"/>
<rect x="1641" y="1330" width="44" height="18" fill="#ead9a2"/>
<rect x="1685" y="1330" width="45" height="18" fill="#ead9a2"/>
<rect x="1730" y="1330" width="44" height="18" fill="#ead9a2"/>
<rect x="1774" y="1330" width="44" height="18" fill="#ead9a2"/>
<rect x="1818" y="1330" width="45" height="18" fill="#ead9a2"/>
<rect x="1863" y="1330" width="44" height="18" fill="#e8d392"/>
<rect x="1907" y="1330" width="44" height="18" fill="#e7d08a"/>
<rect x="1951" y="1330" width="45" height="18" fill="#e7d08a"/>
<rect x="1996" y="1330" width="44" height="18" fill="#e6ca7c"/>
<rect x="2040" y="1330" width="44" height="18" fill="#e6ca7c"/>
<rect x="2084" y="1330" width="45" height="18" fill="#e5c877"/>
<rect x="2129" y="1330" width="44" height="18" fill="#e5c877"/>
<rect x="310" y="1348" width="45" height="19" fill="#e4bd61"/>
<rect x="355" y="1348" width="44" height="19" fill="#e4c066"/>
<rect x="399" y="1348" width="44" height="19" fill="#e4c066"/>
<rect x="443" y="1348" width="45" height="19" fill="#e4c36c"/>
<rect x="488" y="1348" width="44" height="19" fill="#e4c36c"/>
<rect x="532" y="1348" width="44" height="19" fill="#e4c36c"/>
<rect x="576" y="1348" width="45" height="19" fill="#e5c571"/>
<rect x="621" y="1348" width="44" height="19" fill="#e5c571"/>
<rect x="665" y="1348" width="45" height="19" fill="#e5c877"/>
<rect x="710" y="1348" width="44" height="19" fill="#e5c877"/>
<rect x="754" y="1348" width="44" height="19" fill="#e6cd82"/>
<rect x="798" y="1348" width="45" height="19" fill="#e6cd82"/>
<rect x="843" y="1348" width="44" height="19" fill="#e7d08a"/>
<rect x="887" y="1348" width="44" height="19" fill="#e7d08a"/>
<rect x="931" y="1348" width="45" height="19" fill="#ead9a2"/>
<rect x="976" y="1348" width="44" height="19" fill="#ebdcaa"/>
<rect x="1020" y="1348" width="44" height="19" fill="#ecdfb3"/>
<rect x="1064" y="1348" width="45" height="19" fill="#ecdfb3"/>
<rect x="1109" y="1348" width="44" height="19" fill="#ecdfb3"/>
<rect x="1153" y="1348" width="44" height="19" fill="#ecdfb3"/>
<rect x="1197" y="1348" width="45" height="19" fill="#ecdfb3"/>
<rect x="1242" y="1348" width="44" height="19" fill="#ebdcaa"/>
<rect x="1286" y="1348" width="44" height="19" fill="#ebdcaa"/>
<rect x="1330" y="1348" width="45" height="19" fill="#ebdcaa"/>
<rect x="1375" y="1348" width="44" height="19" fill="#ebdcaa"/>
<rect x="1419" y="1348" width="44" height="19" fill="#ebdcaa"/>
<rect x="1463" y="1348" width="45" height="19" fill="#ebdcaa"/>
<rect x="1508" y="1348" width="44" height="19" fill="#ebdcaa"/>
<rect x="1552" y="1348" width="44" height="19" fill="#ead9a2"/>
<rect x="1596" y="1348" width="45" height="19" fill="#ead9a2"/>
<rect x="1641" y="1348" width="44" height="19" fill="#ead9a2"/>
<rect x="1685" y="1348" width="45" height="19" fill="#e7d08a"/>
<rect x="1730" y="1348" width="44" height="19" fill="#e7d08a"/>
<rect x="1774" y="1348" width="44" height="19" fill="#e5c877"/>
<rect x="1818" y="1348" width="45" height="19" fill="#e5c877"/>
<rect x="1863" y="1348" width="44" height="19" fill="#e5c571"/>
<rect x="1907" y="1348" width="44" height="19" fill="#e5c571"/>
<rect x="1951" y="1348" width="45" height="19" fill="#e5c571"/>
<rect x="1996" y="1348" width="44" height="19" fill="#e4bd61"/>
<rect x="2040" y="1348" width="44" height="19" fill="#e4bd61"/>
<rect x="2084" y="1348" width="45" height="19" fill="#e4bd61"/>
<rect x="2129" y="1348" width="44" height="19" fill="#e4bd61"/>
<rect x="310" y="1367" width="45" height="18" fill="#e5c877"/>
<rect x="355" y="1367" width="44" height="18" fill="#e5c877"/>
<rect x="399" y="1367" width="44" height="18" fill="#e7d08a"/>
<rect x="443" y="1367" width="45" height="18" fill="#e9d69a"/>
<rect x="488" y="1367" width="44" height="18" fill="#ead9a2"/>
<rect x="532" y="1367" width="44" height="18" fill="#ead9a2"/>
<rect x="576" y="1367" width="45" height="18" fill="#ead9a2"/>
<rect x="621" y="1367" width="44" height="18" fill="#ebdcaa"/>
<rect x="665" y="1367" width="45" height="18" fill="#ecdfb3"/>
<rect x="710" y="1367" width="44" height="18" fill="#ecdfb3"/>
<rect x="754" y="1367" width="44" height="18" fill="#eee3bd"/>
<rect x="798" y="1367" width="45" height="18" fill="#efe6c6"/>
<rect x="843" y="1367" width="44" height="18" fill="#efe6c6"/>
<rect x="887" y="1367" width="44" height="18" fill="#efe6c6"/>
<rect x="931" y="1367" width="45" height="18" fill="#efe6c6"/>
<rect x="976" y="1367" width="44" height="18" fill="#f0ead0"/>
<rect x="1020" y="1367" width="44" height="18" fill="#f0ead0"/>
<rect x="1064" y="1367" width="45" height="18" fill="#f0ead0"/>
<rect x="1109" y="1367" width="44" height="18" fill="#f2edd9"/>
<rect x="1153" y="1367" width="44" height="18" fill="#f0ead0"/>
<rect x="1197" y="1367" width="45" height="18" fill="#f0ead0"/>
<rect x="1242" y="1367" width="44" height="18" fill="#eee3bd"/>
<rect x="1286" y="1367" width="44" height="18" fill="#eee3bd"/>
<rect x="1330" y="1367" width="45" height="18" fill="#ebdcaa"/>
<rect x="1375" y="1367" width="44" height="18" fill="#ebdcaa"/>
<rect x="1419" y="1367" width="44" height="18" fill="#ead9a2"/>
<rect x="1463" y="1367" width="45" height="18" fill="#ead9a2"/>
<rect x="1508" y="1367" width="44" height="18" fill="#e9d69a"/>
<rect x="1552" y="1367" width="44" height="18" fill="#e7d08a"/>
<rect x="1596" y="1367" width="45" height="18" fill="#e7d08a"/>
<rect x="1641" y="1367" width="44" height="18" fill="#e5c877"/>
<rect x="1685" y="1367" width="45" height="18" fill="#e5c877"/>
<rect x="1730" y="1367" width="44" height="18" fill="#e5c877"/>
<rect x="1774" y="1367" width="44" height="18" fill="#e4c066"/>
<rect x="1818" y="1367" width="45" height="18" fill="#e4c066"/>
<rect x="1863" y="1367" width="44" height="18" fill="#e4c066"/>
<rect x="1907" y="1367" width="44" height="18" fill="#e3b553"/>
<rect x="1951" y="1367" width="45" height="18" fill="#e3b553"/>
<rect x="1996" y="1367" width="44" height="18" fill="#e3ad46"/>
<rect x="2040" y="1367" width="44" height="18" fill="#e3ad46"/>
<rect x="2084" y="1367" width="45" height="18" fill="#e3aa43"/>
<rect x="2129" y="1367" width="44" height="18" fill="#e3a840"/>
<rect x="310" y="1385" width="45" height="18" fill="#e3b553"/>
<rect x="355" y="1385" width="44" height="18" fill="#e4ba5c"/>
<rect x="399" y="1385" width="44" height="18" fill="#e4ba5c"/>
<rect x="443" y="1385" width="45" height="18" fill="#e4bd61"/>
<rect x="488" y="1385" width="44" height="18" fill="#e4bd61"/>
<rect x="532" y="1385" width="44" height="18" fill="#e4bd61"/>
<rect x="576" y="1385" width="45" height="18" fill="#e4c066"/>
<rect x="621" y="1385" width="44" height="18" fill="#e4c066"/>
<rect x="665" y="1385" width="45" height="18" fill="#e4c36c"/>
<rect x="710" y="1385" width="44" height="18" fill="#e4c36c"/>
<rect x="754" y="1385" width="44" height="18" fill="#e5c571"/>
<rect x="798" y="1385" width="45" height="18" fill="#e5c571"/>
<rect x="843" y="1385" width="44" height="18" fill="#e5c571"/>
<rect x="887" y="1385" width="44" height="18" fill="#e5c571"/>
<rect x="931" y="1385" width="45" height="18" fill="#e5c571"/>
<rect x="976" y="1385" width="44" height="18" fill="#e5c877"/>
<rect x="1020" y="1385" width="44" height="18" fill="#e5c877"/>
<rect x="1064" y="1385" width="45" height="18" fill="#e5c877"/>
<rect x="1109" y="1385" width="44" height="18" fill="#e5c877"/>
<rect x="1153" y="1385" width="44" height="18" fill="#e5c877"/>
<rect x="1197" y="1385" width="45" height="18" fill="#e5c877"/>
<rect x="1242" y="1385" width="44" height="18" fill="#e5c877"/>
<rect x="1286" y="1385" width="44" height="18" fill="#e5c877"/>
<rect x="1330" y="1385" width="45" height="18" fill="#e5c877"/>
<rect x="1375" y="1385" width="44" height="18" fill="#e5c877"/>
<rect x="1419" y="1385" width="44" height="18" fill="#e5c877"/>
<rect x="1463" y="1385" width="45" height="18" fill="#e5c877"/>
<rect x="1508" y="1385" width="44" height="18" fill="#e5c877"/>
<rect x="1552" y="1385" width="44" height="18" fill="#e4bd61"/>
<rect x="1596" y="1385" width="45" height="18" fill="#e4bd61"/>
<rect x="1641" y="1385" width="44" height="18" fill="#e4bd61"/>
<rect x="1685" y="1385" width="45" height="18" fill="#e4bd61"/>
<rect x="1730" y="1385" width="44" height="18" fill="#e4bd61"/>
<rect x="1774" y="1385" width="44" height="18" fill="#e3b24e"/>
<rect x="1818" y="1385" width="45" height="18" fill="#e3b24e"/>
<rect x="1863" y="1385" width="44" height="18" fill="#e3b24e"/>
<rect x="1907" y="1385" width="44" height="18" fill="#e3b24e"/>
<rect x="1951" y="1385" width="45" height="18" fill="#e3b24e"/>
<rect x="1996" y="1385" width="44" height="18" fill="#e3a840"/>
<rect x="2040" y="1385" width="44" height="18" fill="#e3a840"/>
<rect x="2084" y="1385" width="45" height="18" fill="#e3a53d"/>
<rect x="2129" y="1385" width="44" height="18" fill="#e3a53d"/>
<rect x="310" y="1403" width="45" height="18" fill="#e3a840"/>
<rect x="355" y="1403" width="44" height="18" fill="#e3a840"/>
<rect x="399" y="1403" width="44" height="18" fill="#e3a840"/>
<rect x="443" y="1403" width="45" height="18" fill="#e3a840"/>
<rect x="488" y="1403" width="44" height="18" fill="#e3a840"/>
<rect x="532" y="1403" width="44" height="18" fill="#e3a840"/>
<rect x="576" y="1403" width="45" height="18" fill="#e3a840"/>
<rect x="621" y="1403" width="44" height="18" fill="#e3a840"/>
<rect x="665" y="1403" width="45" height="18" fill="#e3a840"/>
<rect x="710" y="1403" width="44" height="18" fill="#e3a840"/>
<rect x="754" y="1403" width="44" height="18" fill="#e3a840"/>
<rect x="798" y="1403" width="45" height="18" fill="#e3a840"/>
<rect x="843" y="1403" width="44" height="18" fill="#e3a840"/>
<rect x="887" y="1403" width="44" height="18" fill="#e3a840"/>
<rect x="931" y="1403" width="45" height="18" fill="#e3a840"/>
<rect x="976" y="1403" width="44" height="18" fill="#e3a840"/>
<rect x="1020" y="1403" width="44" height="18" fill="#e3a840"/>
<rect x="1064" y="1403" width="45" height="18" fill="#e3a840"/>
<rect x="1109" y="1403" width="44" height="18" fill="#e3a840"/>
<rect x="1153" y="1403" width="44" height="18" fill="#e3a840"/>
<rect x="1197" y="1403" width="45" height="18" fill="#e3a840"/>
<rect x="1242" y="1403" width="44" height="18" fill="#e3a840"/>
<rect x="1286" y="1403" width="44" height="18" fill="#e3a840"/>
<rect x="1330" y="1403" width="45" height="18" fill="#e3a840"/>
<rect x="1375" y="1403" width="44" height="18" fill="#e3a840"/>
<rect x="1419" y="1403" width="44" height="18" fill="#e3a840"/>
<rect x="1463" y="1403" width="45" height="18" fill="#e3a840"/>
<rect x="1508" y="1403" width="44" height="18" fill="#e3a840"/>
<rect x="1552" y="1403" width="44" height="18" fill="#e3a23a"/>
<rect x="1596" y="1403" width="45" height="18" fill="#e3a23a"/>
<rect x="1641" y="1403" width="44" height="18" fill="#e3a23a"/>
<rect x="1685" y="1403" width="45" height="18" fill="#e3a23a"/>
<rect x="1730" y="1403" width="44" height="18" fill="#e39f37"/>
<rect x="1774" y="1403" width="44" height="18" fill="#e29830"/>
<rect x="1818" y="1403" width="45" height="18" fill="#e29830"/>
<rect x="1863" y="1403" width="44" height="18" fill="#e29830"/>
<rect x="1907" y="1403" width="44" height="18" fill="#e29830"/>
<rect x="1951" y="1403" width="45" height="18" fill="#e29830"/>
<rect x="1996" y="1403" width="44" height="18" fill="#e28e27"/>
<rect x="2040" y="1403" width="44" height="18" fill="#e28e27"/>
<rect x="2084" y="1403" width="45" height="18" fill="#e28e27"/>
<rect x="2129" y="1403" width="44" height="18" fill="#e28e27"/>
<rect x="310" y="1421" width="45" height="19" fill="#da6316"/>
<rect x="355" y="1421" width="44" height="19" fill="#da6316"/>
<rect x="399" y="1421" width="44" height="19" fill="#da6316"/>
<rect x="443" y="1421" width="45" height="19" fill="#da6316"/>
<rect x="488" y="1421" width="44" height="19" fill="#da6316"/>
<rect x="532" y="1421" width="44" height="19" fill="#da6316"/>
<rect x="576" y="1421" width="45" height="19" fill="#da6316"/>
<rect x="621" y="1421" width="44" height="19" fill="#da6316"/>
<rect x="665" y="1421" width="45" height="19" fill="#da6316"/>
<rect x="710" y="1421" width="44" height="19" fill="#da6316"/>
<rect x="754" y="1421" width="44" height="19" fill="#da6316"/>
<rect x="798" y="1421" width="45" height="19" fill="#da6316"/>
<rect x="843" y="1421" width="44" height="19" fill="#da6316"/>
<rect x="887" y="1421" width="44" height="19" fill="#da6316"/>
<rect x="931" y="1421" width="45" height="19" fill="#d95c14"/>
<rect x="976" y="1421" width="44" height="19" fill="#d95c14"/>
<rect x="1020" y="1421" width="44" height="19" fill="#d95c14"/>
<rect x="1064" y="1421" width="45" height="19" fill="#d95c14"/>
<rect x="1109" y="1421" width="44" height="19" fill="#d95c14"/>
<rect x="1153" y="1421" width="44" height="19" fill="#d95c14"/>
<rect x="1197" y="1421" width="45" height="19" fill="#d95c14"/>
<rect x="1242" y="1421" width="44" height="19" fill="#d95c14"/>
<rect x="1286" y="1421" width="44" height="19" fill="#d95c14"/>
<rect x="1330" y="1421" width="45" height="19" fill="#d95c14"/>
<rect x="1375" y="1421" width="44" height="19" fill="#d95c14"/>
<rect x="1419" y="1421" width="44" height="19" fill="#d95c14"/>
<rect x="1463" y="1421" width="45" height="19" fill="#d95c14"/>
<rect x="1508" y="1421" width="44" height="19" fill="#d95c14"/>
<rect x="1552" y="1421" width="44" height="19" fill="#d44f14"/>
<rect x="1596" y="1421" width="45" height="19" fill="#d44f14"/>
<rect x="1641" y="1421" width="44" height="19" fill="#d44f14"/>
<rect x="1685" y="1421" width="45" height="19" fill="#d44f14"/>
<rect x="1730" y="1421" width="44" height="19" fill="#d44f14"/>
<rect x="1774" y="1421" width="44" height="19" fill="#d04b18"/>
<rect x="1818" y="1421" width="45" height="19" fill="#d04b18"/>
<rect x="1863" y="1421" width="44" height="19" fill="#d04b18"/>
<rect x="1907" y="1421" width="44" height="19" fill="#d04b18"/>
<rect x="1951" y="1421" width="45" height="19" fill="#d04b18"/>
<rect x="1996" y="1421" width="44" height="19" fill="#cc461b"/>
<rect x="2040" y="1421" width="44" height="19" fill="#cc461b"/>
<rect x="2084" y="1421" width="45" height="19" fill="#cc461b"/>
<rect x="2129" y="1421" width="44" height="19" fill="#cc461b"/>
</g>
<g stroke="#f4eede" stroke-width="1.6" stroke-dasharray="1.6 1.4" fill="none">
<line x1="443.4" y1="160.0" x2="443.4" y2="1440.3"/>
<line x1="665.2" y1="160.0" x2="665.2" y2="1440.3"/>
<line x1="886.9" y1="160.0" x2="886.9" y2="1440.3"/>
<line x1="1108.7" y1="160.0" x2="1108.7" y2="1440.3"/>
<line x1="1330.4" y1="160.0" x2="1330.4" y2="1440.3"/>
<line x1="1552.1" y1="160.0" x2="1552.1" y2="1440.3"/>
<line x1="1773.9" y1="160.0" x2="1773.9" y2="1440.3"/>
<line x1="1995.6" y1="160.0" x2="1995.6" y2="1440.3"/>
<line x1="310.4" y1="361.5" x2="2173.0" y2="361.5"/>
<line x1="310.4" y1="399.4" x2="2173.0" y2="399.4"/>
<line x1="310.4" y1="441.8" x2="2173.0" y2="441.8"/>
<line x1="310.4" y1="489.9" x2="2173.0" y2="489.9"/>
<line x1="310.4" y1="545.3" x2="2173.0" y2="545.3"/>
<line x1="310.4" y1="610.9" x2="2173.0" y2="610.9"/>
<line x1="310.4" y1="691.2" x2="2173.0" y2="691.2"/>
<line x1="310.4" y1="794.8" x2="2173.0" y2="794.8"/>
<line x1="310.4" y1="940.7" x2="2173.0" y2="940.7"/>
<line x1="310.4" y1="1190.1" x2="2173.0" y2="1190.1"/>
<line x1="310.4" y1="1228.1" x2="2173.0" y2="1228.1"/>
<line x1="310.4" y1="1270.4" x2="2173.0" y2="1270.4"/>
<line x1="310.4" y1="1318.5" x2="2173.0" y2="1318.5"/>
<line x1="310.4" y1="1374.0" x2="2173.0" y2="1374.0"/>
</g>
<g stroke="#eee5c9" stroke-width="1.5" fill="none">
<line x1="310.4" y1="1440.3" x2="2173.0" y2="1440.3"/>
<line x1="310.4" y1="160.0" x2="310.4" y2="1440.3"/>
<line x1="354.7" y1="1440.3" x2="354.7" y2="1422.3"/>
<line x1="399.1" y1="1440.3" x2="399.1" y2="1422.3"/>
<line x1="443.4" y1="1440.3" x2="443.4" y2="1405.3"/>
<line x1="487.8" y1="1440.3" x2="487.8" y2="1422.3"/>
<line x1="532.1" y1="1440.3" x2="532.1" y2="1422.3"/>
<line x1="576.5" y1="1440.3" x2="576.5" y2="1422.3"/>
<line x1="620.8" y1="1440.3" x2="620.8" y2="1422.3"/>
<line x1="665.2" y1="1440.3" x2="665.2" y2="1405.3"/>
<line x1="709.5" y1="1440.3" x2="709.5" y2="1422.3"/>
<line x1="753.9" y1="1440.3" x2="753.9" y2="1422.3"/>
<line x1="798.2" y1="1440.3" x2="798.2" y2="1422.3"/>
<line x1="842.6" y1="1440.3" x2="842.6" y2="1422.3"/>
<line x1="886.9" y1="1440.3" x2="886.9" y2="1405.3"/>
<line x1="931.3" y1="1440.3" x2="931.3" y2="1422.3"/>
<line x1="975.6" y1="1440.3" x2="975.6" y2="1422.3"/>
<line x1="1020.0" y1="1440.3" x2="1020.0" y2="1422.3"/>
<line x1="1064.3" y1="1440.3" x2="1064.3" y2="1422.3"/>
<line x1="1108.7" y1="1440.3" x2="1108.7" y2="1405.3"/>
<line x1="1153.0" y1="1440.3" x2="1153.0" y2="1422.3"/>
<line x1="1197.4" y1="1440.3" x2="1197.4" y2="1422.3"/>
<line x1="1241.7" y1="1440.3" x2="1241.7" y2="1422.3"/>
<line x1="1286.0" y1="1440.3" x2="1286.0" y2="1422.3"/>
<line x1="1330.4" y1="1440.3" x2="1330.4" y2="1405.3"/>
<line x1="1374.7" y1="1440.3" x2="1374.7" y2="1422.3"/>
<line x1="1419.1" y1="1440.3" x2="1419.1" y2="1422.3"/>
<line x1="1463.4" y1="1440.3" x2="1463.4" y2="1422.3"/>
<line x1="1507.8" y1="1440.3" x2="1507.8" y2="1422.3"/>
<line x1="1552.1" y1="1440.3" x2="1552.1" y2="1405.3"/>
<line x1="1596.5" y1="1440.3" x2="1596.5" y2="1422.3"/>
<line x1="1640.8" y1="1440.3" x2="1640.8" y2="1422.3"/>
<line x1="1685.2" y1="1440.3" x2="1685.2" y2="1422.3"/>
<line x1="1729.5" y1="1440.3" x2="1729.5" y2="1422.3"/>
<line x1="1773.9" y1="1440.3" x2="1773.9" y2="1405.3"/>
<line x1="1818.2" y1="1440.3" x2="1818.2" y2="1422.3"/>
<line x1="1862.6" y1="1440.3" x2="1862.6" y2="1422.3"/>
<line x1="1906.9" y1="1440.3" x2="1906.9" y2="1422.3"/>
<line x1="1951.3" y1="1440.3" x2="1951.3" y2="1422.3"/>
<line x1="1995.6" y1="1440.3" x2="1995.6" y2="1405.3"/>
<line x1="2040.0" y1="1440.3" x2="2040.0" y2="1422.3"/>
<line x1="2084.3" y1="1440.3" x2="2084.3" y2="1422.3"/>
<line x1="2128.7" y1="1440.3" x2="2128.7" y2="1422.3"/>
<line x1="310.4" y1="361.5" x2="373.4" y2="361.5"/>
<line x1="310.4" y1="399.4" x2="341.4" y2="399.4"/>
<line x1="310.4" y1="441.8" x2="341.4" y2="441.8"/>
<line x1="310.4" y1="489.9" x2="341.4" y2="489.9"/>
<line x1="310.4" y1="545.3" x2="341.4" y2="545.3"/>
<line x1="310.4" y1="610.9" x2="341.4" y2="610.9"/>
<line x1="310.4" y1="691.2" x2="341.4" y2="691.2"/>
<line x1="310.4" y1="794.8" x2="341.4" y2="794.8"/>
<line x1="310.4" y1="940.7" x2="341.4" y2="940.7"/>
<line x1="310.4" y1="1190.1" x2="373.4" y2="1190.1"/>
<line x1="310.4" y1="1228.1" x2="341.4" y2="1228.1"/>
<line x1="310.4" y1="1270.4" x2="341.4" y2="1270.4"/>
<line x1="310.4" y1="1318.5" x2="341.4" y2="1318.5"/>
<line x1="310.4" y1="1374.0" x2="341.4" y2="1374.0"/>
</g>
<g shape-rendering="crispEdges">
<rect x="2186.2" y="160.00" width="116.5" height="10.60" fill="#f5f4ed"/>
<rect x="2186.2" y="170.00" width="116.5" height="10.60" fill="#f4f2e8"/>
<rect x="2186.2" y="180.00" width="116.5" height="10.60" fill="#f4f1e4"/>
<rect x="2186.2" y="190.01" width="116.5" height="10.60" fill="#f3efe0"/>
<rect x="2186.2" y="200.01" width="116.5" height="10.60" fill="#f2eedb"/>
<rect x="2186.2" y="210.01" width="116.5" height="10.60" fill="#f1ebd3"/>
<rect x="2186.2" y="220.01" width="116.5" height="10.60" fill="#f0e8cc"/>
<rect x="2186.2" y="230.02" width="116.5" height="10.60" fill="#efe5c4"/>
<rect x="2186.2" y="240.02" width="116.5" height="10.60" fill="#eee3bd"/>
<rect x="2186.2" y="250.02" width="116.5" height="10.60" fill="#ede0b5"/>
<rect x="2186.2" y="260.02" width="116.5" height="10.60" fill="#ebddad"/>
<rect x="2186.2" y="270.03" width="116.5" height="10.60" fill="#ebdba6"/>
<rect x="2186.2" y="280.03" width="116.5" height="10.60" fill="#ead8a0"/>
<rect x="2186.2" y="290.03" width="116.5" height="10.60" fill="#e9d69a"/>
<rect x="2186.2" y="300.03" width="116.5" height="10.60" fill="#e8d393"/>
<rect x="2186.2" y="310.04" width="116.5" height="10.60" fill="#e8d18d"/>
<rect x="2186.2" y="320.04" width="116.5" height="10.60" fill="#e7cf87"/>
<rect x="2186.2" y="330.04" width="116.5" height="10.60" fill="#e6cc80"/>
<rect x="2186.2" y="340.04" width="116.5" height="10.60" fill="#e6ca7c"/>
<rect x="2186.2" y="350.04" width="116.5" height="10.60" fill="#e5c877"/>
<rect x="2186.2" y="360.05" width="116.5" height="10.60" fill="#e5c673"/>
<rect x="2186.2" y="370.05" width="116.5" height="10.60" fill="#e5c46e"/>
<rect x="2186.2" y="380.05" width="116.5" height="10.60" fill="#e4c26a"/>
<rect x="2186.2" y="390.05" width="116.5" height="10.60" fill="#e4c066"/>
<rect x="2186.2" y="400.06" width="116.5" height="10.60" fill="#e4be62"/>
<rect x="2186.2" y="410.06" width="116.5" height="10.60" fill="#e4bb5e"/>
<rect x="2186.2" y="420.06" width="116.5" height="10.60" fill="#e4b95a"/>
<rect x="2186.2" y="430.06" width="116.5" height="10.60" fill="#e3b756"/>
<rect x="2186.2" y="440.07" width="116.5" height="10.60" fill="#e3b552"/>
<rect x="2186.2" y="450.07" width="116.5" height="10.60" fill="#e3b24e"/>
<rect x="2186.2" y="460.07" width="116.5" height="10.60" fill="#e3b04a"/>
<rect x="2186.2" y="470.07" width="116.5" height="10.60" fill="#e3ae48"/>
<rect x="2186.2" y="480.07" width="116.5" height="10.60" fill="#e3ac45"/>
<rect x="2186.2" y="490.08" width="116.5" height="10.60" fill="#e3aa43"/>
<rect x="2186.2" y="500.08" width="116.5" height="10.60" fill="#e3a841"/>
<rect x="2186.2" y="510.08" width="116.5" height="10.60" fill="#e3a63e"/>
<rect x="2186.2" y="520.08" width="116.5" height="10.60" fill="#e3a33c"/>
<rect x="2186.2" y="530.09" width="116.5" height="10.60" fill="#e3a139"/>
<rect x="2186.2" y="540.09" width="116.5" height="10.60" fill="#e39e36"/>
<rect x="2186.2" y="550.09" width="116.5" height="10.60" fill="#e39c34"/>
<rect x="2186.2" y="560.09" width="116.5" height="10.60" fill="#e29931"/>
<rect x="2186.2" y="570.10" width="116.5" height="10.60" fill="#e2962e"/>
<rect x="2186.2" y="580.10" width="116.5" height="10.60" fill="#e2942c"/>
<rect x="2186.2" y="590.10" width="116.5" height="10.60" fill="#e29129"/>
<rect x="2186.2" y="600.10" width="116.5" height="10.60" fill="#e28e27"/>
<rect x="2186.2" y="610.11" width="116.5" height="10.60" fill="#e18c26"/>
<rect x="2186.2" y="620.11" width="116.5" height="10.60" fill="#e18924"/>
<rect x="2186.2" y="630.11" width="116.5" height="10.60" fill="#e08723"/>
<rect x="2186.2" y="640.11" width="116.5" height="10.60" fill="#e08422"/>
<rect x="2186.2" y="650.11" width="116.5" height="10.60" fill="#df8120"/>
<rect x="2186.2" y="660.12" width="116.5" height="10.60" fill="#df7d1e"/>
<rect x="2186.2" y="670.12" width="116.5" height="10.60" fill="#de791d"/>
<rect x="2186.2" y="680.12" width="116.5" height="10.60" fill="#dd761b"/>
<rect x="2186.2" y="690.12" width="116.5" height="10.60" fill="#dd721a"/>
<rect x="2186.2" y="700.13" width="116.5" height="10.60" fill="#dc6e18"/>
<rect x="2186.2" y="710.13" width="116.5" height="10.60" fill="#dc6b17"/>
<rect x="2186.2" y="720.13" width="116.5" height="10.60" fill="#db6817"/>
<rect x="2186.2" y="730.13" width="116.5" height="10.60" fill="#da6516"/>
<rect x="2186.2" y="740.14" width="116.5" height="10.60" fill="#da6215"/>
<rect x="2186.2" y="750.14" width="116.5" height="10.60" fill="#d95f15"/>
<rect x="2186.2" y="760.14" width="116.5" height="10.60" fill="#d95c14"/>
<rect x="2186.2" y="770.14" width="116.5" height="10.60" fill="#d85914"/>
<rect x="2186.2" y="780.15" width="116.5" height="10.60" fill="#d85613"/>
<rect x="2186.2" y="790.15" width="116.5" height="10.60" fill="#d75312"/>
<rect x="2186.2" y="800.15" width="116.5" height="10.60" fill="#d65113"/>
<rect x="2186.2" y="810.15" width="116.5" height="10.60" fill="#d44f14"/>
<rect x="2186.2" y="820.15" width="116.5" height="10.60" fill="#d34e15"/>
<rect x="2186.2" y="830.16" width="116.5" height="10.60" fill="#d14c17"/>
<rect x="2186.2" y="840.16" width="116.5" height="10.60" fill="#d04a18"/>
<rect x="2186.2" y="850.16" width="116.5" height="10.60" fill="#ce4819"/>
<rect x="2186.2" y="860.16" width="116.5" height="10.60" fill="#cc471b"/>
<rect x="2186.2" y="870.17" width="116.5" height="10.60" fill="#cb451c"/>
<rect x="2186.2" y="880.17" width="116.5" height="10.60" fill="#c9431d"/>
<rect x="2186.2" y="890.17" width="116.5" height="10.60" fill="#c7411f"/>
<rect x="2186.2" y="900.17" width="116.5" height="10.60" fill="#c43f20"/>
<rect x="2186.2" y="910.18" width="116.5" height="10.60" fill="#c13d22"/>
<rect x="2186.2" y="920.18" width="116.5" height="10.60" fill="#be3b24"/>
<rect x="2186.2" y="930.18" width="116.5" height="10.60" fill="#bb3925"/>
<rect x="2186.2" y="940.18" width="116.5" height="10.60" fill="#b93627"/>
<rect x="2186.2" y="950.19" width="116.5" height="10.60" fill="#b63429"/>
<rect x="2186.2" y="960.19" width="116.5" height="10.60" fill="#b3322a"/>
<rect x="2186.2" y="970.19" width="116.5" height="10.60" fill="#b0302c"/>
<rect x="2186.2" y="980.19" width="116.5" height="10.60" fill="#ac2f2e"/>
<rect x="2186.2" y="990.19" width="116.5" height="10.60" fill="#a92d31"/>
<rect x="2186.2" y="1000.20" width="116.5" height="10.60" fill="#a62c33"/>
<rect x="2186.2" y="1010.20" width="116.5" height="10.60" fill="#a22a35"/>
<rect x="2186.2" y="1020.20" width="116.5" height="10.60" fill="#9f2938"/>
<rect x="2186.2" y="1030.20" width="116.5" height="10.60" fill="#9b283a"/>
<rect x="2186.2" y="1040.21" width="116.5" height="10.60" fill="#98263c"/>
<rect x="2186.2" y="1050.21" width="116.5" height="10.60" fill="#94253e"/>
<rect x="2186.2" y="1060.21" width="116.5" height="10.60" fill="#912441"/>
<rect x="2186.2" y="1070.21" width="116.5" height="10.60" fill="#8d2343"/>
<rect x="2186.2" y="1080.22" width="116.5" height="10.60" fill="#892246"/>
<rect x="2186.2" y="1090.22" width="116.5" height="10.60" fill="#852149"/>
<rect x="2186.2" y="1100.22" width="116.5" height="10.60" fill="#81204b"/>
<rect x="2186.2" y="1110.22" width="116.5" height="10.60" fill="#7d1f4e"/>
<rect x="2186.2" y="1120.22" width="116.5" height="10.60" fill="#791e50"/>
<rect x="2186.2" y="1130.23" width="116.5" height="10.60" fill="#741d50"/>
<rect x="2186.2" y="1140.23" width="116.5" height="10.60" fill="#701b50"/>
<rect x="2186.2" y="1150.23" width="116.5" height="10.60" fill="#6b1a50"/>
<rect x="2186.2" y="1160.23" width="116.5" height="10.60" fill="#671950"/>
<rect x="2186.2" y="1170.24" width="116.5" height="10.60" fill="#621850"/>
<rect x="2186.2" y="1180.24" width="116.5" height="10.60" fill="#5d1750"/>
<rect x="2186.2" y="1190.24" width="116.5" height="10.60" fill="#591650"/>
<rect x="2186.2" y="1200.24" width="116.5" height="10.60" fill="#54154e"/>
<rect x="2186.2" y="1210.25" width="116.5" height="10.60" fill="#4f144c"/>
<rect x="2186.2" y="1220.25" width="116.5" height="10.60" fill="#4a134a"/>
<rect x="2186.2" y="1230.25" width="116.5" height="10.60" fill="#451248"/>
<rect x="2186.2" y="1240.25" width="116.5" height="10.60" fill="#411148"/>
<rect x="2186.2" y="1250.26" width="116.5" height="10.60" fill="#3c1048"/>
<rect x="2186.2" y="1260.26" width="116.5" height="10.60" fill="#370e48"/>
<rect x="2186.2" y="1270.26" width="116.5" height="10.60" fill="#330d48"/>
<rect x="2186.2" y="1280.26" width="116.5" height="10.60" fill="#2e0c48"/>
<rect x="2186.2" y="1290.26" width="116.5" height="10.60" fill="#2a0c42"/>
<rect x="2186.2" y="1300.27" width="116.5" height="10.60" fill="#270b3c"/>
<rect x="2186.2" y="1310.27" width="116.5" height="10.60" fill="#230b37"/>
<rect x="2186.2" y="1320.27" width="116.5" height="10.60" fill="#200a31"/>
<rect x="2186.2" y="1330.27" width="116.5" height="10.60" fill="#1d092d"/>
<rect x="2186.2" y="1340.28" width="116.5" height="10.60" fill="#1b0929"/>
<rect x="2186.2" y="1350.28" width="116.5" height="10.60" fill="#190825"/>
<rect x="2186.2" y="1360.28" width="116.5" height="10.60" fill="#160821"/>
<rect x="2186.2" y="1370.28" width="116.5" height="10.60" fill="#14071d"/>
<rect x="2186.2" y="1380.29" width="116.5" height="10.60" fill="#12061a"/>
<rect x="2186.2" y="1390.29" width="116.5" height="10.60" fill="#100616"/>
<rect x="2186.2" y="1400.29" width="116.5" height="10.60" fill="#0e0514"/>
<rect x="2186.2" y="1410.29" width="116.5" height="10.60" fill="#0c0511"/>
<rect x="2186.2" y="1420.30" width="116.5" height="10.60" fill="#0b040e"/>
<rect x="2186.2" y="1430.30" width="116.5" height="10.60" fill="#09040c"/>
</g>
<g stroke="#000" stroke-width="1.3">
<line x1="2240.7" y1="1389.3" x2="2302.7" y2="1389.3"/>
<line x1="2240.7" y1="1140.4" x2="2302.7" y2="1140.4"/>
<line x1="2240.7" y1="891.6" x2="2302.7" y2="891.6"/>
<line x1="2240.7" y1="642.8" x2="2302.7" y2="642.8"/>
<line x1="2240.7" y1="393.9" x2="2302.7" y2="393.9"/>
</g>
<text x="2315" y="1407.9" font-size="53">0</text>
<text x="2315" y="1159.0" font-size="53">0.2</text>
<text x="2315" y="910.2" font-size="53">0.4</text>
<text x="2315" y="661.4" font-size="53">0.6</text>
<text x="2315" y="412.5" font-size="53">0.8</text>
<text x="443.4" y="1492.5" font-size="53" text-anchor="middle">−0.015</text>
<text x="665.2" y="1492.5" font-size="53" text-anchor="middle">−0.01</text>
<text x="886.9" y="1492.5" font-size="53" text-anchor="middle">−0.005</text>
<text x="1108.7" y="1492.5" font-size="53" text-anchor="middle">0</text>
<text x="1330.4" y="1492.5" font-size="53" text-anchor="middle">0.005</text>
<text x="1552.1" y="1492.5" font-size="53" text-anchor="middle">0.01</text>
<text x="1773.9" y="1492.5" font-size="53" text-anchor="middle">0.015</text>
<text x="1995.6" y="1492.5" font-size="53" text-anchor="middle">0.02</text>
<text y="385.2" font-size="53"><tspan x="214.3 244.9">10</tspan><tspan x="271.0" dy="-21" font-size="37">3</tspan></text>
<text y="569.0" font-size="53"><tspan x="160.9">6</tspan><tspan x="181.9" dy="1.5" font-size="42" font-weight="300" style="font-family:'Noto Sans CJK JP','Liberation Sans',sans-serif">×</tspan><tspan x="214.3 244.9" dy="-1.5">10</tspan><tspan x="271.0" dy="-21" font-size="37">2</tspan></text>
<text y="634.6" font-size="53"><tspan x="160.9">5</tspan><tspan x="181.9" dy="1.5" font-size="42" font-weight="300" style="font-family:'Noto Sans CJK JP','Liberation Sans',sans-serif">×</tspan><tspan x="214.3 244.9" dy="-1.5">10</tspan><tspan x="271.0" dy="-21" font-size="37">2</tspan></text>
<text y="714.9" font-size="53"><tspan x="160.9">4</tspan><tspan x="181.9" dy="1.5" font-size="42" font-weight="300" style="font-family:'Noto Sans CJK JP','Liberation Sans',sans-serif">×</tspan><tspan x="214.3 244.9" dy="-1.5">10</tspan><tspan x="271.0" dy="-21" font-size="37">2</tspan></text>
<text y="818.5" font-size="53"><tspan x="160.9">3</tspan><tspan x="181.9" dy="1.5" font-size="42" font-weight="300" style="font-family:'Noto Sans CJK JP','Liberation Sans',sans-serif">×</tspan><tspan x="214.3 244.9" dy="-1.5">10</tspan><tspan x="271.0" dy="-21" font-size="37">2</tspan></text>
<text y="964.4" font-size="53"><tspan x="160.9">2</tspan><tspan x="181.9" dy="1.5" font-size="42" font-weight="300" style="font-family:'Noto Sans CJK JP','Liberation Sans',sans-serif">×</tspan><tspan x="214.3 244.9" dy="-1.5">10</tspan><tspan x="271.0" dy="-21" font-size="37">2</tspan></text>
<text y="1213.8" font-size="53"><tspan x="214.3 244.9">10</tspan><tspan x="271.0" dy="-21" font-size="37">2</tspan></text>
<text x="291.5" y="1336.9" font-size="53" text-anchor="end">70</text>
<text x="291.5" y="1392.4" font-size="53" text-anchor="end">60</text>
<text y="79.7" font-size="77"><tspan class="s" x="1037.7" font-size="78" textLength="39.96" lengthAdjust="spacingAndGlyphs">ξ</tspan><tspan x="1075.9">(</tspan><tspan class="s" x="1098.2" font-size="75" textLength="41.86" lengthAdjust="spacingAndGlyphs">δ</tspan><tspan x="1138.3"> t, f), Q = 20</tspan></text>
<text x="2177.5" y="1542.6" font-size="52.2" text-anchor="end">Time delay: t(L1) - t(H1) [s]</text>
<text transform="translate(158,156.3) rotate(-90)" x="0" y="0" font-size="52" text-anchor="end">Frequency [Hz]</text>
<text transform="translate(2462.8,594.4) rotate(-90)" font-size="52">Cross-correlation <tspan class="s" x="411.4" font-size="54" textLength="25.57" lengthAdjust="spacingAndGlyphs">ξ</tspan></text>
</svg></body></html>
